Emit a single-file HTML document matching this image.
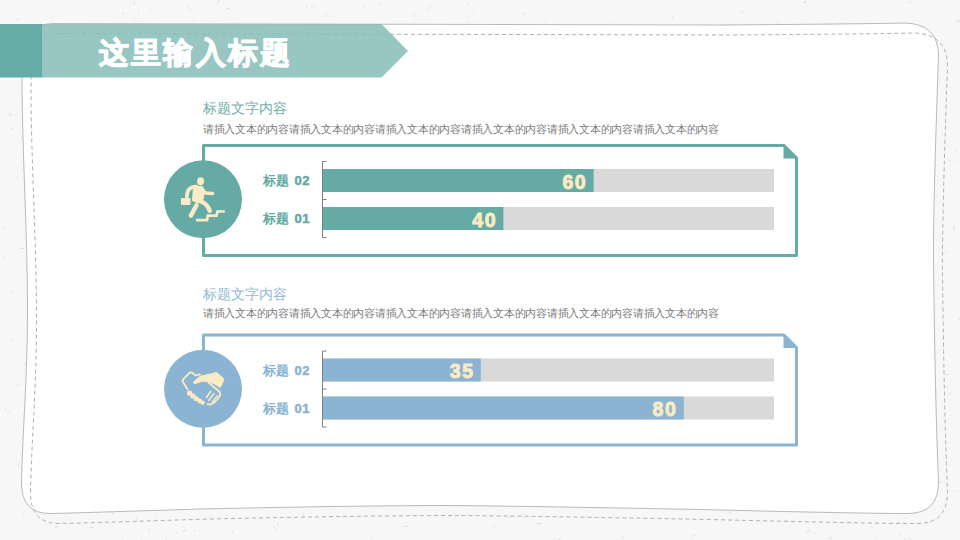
<!DOCTYPE html>
<html><head><meta charset="utf-8">
<style>
html,body{margin:0;padding:0;width:960px;height:540px;overflow:hidden;background:#f7f7f7;}
svg{display:block;font-family:"Liberation Sans",sans-serif;}
</style></head>
<body>
<svg width="960" height="540" viewBox="0 0 960 540">
<rect width="960" height="540" fill="#f7f7f7"/>
<g stroke-width="1">
<line x1="310.9" y1="81.5" x2="314.1" y2="82.2" stroke="rgb(229,229,229)" stroke-opacity="0.55"/>
<line x1="559.5" y1="491.2" x2="561.2" y2="491.7" stroke="rgb(225,225,225)" stroke-opacity="0.53"/>
<line x1="87.1" y1="229.2" x2="90.7" y2="230.7" stroke="rgb(219,219,219)" stroke-opacity="0.82"/>
<line x1="559.7" y1="33.4" x2="562.7" y2="33.9" stroke="rgb(219,219,219)" stroke-opacity="0.52"/>
<line x1="824.1" y1="156.4" x2="825.5" y2="156.9" stroke="rgb(221,221,221)" stroke-opacity="0.78"/>
<line x1="654.7" y1="55.7" x2="657.2" y2="57.3" stroke="rgb(215,215,215)" stroke-opacity="0.77"/>
<line x1="60.3" y1="32.2" x2="59.4" y2="33.6" stroke="rgb(225,225,225)" stroke-opacity="0.89"/>
<line x1="447.0" y1="498.7" x2="448.6" y2="500.3" stroke="rgb(217,217,217)" stroke-opacity="0.85"/>
<line x1="234.3" y1="310.2" x2="231.7" y2="311.3" stroke="rgb(235,235,235)" stroke-opacity="0.72"/>
<line x1="584.6" y1="39.5" x2="587.0" y2="40.9" stroke="rgb(222,222,222)" stroke-opacity="0.58"/>
<line x1="469.4" y1="21.2" x2="466.9" y2="23.4" stroke="rgb(230,230,230)" stroke-opacity="0.89"/>
<line x1="785.6" y1="183.7" x2="785.6" y2="185.9" stroke="rgb(226,226,226)" stroke-opacity="0.53"/>
<line x1="89.9" y1="145.8" x2="93.2" y2="146.5" stroke="rgb(235,235,235)" stroke-opacity="0.85"/>
<line x1="621.2" y1="536.3" x2="623.7" y2="539.3" stroke="rgb(224,224,224)" stroke-opacity="0.94"/>
<line x1="333.1" y1="508.0" x2="332.4" y2="510.1" stroke="rgb(227,227,227)" stroke-opacity="0.53"/>
<line x1="737.5" y1="69.8" x2="738.1" y2="71.6" stroke="rgb(227,227,227)" stroke-opacity="0.54"/>
<line x1="431.2" y1="296.7" x2="427.8" y2="298.9" stroke="rgb(229,229,229)" stroke-opacity="0.64"/>
<line x1="398.7" y1="193.7" x2="394.6" y2="194.3" stroke="rgb(216,216,216)" stroke-opacity="0.54"/>
<line x1="145.2" y1="355.6" x2="144.3" y2="356.1" stroke="rgb(217,217,217)" stroke-opacity="0.63"/>
<line x1="3.9" y1="226.2" x2="3.5" y2="228.5" stroke="rgb(216,216,216)" stroke-opacity="0.85"/>
<line x1="494.9" y1="333.5" x2="498.2" y2="334.1" stroke="rgb(236,236,236)" stroke-opacity="0.98"/>
<line x1="653.4" y1="302.0" x2="654.1" y2="304.3" stroke="rgb(227,227,227)" stroke-opacity="0.82"/>
<line x1="59.8" y1="36.4" x2="61.3" y2="37.2" stroke="rgb(222,222,222)" stroke-opacity="0.80"/>
<line x1="98.3" y1="306.1" x2="95.4" y2="306.5" stroke="rgb(231,231,231)" stroke-opacity="0.51"/>
<line x1="839.4" y1="331.6" x2="840.4" y2="332.7" stroke="rgb(223,223,223)" stroke-opacity="0.80"/>
<line x1="455.2" y1="62.3" x2="452.5" y2="62.5" stroke="rgb(227,227,227)" stroke-opacity="0.74"/>
<line x1="82.4" y1="55.2" x2="83.9" y2="56.8" stroke="rgb(234,234,234)" stroke-opacity="0.58"/>
<line x1="22.2" y1="513.5" x2="24.7" y2="514.8" stroke="rgb(229,229,229)" stroke-opacity="0.96"/>
<line x1="727.8" y1="161.0" x2="730.9" y2="161.9" stroke="rgb(220,220,220)" stroke-opacity="0.76"/>
<line x1="871.9" y1="192.1" x2="871.7" y2="193.8" stroke="rgb(228,228,228)" stroke-opacity="0.66"/>
<line x1="214.1" y1="438.2" x2="210.1" y2="440.2" stroke="rgb(219,219,219)" stroke-opacity="0.91"/>
<line x1="710.3" y1="122.4" x2="711.5" y2="125.0" stroke="rgb(212,212,212)" stroke-opacity="0.99"/>
<line x1="758.5" y1="255.0" x2="758.0" y2="256.6" stroke="rgb(223,223,223)" stroke-opacity="0.72"/>
<line x1="899.5" y1="533.5" x2="901.3" y2="537.5" stroke="rgb(219,219,219)" stroke-opacity="0.55"/>
<line x1="451.3" y1="182.4" x2="448.6" y2="182.5" stroke="rgb(231,231,231)" stroke-opacity="0.92"/>
<line x1="460.3" y1="352.6" x2="464.0" y2="353.6" stroke="rgb(233,233,233)" stroke-opacity="0.56"/>
<line x1="373.0" y1="384.2" x2="371.4" y2="384.8" stroke="rgb(225,225,225)" stroke-opacity="0.89"/>
<line x1="319.2" y1="432.4" x2="320.6" y2="436.6" stroke="rgb(224,224,224)" stroke-opacity="0.87"/>
<line x1="81.5" y1="85.8" x2="86.0" y2="86.2" stroke="rgb(230,230,230)" stroke-opacity="0.95"/>
<line x1="774.2" y1="78.9" x2="770.4" y2="79.2" stroke="rgb(233,233,233)" stroke-opacity="0.97"/>
<line x1="149.7" y1="296.1" x2="148.8" y2="296.7" stroke="rgb(235,235,235)" stroke-opacity="0.82"/>
<line x1="505.5" y1="504.2" x2="503.2" y2="505.1" stroke="rgb(218,218,218)" stroke-opacity="0.51"/>
<line x1="204.3" y1="270.6" x2="206.2" y2="273.8" stroke="rgb(229,229,229)" stroke-opacity="0.71"/>
<line x1="125.8" y1="491.4" x2="126.1" y2="493.6" stroke="rgb(230,230,230)" stroke-opacity="0.91"/>
<line x1="496.1" y1="446.7" x2="499.8" y2="448.3" stroke="rgb(216,216,216)" stroke-opacity="0.76"/>
<line x1="18.0" y1="237.7" x2="19.6" y2="237.7" stroke="rgb(216,216,216)" stroke-opacity="0.59"/>
<line x1="454.6" y1="391.6" x2="456.1" y2="394.1" stroke="rgb(228,228,228)" stroke-opacity="0.77"/>
<line x1="463.2" y1="419.3" x2="467.2" y2="420.0" stroke="rgb(218,218,218)" stroke-opacity="0.64"/>
<line x1="741.4" y1="274.2" x2="739.2" y2="276.2" stroke="rgb(214,214,214)" stroke-opacity="0.72"/>
<line x1="588.0" y1="273.0" x2="586.4" y2="275.3" stroke="rgb(226,226,226)" stroke-opacity="0.75"/>
<line x1="775.1" y1="274.2" x2="774.9" y2="276.0" stroke="rgb(220,220,220)" stroke-opacity="0.96"/>
<line x1="857.0" y1="109.4" x2="857.7" y2="111.9" stroke="rgb(224,224,224)" stroke-opacity="0.72"/>
<line x1="69.6" y1="129.9" x2="69.0" y2="131.0" stroke="rgb(215,215,215)" stroke-opacity="0.95"/>
<line x1="148.3" y1="386.7" x2="151.3" y2="388.1" stroke="rgb(216,216,216)" stroke-opacity="0.98"/>
<line x1="210.8" y1="514.4" x2="210.9" y2="516.7" stroke="rgb(233,233,233)" stroke-opacity="0.92"/>
<line x1="155.0" y1="233.0" x2="156.4" y2="235.5" stroke="rgb(218,218,218)" stroke-opacity="0.68"/>
<line x1="88.5" y1="197.6" x2="88.8" y2="199.8" stroke="rgb(234,234,234)" stroke-opacity="0.51"/>
<line x1="318.2" y1="336.9" x2="321.0" y2="337.5" stroke="rgb(219,219,219)" stroke-opacity="0.99"/>
<line x1="100.6" y1="143.4" x2="99.7" y2="144.1" stroke="rgb(220,220,220)" stroke-opacity="0.88"/>
<line x1="787.0" y1="458.8" x2="783.7" y2="459.3" stroke="rgb(224,224,224)" stroke-opacity="0.57"/>
<line x1="882.4" y1="308.1" x2="885.7" y2="309.1" stroke="rgb(213,213,213)" stroke-opacity="0.90"/>
<line x1="176.0" y1="483.5" x2="177.9" y2="483.6" stroke="rgb(214,214,214)" stroke-opacity="0.90"/>
<line x1="80.4" y1="462.4" x2="79.3" y2="462.9" stroke="rgb(226,226,226)" stroke-opacity="0.51"/>
<line x1="954.5" y1="225.6" x2="953.0" y2="229.5" stroke="rgb(213,213,213)" stroke-opacity="0.76"/>
<line x1="228.9" y1="59.1" x2="230.4" y2="59.4" stroke="rgb(218,218,218)" stroke-opacity="0.97"/>
<line x1="603.5" y1="286.8" x2="603.8" y2="288.5" stroke="rgb(233,233,233)" stroke-opacity="0.59"/>
<line x1="333.1" y1="9.8" x2="335.0" y2="9.9" stroke="rgb(235,235,235)" stroke-opacity="0.75"/>
<line x1="938.9" y1="277.7" x2="939.2" y2="279.5" stroke="rgb(233,233,233)" stroke-opacity="0.91"/>
<line x1="414.9" y1="267.3" x2="416.2" y2="271.0" stroke="rgb(228,228,228)" stroke-opacity="0.65"/>
<line x1="206.6" y1="124.0" x2="205.0" y2="124.6" stroke="rgb(235,235,235)" stroke-opacity="0.82"/>
<line x1="388.5" y1="187.7" x2="389.6" y2="188.2" stroke="rgb(214,214,214)" stroke-opacity="0.81"/>
<line x1="844.7" y1="232.6" x2="844.1" y2="233.6" stroke="rgb(224,224,224)" stroke-opacity="0.94"/>
<line x1="643.7" y1="152.2" x2="644.8" y2="153.7" stroke="rgb(226,226,226)" stroke-opacity="0.59"/>
<line x1="258.3" y1="2.0" x2="259.4" y2="3.9" stroke="rgb(229,229,229)" stroke-opacity="0.66"/>
<line x1="33.1" y1="476.5" x2="34.5" y2="477.4" stroke="rgb(222,222,222)" stroke-opacity="0.69"/>
<line x1="455.7" y1="271.5" x2="455.6" y2="273.2" stroke="rgb(212,212,212)" stroke-opacity="0.55"/>
<line x1="784.4" y1="77.7" x2="785.4" y2="80.6" stroke="rgb(221,221,221)" stroke-opacity="0.65"/>
<line x1="223.5" y1="316.2" x2="221.5" y2="318.2" stroke="rgb(233,233,233)" stroke-opacity="0.95"/>
<line x1="752.7" y1="322.1" x2="750.3" y2="325.0" stroke="rgb(227,227,227)" stroke-opacity="0.57"/>
<line x1="695.2" y1="347.3" x2="694.2" y2="347.9" stroke="rgb(228,228,228)" stroke-opacity="0.81"/>
<line x1="704.5" y1="438.6" x2="704.4" y2="440.1" stroke="rgb(228,228,228)" stroke-opacity="0.78"/>
<line x1="780.4" y1="8.7" x2="777.6" y2="10.7" stroke="rgb(234,234,234)" stroke-opacity="0.84"/>
<line x1="665.6" y1="124.2" x2="666.6" y2="124.6" stroke="rgb(223,223,223)" stroke-opacity="0.98"/>
<line x1="361.6" y1="243.7" x2="362.7" y2="243.8" stroke="rgb(229,229,229)" stroke-opacity="0.84"/>
<line x1="469.7" y1="1.8" x2="467.1" y2="4.5" stroke="rgb(228,228,228)" stroke-opacity="0.95"/>
<line x1="88.3" y1="284.0" x2="88.6" y2="287.6" stroke="rgb(214,214,214)" stroke-opacity="0.92"/>
<line x1="225.4" y1="408.5" x2="224.6" y2="410.1" stroke="rgb(226,226,226)" stroke-opacity="0.75"/>
<line x1="367.3" y1="258.7" x2="364.7" y2="260.9" stroke="rgb(231,231,231)" stroke-opacity="0.82"/>
<line x1="190.4" y1="323.8" x2="189.4" y2="325.8" stroke="rgb(234,234,234)" stroke-opacity="0.65"/>
<line x1="545.1" y1="6.7" x2="545.9" y2="7.6" stroke="rgb(233,233,233)" stroke-opacity="0.55"/>
<line x1="209.0" y1="264.4" x2="211.2" y2="267.1" stroke="rgb(226,226,226)" stroke-opacity="0.73"/>
<line x1="113.8" y1="482.6" x2="112.1" y2="482.7" stroke="rgb(227,227,227)" stroke-opacity="0.51"/>
<line x1="440.6" y1="442.7" x2="441.3" y2="447.1" stroke="rgb(220,220,220)" stroke-opacity="0.69"/>
<line x1="879.9" y1="502.5" x2="881.1" y2="502.8" stroke="rgb(235,235,235)" stroke-opacity="0.76"/>
<line x1="914.6" y1="71.6" x2="914.5" y2="75.5" stroke="rgb(215,215,215)" stroke-opacity="0.85"/>
<line x1="222.1" y1="484.8" x2="224.8" y2="485.0" stroke="rgb(212,212,212)" stroke-opacity="0.97"/>
<line x1="654.3" y1="218.9" x2="655.2" y2="222.3" stroke="rgb(224,224,224)" stroke-opacity="0.66"/>
<line x1="806.6" y1="0.9" x2="803.4" y2="2.7" stroke="rgb(215,215,215)" stroke-opacity="0.97"/>
<line x1="187.9" y1="6.3" x2="190.4" y2="8.9" stroke="rgb(214,214,214)" stroke-opacity="0.70"/>
<line x1="958.8" y1="318.2" x2="959.3" y2="320.4" stroke="rgb(220,220,220)" stroke-opacity="0.93"/>
<line x1="269.4" y1="27.9" x2="268.0" y2="30.9" stroke="rgb(216,216,216)" stroke-opacity="0.62"/>
<line x1="255.1" y1="275.9" x2="255.7" y2="277.5" stroke="rgb(225,225,225)" stroke-opacity="0.94"/>
<line x1="779.5" y1="340.7" x2="775.4" y2="341.5" stroke="rgb(229,229,229)" stroke-opacity="0.60"/>
<line x1="77.4" y1="504.1" x2="76.5" y2="506.4" stroke="rgb(216,216,216)" stroke-opacity="0.82"/>
<line x1="274.8" y1="26.4" x2="278.7" y2="28.1" stroke="rgb(227,227,227)" stroke-opacity="0.71"/>
<line x1="270.5" y1="138.1" x2="268.8" y2="141.3" stroke="rgb(224,224,224)" stroke-opacity="0.83"/>
<line x1="288.8" y1="301.0" x2="290.9" y2="302.1" stroke="rgb(217,217,217)" stroke-opacity="0.54"/>
<line x1="480.6" y1="438.4" x2="481.0" y2="441.3" stroke="rgb(222,222,222)" stroke-opacity="1.00"/>
<line x1="432.0" y1="75.4" x2="433.6" y2="75.9" stroke="rgb(222,222,222)" stroke-opacity="0.78"/>
<line x1="306.5" y1="198.9" x2="309.6" y2="201.2" stroke="rgb(212,212,212)" stroke-opacity="0.87"/>
<line x1="396.3" y1="223.5" x2="397.3" y2="226.1" stroke="rgb(222,222,222)" stroke-opacity="0.88"/>
<line x1="478.2" y1="310.1" x2="477.0" y2="312.0" stroke="rgb(228,228,228)" stroke-opacity="0.81"/>
<line x1="828.3" y1="116.6" x2="829.7" y2="118.0" stroke="rgb(224,224,224)" stroke-opacity="0.82"/>
<line x1="414.6" y1="168.5" x2="410.7" y2="168.9" stroke="rgb(216,216,216)" stroke-opacity="0.52"/>
<line x1="681.1" y1="483.7" x2="680.4" y2="486.2" stroke="rgb(212,212,212)" stroke-opacity="0.54"/>
<line x1="893.0" y1="501.2" x2="893.3" y2="504.0" stroke="rgb(226,226,226)" stroke-opacity="0.62"/>
<line x1="104.7" y1="83.4" x2="103.2" y2="85.7" stroke="rgb(235,235,235)" stroke-opacity="0.85"/>
<line x1="812.6" y1="483.2" x2="811.7" y2="484.1" stroke="rgb(212,212,212)" stroke-opacity="0.89"/>
<line x1="223.3" y1="496.8" x2="225.2" y2="499.4" stroke="rgb(216,216,216)" stroke-opacity="0.81"/>
<line x1="507.1" y1="236.2" x2="510.6" y2="237.3" stroke="rgb(221,221,221)" stroke-opacity="0.76"/>
<line x1="559.6" y1="209.6" x2="559.0" y2="211.3" stroke="rgb(212,212,212)" stroke-opacity="0.77"/>
<line x1="956.5" y1="150.4" x2="954.7" y2="151.5" stroke="rgb(219,219,219)" stroke-opacity="0.74"/>
<line x1="225.4" y1="133.4" x2="222.8" y2="136.9" stroke="rgb(221,221,221)" stroke-opacity="0.53"/>
<line x1="186.4" y1="477.8" x2="189.5" y2="478.6" stroke="rgb(219,219,219)" stroke-opacity="0.83"/>
<line x1="888.2" y1="122.5" x2="888.7" y2="123.4" stroke="rgb(225,225,225)" stroke-opacity="0.68"/>
<line x1="380.5" y1="3.6" x2="378.7" y2="4.6" stroke="rgb(214,214,214)" stroke-opacity="0.60"/>
<line x1="931.1" y1="168.3" x2="934.0" y2="170.9" stroke="rgb(219,219,219)" stroke-opacity="0.63"/>
<line x1="853.8" y1="58.9" x2="852.7" y2="61.9" stroke="rgb(219,219,219)" stroke-opacity="0.74"/>
<line x1="874.0" y1="30.5" x2="871.0" y2="31.2" stroke="rgb(213,213,213)" stroke-opacity="0.61"/>
<line x1="935.2" y1="76.6" x2="936.3" y2="76.9" stroke="rgb(224,224,224)" stroke-opacity="0.72"/>
<line x1="683.6" y1="169.7" x2="684.9" y2="170.0" stroke="rgb(217,217,217)" stroke-opacity="0.66"/>
<line x1="178.1" y1="505.4" x2="181.7" y2="505.7" stroke="rgb(233,233,233)" stroke-opacity="0.86"/>
<line x1="805.6" y1="531.9" x2="808.0" y2="532.7" stroke="rgb(214,214,214)" stroke-opacity="0.64"/>
<line x1="337.4" y1="516.0" x2="336.0" y2="516.1" stroke="rgb(218,218,218)" stroke-opacity="0.69"/>
<line x1="738.0" y1="166.7" x2="741.7" y2="167.7" stroke="rgb(234,234,234)" stroke-opacity="0.74"/>
<line x1="357.8" y1="496.5" x2="358.5" y2="498.1" stroke="rgb(227,227,227)" stroke-opacity="0.52"/>
<line x1="394.4" y1="438.4" x2="398.0" y2="438.9" stroke="rgb(213,213,213)" stroke-opacity="0.73"/>
<line x1="771.2" y1="33.5" x2="772.9" y2="33.8" stroke="rgb(231,231,231)" stroke-opacity="0.67"/>
<line x1="261.4" y1="517.2" x2="263.6" y2="519.5" stroke="rgb(234,234,234)" stroke-opacity="0.84"/>
<line x1="887.3" y1="160.6" x2="886.2" y2="164.0" stroke="rgb(232,232,232)" stroke-opacity="0.97"/>
<line x1="62.7" y1="446.0" x2="61.9" y2="447.1" stroke="rgb(226,226,226)" stroke-opacity="0.98"/>
<line x1="371.1" y1="135.6" x2="371.1" y2="138.1" stroke="rgb(227,227,227)" stroke-opacity="0.59"/>
<line x1="770.5" y1="398.8" x2="767.5" y2="401.3" stroke="rgb(231,231,231)" stroke-opacity="0.62"/>
<line x1="826.8" y1="248.8" x2="825.7" y2="252.4" stroke="rgb(228,228,228)" stroke-opacity="0.60"/>
<line x1="722.8" y1="133.5" x2="724.0" y2="133.7" stroke="rgb(229,229,229)" stroke-opacity="0.77"/>
<line x1="154.3" y1="230.3" x2="155.6" y2="230.6" stroke="rgb(231,231,231)" stroke-opacity="0.54"/>
<line x1="92.6" y1="269.2" x2="93.1" y2="272.6" stroke="rgb(219,219,219)" stroke-opacity="0.57"/>
<line x1="442.5" y1="481.3" x2="442.3" y2="483.1" stroke="rgb(236,236,236)" stroke-opacity="0.83"/>
<line x1="116.3" y1="454.1" x2="115.9" y2="456.1" stroke="rgb(223,223,223)" stroke-opacity="0.63"/>
<line x1="249.9" y1="237.3" x2="251.1" y2="238.4" stroke="rgb(221,221,221)" stroke-opacity="0.94"/>
<line x1="555.1" y1="176.2" x2="552.8" y2="176.3" stroke="rgb(228,228,228)" stroke-opacity="0.76"/>
<line x1="623.7" y1="54.3" x2="626.3" y2="54.6" stroke="rgb(212,212,212)" stroke-opacity="0.74"/>
<line x1="786.3" y1="453.9" x2="790.5" y2="454.4" stroke="rgb(221,221,221)" stroke-opacity="0.62"/>
<line x1="48.4" y1="324.3" x2="51.6" y2="326.5" stroke="rgb(214,214,214)" stroke-opacity="0.69"/>
<line x1="831.5" y1="242.5" x2="830.0" y2="243.7" stroke="rgb(212,212,212)" stroke-opacity="0.55"/>
<line x1="572.3" y1="334.8" x2="573.0" y2="336.4" stroke="rgb(216,216,216)" stroke-opacity="0.52"/>
<line x1="959.9" y1="20.6" x2="956.4" y2="21.6" stroke="rgb(212,212,212)" stroke-opacity="0.91"/>
<line x1="392.6" y1="200.8" x2="395.7" y2="201.5" stroke="rgb(213,213,213)" stroke-opacity="0.90"/>
<line x1="526.1" y1="34.2" x2="526.6" y2="35.4" stroke="rgb(229,229,229)" stroke-opacity="0.58"/>
<line x1="512.6" y1="352.7" x2="514.2" y2="354.5" stroke="rgb(221,221,221)" stroke-opacity="0.83"/>
<line x1="401.1" y1="27.7" x2="397.8" y2="29.0" stroke="rgb(225,225,225)" stroke-opacity="0.71"/>
<line x1="829.7" y1="538.2" x2="831.5" y2="539.5" stroke="rgb(235,235,235)" stroke-opacity="0.70"/>
<line x1="904.3" y1="234.4" x2="905.8" y2="235.0" stroke="rgb(214,214,214)" stroke-opacity="0.70"/>
<line x1="847.5" y1="248.9" x2="849.1" y2="249.0" stroke="rgb(229,229,229)" stroke-opacity="0.57"/>
<line x1="774.2" y1="214.2" x2="771.3" y2="214.9" stroke="rgb(235,235,235)" stroke-opacity="0.75"/>
<line x1="140.1" y1="153.0" x2="137.3" y2="153.6" stroke="rgb(215,215,215)" stroke-opacity="0.69"/>
<line x1="723.4" y1="427.8" x2="725.6" y2="430.9" stroke="rgb(213,213,213)" stroke-opacity="0.99"/>
<line x1="463.4" y1="28.8" x2="464.9" y2="32.8" stroke="rgb(234,234,234)" stroke-opacity="0.81"/>
<line x1="791.6" y1="86.5" x2="794.4" y2="89.0" stroke="rgb(224,224,224)" stroke-opacity="0.81"/>
<line x1="188.3" y1="255.4" x2="191.2" y2="255.8" stroke="rgb(228,228,228)" stroke-opacity="0.58"/>
<line x1="344.8" y1="80.7" x2="341.2" y2="83.1" stroke="rgb(218,218,218)" stroke-opacity="0.52"/>
<line x1="539.8" y1="409.0" x2="538.9" y2="409.6" stroke="rgb(215,215,215)" stroke-opacity="0.69"/>
<line x1="437.5" y1="458.5" x2="435.8" y2="461.8" stroke="rgb(221,221,221)" stroke-opacity="0.79"/>
<line x1="408.7" y1="355.8" x2="409.2" y2="358.3" stroke="rgb(212,212,212)" stroke-opacity="0.50"/>
<line x1="946.7" y1="251.2" x2="945.8" y2="253.6" stroke="rgb(226,226,226)" stroke-opacity="0.92"/>
<line x1="778.1" y1="216.2" x2="778.6" y2="217.3" stroke="rgb(223,223,223)" stroke-opacity="0.55"/>
<line x1="424.3" y1="275.5" x2="423.8" y2="276.5" stroke="rgb(214,214,214)" stroke-opacity="0.96"/>
<line x1="301.2" y1="389.0" x2="300.3" y2="389.9" stroke="rgb(224,224,224)" stroke-opacity="0.83"/>
<line x1="752.9" y1="14.0" x2="752.4" y2="15.1" stroke="rgb(234,234,234)" stroke-opacity="0.91"/>
<line x1="186.0" y1="530.1" x2="183.3" y2="530.5" stroke="rgb(217,217,217)" stroke-opacity="0.84"/>
<line x1="692.2" y1="119.4" x2="690.9" y2="123.1" stroke="rgb(220,220,220)" stroke-opacity="0.58"/>
<line x1="860.7" y1="148.5" x2="864.1" y2="150.2" stroke="rgb(228,228,228)" stroke-opacity="0.98"/>
<line x1="460.9" y1="319.6" x2="463.2" y2="321.8" stroke="rgb(223,223,223)" stroke-opacity="0.52"/>
<line x1="174.8" y1="87.1" x2="172.5" y2="90.7" stroke="rgb(224,224,224)" stroke-opacity="0.58"/>
<line x1="753.5" y1="62.1" x2="752.3" y2="64.7" stroke="rgb(223,223,223)" stroke-opacity="0.98"/>
<line x1="434.9" y1="281.6" x2="431.7" y2="282.7" stroke="rgb(220,220,220)" stroke-opacity="1.00"/>
<line x1="604.6" y1="212.9" x2="607.1" y2="215.7" stroke="rgb(223,223,223)" stroke-opacity="0.79"/>
<line x1="345.8" y1="412.9" x2="348.0" y2="414.2" stroke="rgb(235,235,235)" stroke-opacity="0.98"/>
<line x1="284.5" y1="278.7" x2="282.5" y2="278.9" stroke="rgb(230,230,230)" stroke-opacity="0.96"/>
<line x1="859.9" y1="395.8" x2="862.7" y2="398.2" stroke="rgb(221,221,221)" stroke-opacity="0.81"/>
<line x1="414.9" y1="276.8" x2="418.7" y2="278.5" stroke="rgb(219,219,219)" stroke-opacity="0.81"/>
<line x1="43.8" y1="29.4" x2="45.5" y2="31.8" stroke="rgb(228,228,228)" stroke-opacity="0.68"/>
<line x1="215.3" y1="315.1" x2="217.7" y2="317.0" stroke="rgb(231,231,231)" stroke-opacity="0.91"/>
<line x1="152.3" y1="7.6" x2="150.0" y2="10.6" stroke="rgb(226,226,226)" stroke-opacity="0.55"/>
<line x1="612.7" y1="470.5" x2="613.8" y2="474.1" stroke="rgb(220,220,220)" stroke-opacity="0.98"/>
<line x1="53.9" y1="443.3" x2="52.7" y2="447.2" stroke="rgb(230,230,230)" stroke-opacity="0.72"/>
<line x1="899.7" y1="396.1" x2="897.9" y2="396.7" stroke="rgb(213,213,213)" stroke-opacity="0.53"/>
<line x1="24.2" y1="100.3" x2="22.7" y2="100.7" stroke="rgb(215,215,215)" stroke-opacity="0.51"/>
<line x1="528.9" y1="508.1" x2="530.1" y2="509.0" stroke="rgb(231,231,231)" stroke-opacity="0.82"/>
<line x1="621.7" y1="224.2" x2="621.6" y2="227.4" stroke="rgb(214,214,214)" stroke-opacity="0.65"/>
<line x1="46.6" y1="480.3" x2="44.2" y2="483.2" stroke="rgb(212,212,212)" stroke-opacity="0.69"/>
<line x1="419.2" y1="492.6" x2="418.6" y2="493.8" stroke="rgb(217,217,217)" stroke-opacity="0.61"/>
<line x1="101.1" y1="125.4" x2="101.6" y2="126.4" stroke="rgb(235,235,235)" stroke-opacity="0.96"/>
<line x1="905.1" y1="142.2" x2="904.6" y2="143.3" stroke="rgb(233,233,233)" stroke-opacity="0.72"/>
<line x1="756.9" y1="282.6" x2="756.1" y2="284.3" stroke="rgb(218,218,218)" stroke-opacity="0.54"/>
<line x1="487.1" y1="91.7" x2="483.5" y2="93.7" stroke="rgb(218,218,218)" stroke-opacity="0.97"/>
<line x1="716.3" y1="176.5" x2="718.4" y2="180.0" stroke="rgb(219,219,219)" stroke-opacity="0.69"/>
<line x1="817.9" y1="497.7" x2="814.0" y2="499.8" stroke="rgb(229,229,229)" stroke-opacity="0.73"/>
<line x1="806.1" y1="376.7" x2="806.9" y2="380.6" stroke="rgb(235,235,235)" stroke-opacity="0.62"/>
<line x1="849.4" y1="426.2" x2="848.7" y2="428.5" stroke="rgb(230,230,230)" stroke-opacity="0.96"/>
<line x1="138.8" y1="14.5" x2="137.5" y2="14.8" stroke="rgb(223,223,223)" stroke-opacity="0.99"/>
<line x1="672.7" y1="16.7" x2="672.1" y2="18.0" stroke="rgb(213,213,213)" stroke-opacity="0.85"/>
<line x1="707.3" y1="35.5" x2="708.6" y2="38.3" stroke="rgb(229,229,229)" stroke-opacity="0.95"/>
<line x1="63.3" y1="468.6" x2="59.2" y2="469.3" stroke="rgb(215,215,215)" stroke-opacity="0.62"/>
<line x1="195.0" y1="18.3" x2="190.9" y2="19.5" stroke="rgb(236,236,236)" stroke-opacity="0.82"/>
<line x1="792.1" y1="341.0" x2="794.0" y2="341.6" stroke="rgb(215,215,215)" stroke-opacity="0.90"/>
<line x1="620.5" y1="159.0" x2="622.0" y2="160.6" stroke="rgb(223,223,223)" stroke-opacity="0.63"/>
<line x1="271.3" y1="386.5" x2="272.5" y2="388.4" stroke="rgb(231,231,231)" stroke-opacity="0.75"/>
<line x1="817.3" y1="333.9" x2="817.6" y2="334.9" stroke="rgb(225,225,225)" stroke-opacity="0.76"/>
<line x1="94.4" y1="253.2" x2="94.1" y2="254.4" stroke="rgb(234,234,234)" stroke-opacity="0.93"/>
<line x1="87.3" y1="442.7" x2="88.9" y2="442.7" stroke="rgb(218,218,218)" stroke-opacity="0.64"/>
<line x1="720.5" y1="29.1" x2="722.6" y2="29.8" stroke="rgb(234,234,234)" stroke-opacity="0.90"/>
<line x1="177.1" y1="267.1" x2="175.2" y2="268.2" stroke="rgb(220,220,220)" stroke-opacity="0.79"/>
<line x1="152.5" y1="440.2" x2="155.7" y2="443.1" stroke="rgb(217,217,217)" stroke-opacity="0.55"/>
<line x1="611.1" y1="43.7" x2="608.9" y2="46.7" stroke="rgb(215,215,215)" stroke-opacity="0.81"/>
<line x1="341.4" y1="216.7" x2="339.2" y2="217.5" stroke="rgb(214,214,214)" stroke-opacity="0.71"/>
<line x1="620.0" y1="200.9" x2="620.5" y2="202.9" stroke="rgb(229,229,229)" stroke-opacity="0.75"/>
<line x1="364.1" y1="477.3" x2="364.4" y2="479.2" stroke="rgb(229,229,229)" stroke-opacity="0.80"/>
<line x1="661.7" y1="326.9" x2="661.4" y2="328.0" stroke="rgb(228,228,228)" stroke-opacity="0.58"/>
<line x1="809.4" y1="357.5" x2="812.5" y2="359.4" stroke="rgb(226,226,226)" stroke-opacity="0.84"/>
<line x1="246.9" y1="124.8" x2="246.0" y2="126.7" stroke="rgb(234,234,234)" stroke-opacity="0.62"/>
<line x1="183.9" y1="162.8" x2="180.9" y2="164.4" stroke="rgb(216,216,216)" stroke-opacity="0.86"/>
<line x1="935.8" y1="390.5" x2="937.2" y2="393.3" stroke="rgb(219,219,219)" stroke-opacity="0.66"/>
<line x1="181.7" y1="526.6" x2="185.1" y2="527.7" stroke="rgb(233,233,233)" stroke-opacity="0.55"/>
<line x1="368.9" y1="531.3" x2="366.3" y2="534.1" stroke="rgb(225,225,225)" stroke-opacity="0.64"/>
<line x1="104.9" y1="492.2" x2="103.1" y2="492.9" stroke="rgb(226,226,226)" stroke-opacity="0.52"/>
<line x1="383.1" y1="427.1" x2="383.1" y2="430.6" stroke="rgb(232,232,232)" stroke-opacity="0.65"/>
<line x1="21.2" y1="138.9" x2="24.8" y2="139.0" stroke="rgb(219,219,219)" stroke-opacity="0.95"/>
<line x1="412.8" y1="309.9" x2="413.7" y2="313.5" stroke="rgb(219,219,219)" stroke-opacity="0.83"/>
<line x1="626.4" y1="473.9" x2="625.5" y2="477.0" stroke="rgb(219,219,219)" stroke-opacity="0.84"/>
<line x1="615.9" y1="245.1" x2="615.1" y2="247.0" stroke="rgb(215,215,215)" stroke-opacity="0.95"/>
<line x1="232.7" y1="216.1" x2="235.8" y2="217.7" stroke="rgb(225,225,225)" stroke-opacity="0.74"/>
<line x1="18.9" y1="463.6" x2="17.5" y2="466.1" stroke="rgb(217,217,217)" stroke-opacity="0.95"/>
<line x1="314.9" y1="5.7" x2="311.2" y2="6.9" stroke="rgb(215,215,215)" stroke-opacity="0.52"/>
<line x1="521.6" y1="86.9" x2="518.0" y2="87.5" stroke="rgb(228,228,228)" stroke-opacity="0.67"/>
<line x1="813.3" y1="246.7" x2="813.4" y2="248.4" stroke="rgb(212,212,212)" stroke-opacity="0.82"/>
<line x1="795.8" y1="281.7" x2="793.4" y2="282.1" stroke="rgb(218,218,218)" stroke-opacity="1.00"/>
<line x1="176.5" y1="277.4" x2="173.6" y2="280.7" stroke="rgb(231,231,231)" stroke-opacity="0.68"/>
<line x1="54.4" y1="148.2" x2="56.8" y2="148.3" stroke="rgb(225,225,225)" stroke-opacity="0.96"/>
<line x1="603.4" y1="364.4" x2="606.3" y2="365.5" stroke="rgb(221,221,221)" stroke-opacity="0.87"/>
<line x1="902.3" y1="284.6" x2="900.9" y2="285.7" stroke="rgb(224,224,224)" stroke-opacity="0.73"/>
<line x1="158.0" y1="501.9" x2="157.0" y2="502.6" stroke="rgb(218,218,218)" stroke-opacity="0.73"/>
<line x1="539.6" y1="122.0" x2="541.5" y2="125.9" stroke="rgb(232,232,232)" stroke-opacity="0.92"/>
<line x1="763.4" y1="223.2" x2="760.2" y2="226.2" stroke="rgb(232,232,232)" stroke-opacity="0.56"/>
<line x1="800.4" y1="191.6" x2="803.0" y2="194.5" stroke="rgb(224,224,224)" stroke-opacity="0.84"/>
<line x1="943.6" y1="366.6" x2="941.4" y2="368.1" stroke="rgb(220,220,220)" stroke-opacity="0.68"/>
<line x1="628.2" y1="173.0" x2="627.2" y2="175.5" stroke="rgb(214,214,214)" stroke-opacity="0.83"/>
<line x1="347.9" y1="501.5" x2="351.9" y2="502.2" stroke="rgb(230,230,230)" stroke-opacity="0.95"/>
<line x1="752.7" y1="75.8" x2="751.1" y2="79.4" stroke="rgb(212,212,212)" stroke-opacity="0.83"/>
<line x1="201.4" y1="38.9" x2="200.7" y2="40.8" stroke="rgb(230,230,230)" stroke-opacity="0.57"/>
<line x1="224.3" y1="419.2" x2="226.3" y2="420.2" stroke="rgb(224,224,224)" stroke-opacity="0.90"/>
<line x1="161.2" y1="481.2" x2="158.8" y2="483.2" stroke="rgb(233,233,233)" stroke-opacity="0.95"/>
<line x1="526.6" y1="343.8" x2="526.6" y2="345.8" stroke="rgb(218,218,218)" stroke-opacity="0.77"/>
<line x1="712.2" y1="236.8" x2="711.5" y2="240.9" stroke="rgb(220,220,220)" stroke-opacity="0.71"/>
<line x1="794.0" y1="255.6" x2="794.1" y2="258.5" stroke="rgb(216,216,216)" stroke-opacity="0.85"/>
<line x1="236.7" y1="88.9" x2="234.6" y2="91.2" stroke="rgb(217,217,217)" stroke-opacity="0.92"/>
<line x1="449.2" y1="303.8" x2="446.3" y2="305.4" stroke="rgb(223,223,223)" stroke-opacity="0.71"/>
<line x1="960.0" y1="365.0" x2="960.6" y2="366.5" stroke="rgb(232,232,232)" stroke-opacity="0.51"/>
<line x1="585.3" y1="368.6" x2="587.5" y2="372.3" stroke="rgb(215,215,215)" stroke-opacity="0.76"/>
<line x1="465.3" y1="484.7" x2="464.6" y2="485.5" stroke="rgb(232,232,232)" stroke-opacity="0.56"/>
<line x1="90.7" y1="355.9" x2="89.0" y2="357.3" stroke="rgb(229,229,229)" stroke-opacity="0.89"/>
<line x1="202.3" y1="235.0" x2="201.9" y2="237.4" stroke="rgb(221,221,221)" stroke-opacity="0.65"/>
<line x1="794.6" y1="218.0" x2="796.4" y2="220.1" stroke="rgb(228,228,228)" stroke-opacity="0.67"/>
<line x1="195.4" y1="265.8" x2="196.6" y2="266.6" stroke="rgb(234,234,234)" stroke-opacity="0.65"/>
<line x1="563.0" y1="342.8" x2="566.7" y2="343.3" stroke="rgb(235,235,235)" stroke-opacity="0.78"/>
<line x1="389.8" y1="310.0" x2="392.0" y2="310.8" stroke="rgb(213,213,213)" stroke-opacity="0.59"/>
<line x1="884.6" y1="328.7" x2="882.0" y2="330.7" stroke="rgb(229,229,229)" stroke-opacity="0.81"/>
<line x1="592.0" y1="338.5" x2="591.0" y2="341.8" stroke="rgb(233,233,233)" stroke-opacity="0.54"/>
<line x1="37.9" y1="342.1" x2="40.6" y2="343.8" stroke="rgb(233,233,233)" stroke-opacity="0.59"/>
<line x1="35.5" y1="418.2" x2="33.5" y2="422.0" stroke="rgb(223,223,223)" stroke-opacity="0.94"/>
<line x1="133.1" y1="167.0" x2="130.0" y2="168.5" stroke="rgb(217,217,217)" stroke-opacity="0.71"/>
<line x1="305.7" y1="232.6" x2="302.6" y2="233.2" stroke="rgb(213,213,213)" stroke-opacity="0.75"/>
<line x1="501.3" y1="445.4" x2="502.2" y2="449.0" stroke="rgb(234,234,234)" stroke-opacity="0.96"/>
<line x1="428.6" y1="7.6" x2="427.9" y2="9.9" stroke="rgb(233,233,233)" stroke-opacity="0.99"/>
<line x1="456.4" y1="222.7" x2="455.8" y2="223.9" stroke="rgb(218,218,218)" stroke-opacity="0.95"/>
<line x1="601.8" y1="230.6" x2="601.3" y2="231.5" stroke="rgb(214,214,214)" stroke-opacity="0.61"/>
<line x1="116.5" y1="255.1" x2="116.1" y2="257.0" stroke="rgb(226,226,226)" stroke-opacity="0.87"/>
<line x1="179.9" y1="27.1" x2="177.6" y2="30.0" stroke="rgb(216,216,216)" stroke-opacity="0.86"/>
<line x1="80.9" y1="339.5" x2="81.3" y2="342.9" stroke="rgb(220,220,220)" stroke-opacity="0.96"/>
<line x1="50.6" y1="17.3" x2="49.4" y2="17.7" stroke="rgb(233,233,233)" stroke-opacity="0.91"/>
<line x1="76.5" y1="168.0" x2="79.6" y2="169.7" stroke="rgb(227,227,227)" stroke-opacity="0.80"/>
<line x1="303.6" y1="512.3" x2="304.0" y2="515.9" stroke="rgb(217,217,217)" stroke-opacity="0.57"/>
<line x1="765.5" y1="196.2" x2="764.2" y2="199.2" stroke="rgb(225,225,225)" stroke-opacity="0.74"/>
<line x1="747.0" y1="244.5" x2="745.6" y2="245.8" stroke="rgb(222,222,222)" stroke-opacity="0.65"/>
<line x1="58.2" y1="525.9" x2="55.2" y2="527.7" stroke="rgb(222,222,222)" stroke-opacity="0.93"/>
<line x1="696.7" y1="8.4" x2="695.4" y2="9.1" stroke="rgb(230,230,230)" stroke-opacity="0.71"/>
<line x1="852.6" y1="203.4" x2="851.5" y2="206.6" stroke="rgb(219,219,219)" stroke-opacity="0.90"/>
<line x1="272.0" y1="0.9" x2="272.4" y2="2.8" stroke="rgb(230,230,230)" stroke-opacity="0.96"/>
<line x1="732.8" y1="422.9" x2="734.6" y2="423.7" stroke="rgb(230,230,230)" stroke-opacity="0.57"/>
<line x1="936.4" y1="430.5" x2="934.1" y2="432.4" stroke="rgb(227,227,227)" stroke-opacity="0.67"/>
<line x1="81.7" y1="299.0" x2="84.7" y2="301.2" stroke="rgb(236,236,236)" stroke-opacity="0.86"/>
<line x1="943.0" y1="167.1" x2="943.4" y2="168.3" stroke="rgb(234,234,234)" stroke-opacity="0.60"/>
<line x1="244.5" y1="405.6" x2="245.0" y2="409.4" stroke="rgb(214,214,214)" stroke-opacity="0.77"/>
<line x1="340.9" y1="33.8" x2="340.7" y2="36.2" stroke="rgb(220,220,220)" stroke-opacity="0.94"/>
<line x1="501.0" y1="257.4" x2="503.5" y2="259.1" stroke="rgb(218,218,218)" stroke-opacity="0.55"/>
<line x1="773.6" y1="156.5" x2="774.9" y2="159.2" stroke="rgb(236,236,236)" stroke-opacity="0.76"/>
<line x1="143.0" y1="24.1" x2="144.8" y2="28.2" stroke="rgb(215,215,215)" stroke-opacity="0.69"/>
<line x1="444.9" y1="44.1" x2="447.0" y2="44.3" stroke="rgb(220,220,220)" stroke-opacity="0.76"/>
<line x1="19.7" y1="18.1" x2="15.7" y2="20.0" stroke="rgb(227,227,227)" stroke-opacity="0.79"/>
<line x1="205.0" y1="499.8" x2="206.9" y2="500.4" stroke="rgb(226,226,226)" stroke-opacity="0.88"/>
<line x1="786.1" y1="520.3" x2="788.0" y2="520.5" stroke="rgb(218,218,218)" stroke-opacity="1.00"/>
<line x1="363.1" y1="14.9" x2="363.5" y2="15.9" stroke="rgb(234,234,234)" stroke-opacity="0.73"/>
<line x1="909.3" y1="491.4" x2="908.9" y2="492.5" stroke="rgb(224,224,224)" stroke-opacity="0.96"/>
<line x1="678.1" y1="48.6" x2="679.7" y2="50.0" stroke="rgb(214,214,214)" stroke-opacity="0.98"/>
<line x1="642.9" y1="212.3" x2="645.2" y2="213.5" stroke="rgb(219,219,219)" stroke-opacity="1.00"/>
<line x1="212.9" y1="20.9" x2="213.7" y2="22.6" stroke="rgb(229,229,229)" stroke-opacity="0.95"/>
<line x1="803.7" y1="25.4" x2="801.4" y2="28.4" stroke="rgb(232,232,232)" stroke-opacity="0.88"/>
<line x1="464.1" y1="54.6" x2="466.2" y2="54.6" stroke="rgb(218,218,218)" stroke-opacity="0.84"/>
<line x1="286.8" y1="319.4" x2="290.3" y2="320.6" stroke="rgb(222,222,222)" stroke-opacity="0.69"/>
<line x1="374.4" y1="202.5" x2="374.9" y2="204.8" stroke="rgb(216,216,216)" stroke-opacity="0.96"/>
<line x1="856.5" y1="252.7" x2="853.1" y2="255.1" stroke="rgb(217,217,217)" stroke-opacity="0.96"/>
<line x1="211.7" y1="504.3" x2="207.9" y2="505.7" stroke="rgb(216,216,216)" stroke-opacity="0.89"/>
<line x1="919.6" y1="500.0" x2="922.0" y2="500.2" stroke="rgb(214,214,214)" stroke-opacity="0.73"/>
<line x1="326.2" y1="444.5" x2="325.1" y2="446.9" stroke="rgb(216,216,216)" stroke-opacity="0.67"/>
<line x1="706.6" y1="97.3" x2="704.2" y2="98.2" stroke="rgb(226,226,226)" stroke-opacity="0.94"/>
<line x1="255.7" y1="222.4" x2="256.8" y2="223.5" stroke="rgb(221,221,221)" stroke-opacity="0.67"/>
<line x1="161.1" y1="265.1" x2="159.1" y2="265.8" stroke="rgb(215,215,215)" stroke-opacity="0.58"/>
<line x1="492.9" y1="340.7" x2="489.3" y2="341.6" stroke="rgb(229,229,229)" stroke-opacity="0.74"/>
<line x1="274.8" y1="139.2" x2="275.5" y2="140.8" stroke="rgb(220,220,220)" stroke-opacity="1.00"/>
<line x1="888.1" y1="52.7" x2="886.2" y2="53.3" stroke="rgb(213,213,213)" stroke-opacity="0.92"/>
<line x1="939.4" y1="77.9" x2="940.0" y2="81.1" stroke="rgb(228,228,228)" stroke-opacity="0.67"/>
<line x1="134.5" y1="1.0" x2="134.2" y2="4.9" stroke="rgb(217,217,217)" stroke-opacity="0.68"/>
<line x1="38.9" y1="220.8" x2="40.6" y2="221.9" stroke="rgb(217,217,217)" stroke-opacity="0.76"/>
<line x1="221.2" y1="94.8" x2="218.5" y2="96.4" stroke="rgb(231,231,231)" stroke-opacity="0.87"/>
<line x1="730.8" y1="94.7" x2="730.1" y2="95.9" stroke="rgb(232,232,232)" stroke-opacity="0.91"/>
<line x1="559.6" y1="109.2" x2="558.8" y2="110.2" stroke="rgb(225,225,225)" stroke-opacity="0.92"/>
<line x1="879.6" y1="280.0" x2="881.0" y2="281.7" stroke="rgb(232,232,232)" stroke-opacity="0.93"/>
<line x1="473.3" y1="8.3" x2="473.6" y2="12.5" stroke="rgb(233,233,233)" stroke-opacity="0.63"/>
<line x1="178.6" y1="449.1" x2="180.6" y2="450.2" stroke="rgb(223,223,223)" stroke-opacity="0.79"/>
<line x1="823.8" y1="192.3" x2="819.5" y2="192.7" stroke="rgb(214,214,214)" stroke-opacity="0.56"/>
<line x1="686.0" y1="440.9" x2="688.2" y2="444.3" stroke="rgb(234,234,234)" stroke-opacity="0.93"/>
<line x1="553.3" y1="484.9" x2="555.2" y2="485.6" stroke="rgb(235,235,235)" stroke-opacity="0.75"/>
<line x1="492.8" y1="286.5" x2="495.7" y2="286.7" stroke="rgb(214,214,214)" stroke-opacity="0.61"/>
<line x1="175.1" y1="55.4" x2="173.5" y2="56.5" stroke="rgb(212,212,212)" stroke-opacity="0.51"/>
<line x1="889.3" y1="398.9" x2="887.6" y2="399.9" stroke="rgb(232,232,232)" stroke-opacity="0.79"/>
<line x1="502.0" y1="379.4" x2="500.7" y2="380.0" stroke="rgb(234,234,234)" stroke-opacity="0.59"/>
<line x1="262.1" y1="251.0" x2="259.9" y2="253.1" stroke="rgb(215,215,215)" stroke-opacity="0.56"/>
<line x1="389.4" y1="74.0" x2="386.6" y2="75.3" stroke="rgb(216,216,216)" stroke-opacity="0.83"/>
<line x1="443.6" y1="214.2" x2="447.9" y2="214.4" stroke="rgb(232,232,232)" stroke-opacity="0.69"/>
<line x1="403.7" y1="453.5" x2="404.6" y2="456.1" stroke="rgb(213,213,213)" stroke-opacity="0.89"/>
<line x1="325.0" y1="129.8" x2="325.4" y2="131.9" stroke="rgb(230,230,230)" stroke-opacity="0.90"/>
<line x1="876.3" y1="440.1" x2="880.2" y2="440.8" stroke="rgb(228,228,228)" stroke-opacity="0.57"/>
<line x1="653.0" y1="190.8" x2="651.0" y2="194.4" stroke="rgb(212,212,212)" stroke-opacity="0.68"/>
<line x1="509.6" y1="37.4" x2="509.5" y2="39.9" stroke="rgb(212,212,212)" stroke-opacity="0.61"/>
<line x1="403.9" y1="214.4" x2="404.5" y2="218.9" stroke="rgb(213,213,213)" stroke-opacity="0.90"/>
<line x1="849.0" y1="477.7" x2="848.5" y2="478.7" stroke="rgb(220,220,220)" stroke-opacity="0.96"/>
<line x1="598.5" y1="339.3" x2="602.3" y2="339.7" stroke="rgb(215,215,215)" stroke-opacity="0.63"/>
<line x1="499.5" y1="234.2" x2="502.2" y2="237.6" stroke="rgb(221,221,221)" stroke-opacity="0.67"/>
<line x1="160.3" y1="32.6" x2="156.1" y2="33.7" stroke="rgb(220,220,220)" stroke-opacity="0.54"/>
<line x1="566.6" y1="503.2" x2="566.5" y2="505.8" stroke="rgb(221,221,221)" stroke-opacity="0.96"/>
<line x1="554.3" y1="148.0" x2="551.8" y2="150.6" stroke="rgb(221,221,221)" stroke-opacity="0.92"/>
<line x1="585.6" y1="307.9" x2="588.2" y2="309.8" stroke="rgb(234,234,234)" stroke-opacity="0.68"/>
<line x1="856.1" y1="164.0" x2="853.9" y2="165.4" stroke="rgb(212,212,212)" stroke-opacity="0.62"/>
<line x1="212.7" y1="276.7" x2="212.1" y2="279.0" stroke="rgb(212,212,212)" stroke-opacity="0.96"/>
<line x1="155.8" y1="514.1" x2="156.9" y2="515.9" stroke="rgb(220,220,220)" stroke-opacity="0.64"/>
<line x1="948.0" y1="159.6" x2="951.3" y2="161.3" stroke="rgb(214,214,214)" stroke-opacity="0.80"/>
<line x1="334.1" y1="355.2" x2="331.6" y2="356.6" stroke="rgb(223,223,223)" stroke-opacity="0.87"/>
<line x1="104.9" y1="121.6" x2="101.9" y2="124.8" stroke="rgb(216,216,216)" stroke-opacity="0.71"/>
<line x1="641.5" y1="75.8" x2="640.9" y2="77.4" stroke="rgb(220,220,220)" stroke-opacity="0.91"/>
<line x1="497.1" y1="398.9" x2="494.4" y2="401.4" stroke="rgb(227,227,227)" stroke-opacity="0.63"/>
<line x1="605.4" y1="341.4" x2="606.4" y2="344.7" stroke="rgb(215,215,215)" stroke-opacity="0.50"/>
<line x1="735.1" y1="316.4" x2="732.3" y2="316.7" stroke="rgb(230,230,230)" stroke-opacity="0.57"/>
<line x1="815.9" y1="150.8" x2="818.9" y2="151.9" stroke="rgb(226,226,226)" stroke-opacity="0.85"/>
<line x1="276.5" y1="190.4" x2="276.4" y2="192.6" stroke="rgb(231,231,231)" stroke-opacity="0.69"/>
<line x1="309.1" y1="425.0" x2="309.1" y2="429.0" stroke="rgb(226,226,226)" stroke-opacity="0.65"/>
<line x1="515.4" y1="433.6" x2="516.4" y2="435.9" stroke="rgb(219,219,219)" stroke-opacity="0.54"/>
<line x1="883.4" y1="174.9" x2="879.9" y2="176.8" stroke="rgb(222,222,222)" stroke-opacity="0.60"/>
<line x1="409.4" y1="491.7" x2="410.4" y2="491.9" stroke="rgb(230,230,230)" stroke-opacity="0.95"/>
<line x1="287.8" y1="289.7" x2="287.1" y2="291.6" stroke="rgb(225,225,225)" stroke-opacity="0.76"/>
<line x1="496.6" y1="370.0" x2="497.6" y2="372.2" stroke="rgb(231,231,231)" stroke-opacity="0.84"/>
<line x1="434.9" y1="5.6" x2="435.9" y2="6.4" stroke="rgb(225,225,225)" stroke-opacity="0.69"/>
<line x1="384.9" y1="303.1" x2="382.1" y2="304.2" stroke="rgb(225,225,225)" stroke-opacity="0.74"/>
<line x1="422.6" y1="337.3" x2="424.7" y2="341.2" stroke="rgb(228,228,228)" stroke-opacity="0.87"/>
<line x1="88.6" y1="195.9" x2="90.8" y2="196.4" stroke="rgb(221,221,221)" stroke-opacity="0.76"/>
<line x1="106.1" y1="483.0" x2="103.2" y2="484.9" stroke="rgb(228,228,228)" stroke-opacity="0.94"/>
<line x1="404.1" y1="84.5" x2="404.0" y2="86.5" stroke="rgb(228,228,228)" stroke-opacity="0.95"/>
<line x1="395.8" y1="32.5" x2="398.6" y2="33.5" stroke="rgb(230,230,230)" stroke-opacity="1.00"/>
<line x1="611.1" y1="22.8" x2="609.1" y2="24.4" stroke="rgb(221,221,221)" stroke-opacity="0.86"/>
<line x1="530.8" y1="495.2" x2="533.1" y2="495.9" stroke="rgb(212,212,212)" stroke-opacity="0.83"/>
<line x1="188.8" y1="268.8" x2="190.8" y2="271.0" stroke="rgb(232,232,232)" stroke-opacity="0.95"/>
<line x1="493.8" y1="77.6" x2="493.2" y2="79.2" stroke="rgb(216,216,216)" stroke-opacity="0.58"/>
<line x1="729.1" y1="57.6" x2="730.3" y2="58.3" stroke="rgb(228,228,228)" stroke-opacity="0.75"/>
<line x1="448.8" y1="232.5" x2="447.1" y2="235.9" stroke="rgb(233,233,233)" stroke-opacity="0.89"/>
<line x1="309.9" y1="386.3" x2="311.8" y2="387.5" stroke="rgb(220,220,220)" stroke-opacity="0.81"/>
<line x1="825.0" y1="511.8" x2="826.0" y2="512.4" stroke="rgb(231,231,231)" stroke-opacity="0.69"/>
<line x1="52.5" y1="480.9" x2="49.5" y2="481.3" stroke="rgb(226,226,226)" stroke-opacity="0.53"/>
<line x1="228.8" y1="120.4" x2="228.3" y2="121.9" stroke="rgb(217,217,217)" stroke-opacity="0.66"/>
<line x1="862.9" y1="440.6" x2="862.3" y2="442.5" stroke="rgb(227,227,227)" stroke-opacity="0.99"/>
<line x1="64.8" y1="365.7" x2="63.9" y2="369.0" stroke="rgb(225,225,225)" stroke-opacity="0.65"/>
<line x1="840.3" y1="261.6" x2="843.0" y2="264.2" stroke="rgb(217,217,217)" stroke-opacity="0.58"/>
<line x1="363.8" y1="4.1" x2="365.2" y2="8.0" stroke="rgb(223,223,223)" stroke-opacity="0.56"/>
<line x1="512.4" y1="208.2" x2="514.8" y2="208.7" stroke="rgb(215,215,215)" stroke-opacity="0.71"/>
<line x1="876.5" y1="299.1" x2="876.7" y2="301.4" stroke="rgb(223,223,223)" stroke-opacity="0.62"/>
<line x1="33.5" y1="358.7" x2="35.5" y2="359.7" stroke="rgb(234,234,234)" stroke-opacity="0.56"/>
<line x1="188.4" y1="294.2" x2="187.8" y2="297.9" stroke="rgb(226,226,226)" stroke-opacity="0.92"/>
<line x1="772.7" y1="86.0" x2="771.3" y2="87.7" stroke="rgb(224,224,224)" stroke-opacity="0.81"/>
<line x1="557.5" y1="160.5" x2="559.6" y2="162.1" stroke="rgb(226,226,226)" stroke-opacity="0.84"/>
<line x1="904.4" y1="538.9" x2="905.0" y2="541.9" stroke="rgb(223,223,223)" stroke-opacity="0.77"/>
<line x1="388.0" y1="275.5" x2="387.0" y2="276.5" stroke="rgb(233,233,233)" stroke-opacity="0.76"/>
<line x1="520.9" y1="146.0" x2="522.2" y2="149.5" stroke="rgb(233,233,233)" stroke-opacity="0.86"/>
<line x1="139.3" y1="8.1" x2="137.3" y2="11.0" stroke="rgb(236,236,236)" stroke-opacity="0.93"/>
<line x1="308.2" y1="357.9" x2="307.9" y2="359.2" stroke="rgb(223,223,223)" stroke-opacity="0.90"/>
<line x1="728.1" y1="104.1" x2="731.5" y2="105.1" stroke="rgb(221,221,221)" stroke-opacity="0.56"/>
<line x1="688.0" y1="152.5" x2="685.7" y2="153.2" stroke="rgb(236,236,236)" stroke-opacity="0.81"/>
<line x1="603.5" y1="466.1" x2="607.1" y2="468.3" stroke="rgb(223,223,223)" stroke-opacity="0.84"/>
<line x1="637.1" y1="189.8" x2="635.9" y2="191.9" stroke="rgb(234,234,234)" stroke-opacity="0.73"/>
<line x1="959.9" y1="216.3" x2="963.9" y2="217.5" stroke="rgb(221,221,221)" stroke-opacity="0.56"/>
<line x1="876.2" y1="396.4" x2="879.6" y2="396.8" stroke="rgb(213,213,213)" stroke-opacity="0.80"/>
<line x1="413.5" y1="408.8" x2="412.4" y2="409.9" stroke="rgb(229,229,229)" stroke-opacity="0.66"/>
<line x1="612.8" y1="97.0" x2="611.9" y2="100.9" stroke="rgb(234,234,234)" stroke-opacity="0.76"/>
<line x1="888.7" y1="361.9" x2="885.7" y2="362.5" stroke="rgb(215,215,215)" stroke-opacity="0.92"/>
<line x1="745.4" y1="154.6" x2="744.4" y2="155.1" stroke="rgb(231,231,231)" stroke-opacity="0.85"/>
<line x1="935.2" y1="367.8" x2="935.8" y2="368.7" stroke="rgb(236,236,236)" stroke-opacity="0.96"/>
<line x1="719.5" y1="46.5" x2="720.7" y2="49.8" stroke="rgb(235,235,235)" stroke-opacity="0.81"/>
<line x1="212.0" y1="284.8" x2="209.8" y2="285.1" stroke="rgb(226,226,226)" stroke-opacity="0.97"/>
<line x1="664.0" y1="398.8" x2="662.4" y2="402.4" stroke="rgb(226,226,226)" stroke-opacity="0.75"/>
<line x1="649.5" y1="111.2" x2="646.6" y2="112.8" stroke="rgb(236,236,236)" stroke-opacity="0.56"/>
<line x1="731.4" y1="23.6" x2="728.6" y2="25.6" stroke="rgb(220,220,220)" stroke-opacity="0.59"/>
<line x1="157.1" y1="421.7" x2="158.4" y2="423.0" stroke="rgb(213,213,213)" stroke-opacity="0.58"/>
<line x1="333.3" y1="50.0" x2="336.3" y2="51.3" stroke="rgb(233,233,233)" stroke-opacity="0.85"/>
<line x1="643.5" y1="128.5" x2="643.4" y2="130.3" stroke="rgb(226,226,226)" stroke-opacity="0.57"/>
<line x1="615.3" y1="376.9" x2="614.4" y2="378.1" stroke="rgb(230,230,230)" stroke-opacity="0.78"/>
<line x1="320.2" y1="440.3" x2="318.1" y2="442.3" stroke="rgb(217,217,217)" stroke-opacity="0.84"/>
<line x1="148.6" y1="528.8" x2="149.7" y2="532.6" stroke="rgb(218,218,218)" stroke-opacity="0.56"/>
<line x1="277.8" y1="194.7" x2="279.5" y2="195.0" stroke="rgb(220,220,220)" stroke-opacity="0.65"/>
<line x1="106.2" y1="166.8" x2="110.0" y2="168.9" stroke="rgb(226,226,226)" stroke-opacity="0.73"/>
<line x1="348.5" y1="90.8" x2="349.7" y2="90.8" stroke="rgb(236,236,236)" stroke-opacity="0.74"/>
<line x1="717.4" y1="179.1" x2="719.8" y2="181.8" stroke="rgb(232,232,232)" stroke-opacity="0.74"/>
<line x1="416.9" y1="102.5" x2="419.8" y2="102.6" stroke="rgb(214,214,214)" stroke-opacity="0.82"/>
<line x1="602.6" y1="505.0" x2="604.9" y2="507.4" stroke="rgb(219,219,219)" stroke-opacity="0.54"/>
<line x1="717.6" y1="13.7" x2="719.7" y2="14.7" stroke="rgb(223,223,223)" stroke-opacity="0.59"/>
<line x1="612.6" y1="456.7" x2="616.2" y2="458.8" stroke="rgb(235,235,235)" stroke-opacity="0.92"/>
<line x1="712.6" y1="176.4" x2="711.2" y2="177.3" stroke="rgb(222,222,222)" stroke-opacity="0.62"/>
<line x1="130.9" y1="496.6" x2="133.6" y2="499.5" stroke="rgb(213,213,213)" stroke-opacity="0.52"/>
<line x1="544.2" y1="339.2" x2="541.9" y2="342.3" stroke="rgb(213,213,213)" stroke-opacity="0.97"/>
<line x1="474.6" y1="269.7" x2="475.5" y2="271.0" stroke="rgb(230,230,230)" stroke-opacity="0.81"/>
<line x1="136.2" y1="122.8" x2="135.6" y2="124.2" stroke="rgb(224,224,224)" stroke-opacity="0.54"/>
<line x1="38.3" y1="237.3" x2="37.3" y2="238.6" stroke="rgb(212,212,212)" stroke-opacity="0.52"/>
<line x1="586.3" y1="450.1" x2="588.8" y2="451.3" stroke="rgb(214,214,214)" stroke-opacity="0.83"/>
<line x1="494.0" y1="227.5" x2="494.5" y2="229.6" stroke="rgb(233,233,233)" stroke-opacity="0.98"/>
<line x1="169.2" y1="391.4" x2="171.6" y2="391.4" stroke="rgb(230,230,230)" stroke-opacity="0.84"/>
<line x1="544.8" y1="253.2" x2="544.7" y2="256.1" stroke="rgb(225,225,225)" stroke-opacity="0.99"/>
<line x1="872.4" y1="467.3" x2="868.0" y2="467.9" stroke="rgb(231,231,231)" stroke-opacity="0.54"/>
<line x1="777.3" y1="390.3" x2="776.3" y2="392.2" stroke="rgb(230,230,230)" stroke-opacity="0.79"/>
<line x1="914.7" y1="259.6" x2="916.6" y2="262.2" stroke="rgb(222,222,222)" stroke-opacity="0.77"/>
<line x1="608.4" y1="458.0" x2="607.2" y2="459.3" stroke="rgb(234,234,234)" stroke-opacity="0.54"/>
<line x1="634.1" y1="200.9" x2="634.9" y2="203.8" stroke="rgb(228,228,228)" stroke-opacity="0.62"/>
<line x1="423.7" y1="141.0" x2="421.9" y2="141.2" stroke="rgb(218,218,218)" stroke-opacity="0.77"/>
<line x1="107.8" y1="465.6" x2="109.6" y2="466.1" stroke="rgb(228,228,228)" stroke-opacity="0.84"/>
<line x1="680.7" y1="122.6" x2="680.4" y2="125.2" stroke="rgb(234,234,234)" stroke-opacity="0.56"/>
<line x1="492.7" y1="317.8" x2="493.0" y2="319.0" stroke="rgb(214,214,214)" stroke-opacity="0.90"/>
<line x1="128.9" y1="271.7" x2="126.5" y2="273.0" stroke="rgb(215,215,215)" stroke-opacity="0.81"/>
<line x1="922.0" y1="278.2" x2="920.5" y2="280.4" stroke="rgb(229,229,229)" stroke-opacity="0.59"/>
<line x1="921.6" y1="304.0" x2="925.0" y2="305.6" stroke="rgb(236,236,236)" stroke-opacity="0.81"/>
<line x1="388.2" y1="25.5" x2="387.5" y2="26.4" stroke="rgb(218,218,218)" stroke-opacity="0.73"/>
<line x1="115.7" y1="73.2" x2="119.7" y2="74.4" stroke="rgb(218,218,218)" stroke-opacity="0.78"/>
<line x1="880.8" y1="470.2" x2="879.7" y2="471.4" stroke="rgb(222,222,222)" stroke-opacity="0.90"/>
<line x1="706.6" y1="6.3" x2="708.0" y2="7.6" stroke="rgb(228,228,228)" stroke-opacity="0.87"/>
<line x1="910.1" y1="389.8" x2="909.7" y2="390.9" stroke="rgb(215,215,215)" stroke-opacity="0.68"/>
<line x1="314.3" y1="325.6" x2="313.2" y2="326.0" stroke="rgb(219,219,219)" stroke-opacity="0.63"/>
<line x1="185.4" y1="241.3" x2="184.4" y2="245.1" stroke="rgb(215,215,215)" stroke-opacity="0.90"/>
<line x1="468.5" y1="39.8" x2="470.2" y2="40.7" stroke="rgb(221,221,221)" stroke-opacity="0.94"/>
<line x1="642.8" y1="451.6" x2="644.9" y2="453.7" stroke="rgb(234,234,234)" stroke-opacity="0.88"/>
<line x1="258.0" y1="239.8" x2="256.9" y2="239.8" stroke="rgb(227,227,227)" stroke-opacity="0.75"/>
<line x1="838.1" y1="432.2" x2="839.1" y2="432.9" stroke="rgb(232,232,232)" stroke-opacity="0.84"/>
<line x1="376.9" y1="256.9" x2="375.5" y2="257.6" stroke="rgb(224,224,224)" stroke-opacity="0.61"/>
<line x1="919.6" y1="279.2" x2="919.4" y2="281.4" stroke="rgb(221,221,221)" stroke-opacity="0.95"/>
<line x1="565.7" y1="23.6" x2="566.3" y2="25.0" stroke="rgb(226,226,226)" stroke-opacity="0.67"/>
<line x1="449.7" y1="506.2" x2="450.7" y2="508.0" stroke="rgb(227,227,227)" stroke-opacity="0.67"/>
<line x1="19.7" y1="248.1" x2="24.1" y2="248.7" stroke="rgb(216,216,216)" stroke-opacity="0.86"/>
<line x1="137.9" y1="207.6" x2="136.7" y2="207.6" stroke="rgb(223,223,223)" stroke-opacity="0.78"/>
<line x1="507.0" y1="516.8" x2="511.5" y2="517.2" stroke="rgb(229,229,229)" stroke-opacity="0.95"/>
<line x1="91.4" y1="107.6" x2="90.9" y2="110.0" stroke="rgb(215,215,215)" stroke-opacity="0.68"/>
<line x1="270.3" y1="429.5" x2="266.3" y2="430.2" stroke="rgb(233,233,233)" stroke-opacity="0.54"/>
<line x1="924.4" y1="184.4" x2="922.4" y2="185.4" stroke="rgb(219,219,219)" stroke-opacity="0.68"/>
<line x1="528.7" y1="219.2" x2="529.3" y2="220.3" stroke="rgb(222,222,222)" stroke-opacity="0.94"/>
<line x1="751.3" y1="272.0" x2="747.9" y2="274.3" stroke="rgb(223,223,223)" stroke-opacity="0.58"/>
<line x1="197.1" y1="479.9" x2="198.1" y2="483.1" stroke="rgb(224,224,224)" stroke-opacity="0.78"/>
<line x1="290.3" y1="91.2" x2="291.0" y2="92.2" stroke="rgb(221,221,221)" stroke-opacity="0.63"/>
<line x1="549.0" y1="355.8" x2="553.3" y2="356.8" stroke="rgb(218,218,218)" stroke-opacity="0.79"/>
<line x1="76.8" y1="96.5" x2="73.8" y2="96.6" stroke="rgb(223,223,223)" stroke-opacity="0.99"/>
<line x1="662.7" y1="389.5" x2="659.0" y2="391.5" stroke="rgb(222,222,222)" stroke-opacity="0.95"/>
<line x1="264.8" y1="139.1" x2="265.8" y2="139.6" stroke="rgb(220,220,220)" stroke-opacity="0.62"/>
<line x1="19.3" y1="25.8" x2="16.8" y2="26.6" stroke="rgb(221,221,221)" stroke-opacity="0.93"/>
<line x1="622.2" y1="106.2" x2="618.6" y2="106.6" stroke="rgb(231,231,231)" stroke-opacity="0.52"/>
<line x1="70.5" y1="440.8" x2="68.6" y2="443.2" stroke="rgb(212,212,212)" stroke-opacity="0.59"/>
<line x1="515.5" y1="472.7" x2="512.3" y2="473.5" stroke="rgb(218,218,218)" stroke-opacity="0.66"/>
<line x1="833.0" y1="14.6" x2="832.1" y2="17.2" stroke="rgb(222,222,222)" stroke-opacity="0.59"/>
<line x1="828.8" y1="430.0" x2="828.3" y2="431.2" stroke="rgb(236,236,236)" stroke-opacity="0.75"/>
<line x1="573.9" y1="138.8" x2="576.6" y2="138.9" stroke="rgb(222,222,222)" stroke-opacity="0.78"/>
<line x1="948.0" y1="30.2" x2="946.0" y2="32.6" stroke="rgb(222,222,222)" stroke-opacity="0.58"/>
<line x1="17.9" y1="113.7" x2="15.4" y2="115.0" stroke="rgb(223,223,223)" stroke-opacity="0.91"/>
<line x1="406.3" y1="290.9" x2="405.8" y2="293.9" stroke="rgb(233,233,233)" stroke-opacity="0.99"/>
<line x1="552.0" y1="124.2" x2="549.3" y2="126.0" stroke="rgb(227,227,227)" stroke-opacity="0.88"/>
<line x1="745.0" y1="167.0" x2="741.3" y2="167.3" stroke="rgb(226,226,226)" stroke-opacity="0.78"/>
<line x1="346.9" y1="286.0" x2="348.3" y2="287.4" stroke="rgb(229,229,229)" stroke-opacity="0.74"/>
<line x1="629.1" y1="418.0" x2="626.9" y2="418.1" stroke="rgb(219,219,219)" stroke-opacity="0.70"/>
<line x1="939.9" y1="506.0" x2="942.9" y2="507.1" stroke="rgb(229,229,229)" stroke-opacity="0.75"/>
<line x1="533.0" y1="98.2" x2="534.8" y2="102.1" stroke="rgb(216,216,216)" stroke-opacity="0.95"/>
<line x1="836.0" y1="462.1" x2="835.7" y2="465.8" stroke="rgb(223,223,223)" stroke-opacity="0.89"/>
<line x1="232.9" y1="530.5" x2="231.7" y2="533.0" stroke="rgb(223,223,223)" stroke-opacity="0.95"/>
<line x1="373.5" y1="114.5" x2="377.2" y2="114.8" stroke="rgb(233,233,233)" stroke-opacity="0.87"/>
<line x1="62.8" y1="348.5" x2="60.6" y2="349.5" stroke="rgb(213,213,213)" stroke-opacity="0.61"/>
<line x1="361.0" y1="489.8" x2="359.9" y2="491.8" stroke="rgb(219,219,219)" stroke-opacity="0.52"/>
<line x1="19.9" y1="383.0" x2="20.8" y2="384.7" stroke="rgb(222,222,222)" stroke-opacity="0.88"/>
<line x1="617.0" y1="161.2" x2="620.5" y2="164.0" stroke="rgb(230,230,230)" stroke-opacity="0.90"/>
<line x1="458.3" y1="504.3" x2="454.6" y2="504.8" stroke="rgb(216,216,216)" stroke-opacity="0.91"/>
<line x1="271.3" y1="179.0" x2="268.7" y2="179.9" stroke="rgb(217,217,217)" stroke-opacity="0.66"/>
<line x1="585.8" y1="516.7" x2="587.6" y2="517.0" stroke="rgb(218,218,218)" stroke-opacity="0.93"/>
<line x1="706.1" y1="24.9" x2="706.8" y2="28.6" stroke="rgb(225,225,225)" stroke-opacity="0.93"/>
<line x1="955.0" y1="160.7" x2="956.0" y2="161.1" stroke="rgb(212,212,212)" stroke-opacity="0.57"/>
<line x1="290.6" y1="271.4" x2="289.0" y2="273.0" stroke="rgb(226,226,226)" stroke-opacity="0.84"/>
<line x1="86.6" y1="183.4" x2="84.0" y2="186.6" stroke="rgb(222,222,222)" stroke-opacity="0.99"/>
<line x1="31.6" y1="126.7" x2="29.5" y2="129.8" stroke="rgb(213,213,213)" stroke-opacity="0.57"/>
<line x1="571.4" y1="310.4" x2="569.1" y2="313.0" stroke="rgb(213,213,213)" stroke-opacity="1.00"/>
<line x1="303.8" y1="474.4" x2="303.9" y2="475.8" stroke="rgb(216,216,216)" stroke-opacity="0.76"/>
<line x1="2.5" y1="120.9" x2="1.3" y2="123.6" stroke="rgb(229,229,229)" stroke-opacity="0.75"/>
<line x1="107.9" y1="190.9" x2="105.2" y2="191.6" stroke="rgb(223,223,223)" stroke-opacity="0.99"/>
<line x1="819.0" y1="524.9" x2="820.8" y2="525.3" stroke="rgb(234,234,234)" stroke-opacity="0.59"/>
<line x1="254.1" y1="37.2" x2="254.0" y2="38.4" stroke="rgb(225,225,225)" stroke-opacity="0.89"/>
<line x1="913.9" y1="144.3" x2="916.0" y2="144.6" stroke="rgb(226,226,226)" stroke-opacity="0.77"/>
<line x1="526.9" y1="372.8" x2="522.8" y2="374.5" stroke="rgb(234,234,234)" stroke-opacity="0.63"/>
<line x1="405.1" y1="291.6" x2="407.2" y2="292.7" stroke="rgb(236,236,236)" stroke-opacity="0.69"/>
<line x1="393.6" y1="77.2" x2="398.1" y2="77.3" stroke="rgb(231,231,231)" stroke-opacity="0.75"/>
<line x1="949.1" y1="374.6" x2="945.5" y2="374.7" stroke="rgb(218,218,218)" stroke-opacity="0.83"/>
<line x1="83.3" y1="335.2" x2="82.6" y2="336.1" stroke="rgb(224,224,224)" stroke-opacity="0.85"/>
<line x1="311.4" y1="349.0" x2="313.0" y2="351.4" stroke="rgb(230,230,230)" stroke-opacity="0.50"/>
<line x1="716.4" y1="460.9" x2="715.6" y2="463.5" stroke="rgb(224,224,224)" stroke-opacity="0.62"/>
<line x1="604.3" y1="401.4" x2="602.9" y2="403.2" stroke="rgb(224,224,224)" stroke-opacity="0.99"/>
<line x1="255.8" y1="356.2" x2="259.5" y2="357.1" stroke="rgb(229,229,229)" stroke-opacity="0.83"/>
<line x1="887.0" y1="413.3" x2="885.3" y2="414.2" stroke="rgb(235,235,235)" stroke-opacity="0.67"/>
<line x1="565.9" y1="308.2" x2="570.3" y2="309.1" stroke="rgb(236,236,236)" stroke-opacity="0.76"/>
<line x1="503.0" y1="284.8" x2="505.8" y2="287.5" stroke="rgb(217,217,217)" stroke-opacity="0.58"/>
<line x1="635.3" y1="96.0" x2="631.5" y2="97.9" stroke="rgb(232,232,232)" stroke-opacity="0.93"/>
<line x1="41.5" y1="205.9" x2="38.2" y2="208.0" stroke="rgb(215,215,215)" stroke-opacity="0.71"/>
<line x1="674.5" y1="202.6" x2="673.4" y2="204.6" stroke="rgb(228,228,228)" stroke-opacity="0.76"/>
<line x1="434.7" y1="47.5" x2="432.3" y2="47.5" stroke="rgb(234,234,234)" stroke-opacity="0.56"/>
<line x1="609.3" y1="394.6" x2="609.2" y2="396.2" stroke="rgb(212,212,212)" stroke-opacity="0.84"/>
<line x1="352.2" y1="281.2" x2="353.0" y2="282.9" stroke="rgb(222,222,222)" stroke-opacity="0.90"/>
<line x1="242.8" y1="300.3" x2="243.4" y2="301.1" stroke="rgb(230,230,230)" stroke-opacity="0.59"/>
<line x1="689.5" y1="148.3" x2="691.0" y2="149.8" stroke="rgb(226,226,226)" stroke-opacity="0.55"/>
<line x1="610.7" y1="463.8" x2="611.1" y2="465.5" stroke="rgb(221,221,221)" stroke-opacity="0.81"/>
<line x1="356.8" y1="23.7" x2="357.8" y2="26.0" stroke="rgb(234,234,234)" stroke-opacity="0.88"/>
<line x1="931.0" y1="232.7" x2="933.2" y2="235.0" stroke="rgb(219,219,219)" stroke-opacity="0.69"/>
<line x1="555.6" y1="499.4" x2="553.9" y2="499.6" stroke="rgb(234,234,234)" stroke-opacity="0.79"/>
<line x1="60.8" y1="109.7" x2="64.7" y2="110.7" stroke="rgb(226,226,226)" stroke-opacity="0.69"/>
<line x1="504.8" y1="268.2" x2="501.8" y2="271.0" stroke="rgb(212,212,212)" stroke-opacity="0.55"/>
<line x1="540.9" y1="504.9" x2="541.6" y2="508.3" stroke="rgb(227,227,227)" stroke-opacity="0.59"/>
<line x1="62.5" y1="214.7" x2="61.4" y2="215.7" stroke="rgb(212,212,212)" stroke-opacity="0.84"/>
<line x1="710.8" y1="216.9" x2="710.2" y2="217.9" stroke="rgb(229,229,229)" stroke-opacity="0.67"/>
<line x1="372.0" y1="248.3" x2="370.8" y2="248.9" stroke="rgb(230,230,230)" stroke-opacity="0.91"/>
<line x1="97.6" y1="47.7" x2="96.9" y2="51.2" stroke="rgb(213,213,213)" stroke-opacity="0.91"/>
<line x1="191.8" y1="181.2" x2="191.2" y2="185.2" stroke="rgb(235,235,235)" stroke-opacity="0.71"/>
<line x1="560.6" y1="539.0" x2="557.0" y2="540.5" stroke="rgb(216,216,216)" stroke-opacity="0.66"/>
<line x1="182.6" y1="530.4" x2="182.4" y2="532.0" stroke="rgb(228,228,228)" stroke-opacity="0.63"/>
<line x1="300.5" y1="137.7" x2="299.8" y2="141.7" stroke="rgb(228,228,228)" stroke-opacity="0.94"/>
<line x1="653.8" y1="165.7" x2="654.5" y2="167.4" stroke="rgb(225,225,225)" stroke-opacity="0.93"/>
<line x1="246.8" y1="109.1" x2="246.7" y2="110.3" stroke="rgb(223,223,223)" stroke-opacity="0.97"/>
<line x1="630.1" y1="383.3" x2="628.6" y2="383.7" stroke="rgb(222,222,222)" stroke-opacity="0.60"/>
<line x1="882.6" y1="300.3" x2="883.3" y2="301.3" stroke="rgb(229,229,229)" stroke-opacity="0.53"/>
<line x1="913.4" y1="444.6" x2="914.2" y2="445.3" stroke="rgb(226,226,226)" stroke-opacity="0.65"/>
<line x1="682.1" y1="433.3" x2="682.6" y2="436.4" stroke="rgb(235,235,235)" stroke-opacity="0.72"/>
<line x1="842.9" y1="31.2" x2="841.9" y2="33.4" stroke="rgb(213,213,213)" stroke-opacity="0.57"/>
<line x1="844.7" y1="439.7" x2="847.5" y2="439.8" stroke="rgb(235,235,235)" stroke-opacity="0.78"/>
<line x1="768.7" y1="269.0" x2="766.9" y2="271.9" stroke="rgb(221,221,221)" stroke-opacity="0.90"/>
<line x1="513.1" y1="85.8" x2="510.7" y2="88.7" stroke="rgb(228,228,228)" stroke-opacity="0.55"/>
<line x1="91.4" y1="423.5" x2="92.6" y2="427.7" stroke="rgb(233,233,233)" stroke-opacity="0.92"/>
<line x1="678.0" y1="238.9" x2="675.7" y2="239.9" stroke="rgb(234,234,234)" stroke-opacity="0.57"/>
<line x1="153.7" y1="241.0" x2="150.4" y2="242.4" stroke="rgb(222,222,222)" stroke-opacity="0.85"/>
<line x1="690.6" y1="167.2" x2="690.3" y2="169.0" stroke="rgb(218,218,218)" stroke-opacity="0.58"/>
<line x1="767.4" y1="529.3" x2="769.8" y2="529.5" stroke="rgb(224,224,224)" stroke-opacity="0.58"/>
<line x1="279.4" y1="353.6" x2="282.2" y2="355.6" stroke="rgb(216,216,216)" stroke-opacity="0.86"/>
<line x1="412.7" y1="366.6" x2="411.5" y2="367.3" stroke="rgb(215,215,215)" stroke-opacity="0.83"/>
<line x1="202.1" y1="354.3" x2="204.8" y2="355.0" stroke="rgb(227,227,227)" stroke-opacity="0.67"/>
<line x1="720.4" y1="268.1" x2="724.4" y2="269.4" stroke="rgb(227,227,227)" stroke-opacity="0.64"/>
<line x1="290.8" y1="315.3" x2="293.8" y2="317.5" stroke="rgb(227,227,227)" stroke-opacity="0.64"/>
<line x1="857.3" y1="456.5" x2="855.6" y2="456.9" stroke="rgb(213,213,213)" stroke-opacity="0.79"/>
<line x1="96.6" y1="0.7" x2="98.1" y2="1.5" stroke="rgb(221,221,221)" stroke-opacity="0.53"/>
<line x1="319.8" y1="242.8" x2="318.5" y2="244.1" stroke="rgb(217,217,217)" stroke-opacity="0.55"/>
<line x1="798.7" y1="436.9" x2="799.2" y2="440.4" stroke="rgb(235,235,235)" stroke-opacity="0.78"/>
<line x1="756.5" y1="321.6" x2="759.1" y2="321.9" stroke="rgb(228,228,228)" stroke-opacity="0.79"/>
<line x1="396.5" y1="376.1" x2="394.3" y2="377.3" stroke="rgb(214,214,214)" stroke-opacity="0.69"/>
<line x1="636.6" y1="88.5" x2="635.1" y2="88.8" stroke="rgb(222,222,222)" stroke-opacity="0.50"/>
<line x1="619.0" y1="451.9" x2="620.4" y2="453.4" stroke="rgb(215,215,215)" stroke-opacity="0.94"/>
<line x1="112.4" y1="267.9" x2="115.1" y2="268.9" stroke="rgb(226,226,226)" stroke-opacity="0.62"/>
<line x1="545.6" y1="22.7" x2="543.8" y2="23.0" stroke="rgb(221,221,221)" stroke-opacity="0.70"/>
<line x1="195.3" y1="68.6" x2="193.6" y2="69.4" stroke="rgb(228,228,228)" stroke-opacity="0.62"/>
<line x1="91.2" y1="57.1" x2="90.3" y2="57.8" stroke="rgb(234,234,234)" stroke-opacity="0.79"/>
<line x1="661.4" y1="123.8" x2="664.6" y2="125.5" stroke="rgb(220,220,220)" stroke-opacity="1.00"/>
<line x1="407.0" y1="337.1" x2="406.7" y2="338.4" stroke="rgb(215,215,215)" stroke-opacity="0.54"/>
<line x1="555.4" y1="126.3" x2="553.0" y2="128.3" stroke="rgb(234,234,234)" stroke-opacity="0.91"/>
<line x1="788.5" y1="39.4" x2="790.6" y2="40.1" stroke="rgb(218,218,218)" stroke-opacity="0.81"/>
<line x1="664.2" y1="439.9" x2="662.3" y2="441.1" stroke="rgb(226,226,226)" stroke-opacity="0.80"/>
<line x1="175.5" y1="171.4" x2="172.2" y2="174.1" stroke="rgb(213,213,213)" stroke-opacity="0.54"/>
<line x1="235.0" y1="396.2" x2="238.0" y2="397.8" stroke="rgb(223,223,223)" stroke-opacity="0.89"/>
<line x1="195.6" y1="499.4" x2="193.5" y2="502.1" stroke="rgb(214,214,214)" stroke-opacity="1.00"/>
<line x1="759.9" y1="259.1" x2="757.8" y2="260.8" stroke="rgb(214,214,214)" stroke-opacity="0.88"/>
<line x1="610.9" y1="107.5" x2="608.1" y2="109.0" stroke="rgb(225,225,225)" stroke-opacity="0.55"/>
<line x1="688.7" y1="188.6" x2="687.2" y2="188.7" stroke="rgb(233,233,233)" stroke-opacity="0.89"/>
<line x1="476.4" y1="140.0" x2="478.4" y2="142.8" stroke="rgb(213,213,213)" stroke-opacity="0.87"/>
<line x1="799.2" y1="433.2" x2="799.8" y2="436.2" stroke="rgb(232,232,232)" stroke-opacity="0.89"/>
<line x1="836.0" y1="161.4" x2="835.6" y2="165.8" stroke="rgb(232,232,232)" stroke-opacity="0.56"/>
<line x1="929.7" y1="425.2" x2="928.1" y2="426.2" stroke="rgb(219,219,219)" stroke-opacity="0.62"/>
<line x1="564.1" y1="303.3" x2="563.2" y2="307.2" stroke="rgb(233,233,233)" stroke-opacity="0.94"/>
<line x1="48.2" y1="358.4" x2="47.3" y2="360.5" stroke="rgb(236,236,236)" stroke-opacity="0.97"/>
<line x1="792.7" y1="219.4" x2="792.1" y2="220.5" stroke="rgb(222,222,222)" stroke-opacity="0.83"/>
<line x1="868.0" y1="230.4" x2="869.2" y2="232.0" stroke="rgb(231,231,231)" stroke-opacity="0.51"/>
<line x1="106.2" y1="438.7" x2="105.4" y2="441.0" stroke="rgb(226,226,226)" stroke-opacity="0.57"/>
<line x1="523.6" y1="44.9" x2="523.8" y2="47.2" stroke="rgb(213,213,213)" stroke-opacity="0.65"/>
<line x1="84.5" y1="146.3" x2="85.1" y2="149.7" stroke="rgb(233,233,233)" stroke-opacity="0.77"/>
<line x1="232.1" y1="116.8" x2="233.3" y2="119.8" stroke="rgb(217,217,217)" stroke-opacity="0.69"/>
<line x1="319.4" y1="81.5" x2="320.1" y2="82.9" stroke="rgb(231,231,231)" stroke-opacity="0.94"/>
<line x1="922.1" y1="166.6" x2="920.1" y2="167.4" stroke="rgb(231,231,231)" stroke-opacity="0.59"/>
<line x1="797.4" y1="87.6" x2="800.2" y2="87.6" stroke="rgb(217,217,217)" stroke-opacity="0.55"/>
<line x1="236.0" y1="305.2" x2="233.8" y2="307.7" stroke="rgb(233,233,233)" stroke-opacity="0.55"/>
<line x1="530.6" y1="465.6" x2="531.6" y2="468.2" stroke="rgb(236,236,236)" stroke-opacity="0.95"/>
<line x1="639.7" y1="41.0" x2="640.2" y2="44.1" stroke="rgb(221,221,221)" stroke-opacity="0.68"/>
<line x1="634.7" y1="341.2" x2="634.6" y2="343.5" stroke="rgb(233,233,233)" stroke-opacity="0.53"/>
<line x1="628.4" y1="266.4" x2="631.8" y2="266.6" stroke="rgb(233,233,233)" stroke-opacity="0.56"/>
<line x1="362.1" y1="168.0" x2="364.6" y2="169.3" stroke="rgb(231,231,231)" stroke-opacity="0.87"/>
<line x1="33.7" y1="175.6" x2="32.2" y2="175.8" stroke="rgb(220,220,220)" stroke-opacity="0.57"/>
<line x1="564.0" y1="311.5" x2="564.4" y2="312.6" stroke="rgb(235,235,235)" stroke-opacity="0.79"/>
<line x1="942.9" y1="338.7" x2="941.5" y2="339.9" stroke="rgb(212,212,212)" stroke-opacity="0.71"/>
<line x1="939.0" y1="350.4" x2="937.0" y2="353.6" stroke="rgb(224,224,224)" stroke-opacity="0.75"/>
<line x1="935.6" y1="194.5" x2="937.8" y2="198.1" stroke="rgb(230,230,230)" stroke-opacity="0.75"/>
<line x1="46.4" y1="287.5" x2="49.7" y2="289.9" stroke="rgb(213,213,213)" stroke-opacity="0.58"/>
<line x1="708.8" y1="92.2" x2="710.9" y2="92.5" stroke="rgb(221,221,221)" stroke-opacity="0.99"/>
<line x1="746.0" y1="194.5" x2="748.2" y2="197.0" stroke="rgb(227,227,227)" stroke-opacity="0.60"/>
<line x1="308.1" y1="236.7" x2="309.0" y2="237.7" stroke="rgb(224,224,224)" stroke-opacity="0.66"/>
<line x1="761.5" y1="255.2" x2="760.2" y2="255.5" stroke="rgb(231,231,231)" stroke-opacity="0.73"/>
<line x1="803.6" y1="344.0" x2="805.7" y2="347.2" stroke="rgb(216,216,216)" stroke-opacity="0.64"/>
<line x1="514.3" y1="357.1" x2="515.3" y2="361.0" stroke="rgb(214,214,214)" stroke-opacity="0.64"/>
<line x1="348.2" y1="495.4" x2="350.0" y2="497.7" stroke="rgb(232,232,232)" stroke-opacity="0.56"/>
<line x1="431.7" y1="6.3" x2="430.0" y2="8.7" stroke="rgb(221,221,221)" stroke-opacity="0.68"/>
<line x1="902.3" y1="143.4" x2="904.1" y2="143.8" stroke="rgb(229,229,229)" stroke-opacity="0.55"/>
<line x1="578.6" y1="447.3" x2="576.2" y2="450.4" stroke="rgb(221,221,221)" stroke-opacity="0.58"/>
<line x1="169.4" y1="390.4" x2="172.7" y2="391.7" stroke="rgb(224,224,224)" stroke-opacity="0.70"/>
<line x1="902.7" y1="400.9" x2="903.5" y2="403.0" stroke="rgb(222,222,222)" stroke-opacity="0.67"/>
<line x1="178.3" y1="470.7" x2="178.1" y2="473.5" stroke="rgb(233,233,233)" stroke-opacity="0.96"/>
<line x1="277.2" y1="115.0" x2="273.9" y2="115.8" stroke="rgb(214,214,214)" stroke-opacity="0.75"/>
<line x1="817.9" y1="360.6" x2="818.8" y2="363.5" stroke="rgb(230,230,230)" stroke-opacity="0.86"/>
<line x1="753.8" y1="367.0" x2="757.4" y2="368.6" stroke="rgb(219,219,219)" stroke-opacity="0.84"/>
<line x1="724.0" y1="270.3" x2="720.0" y2="271.6" stroke="rgb(235,235,235)" stroke-opacity="0.98"/>
<line x1="893.0" y1="205.7" x2="892.1" y2="207.5" stroke="rgb(234,234,234)" stroke-opacity="0.69"/>
<line x1="860.4" y1="384.5" x2="859.2" y2="388.0" stroke="rgb(228,228,228)" stroke-opacity="0.64"/>
<line x1="204.6" y1="120.9" x2="203.9" y2="122.0" stroke="rgb(214,214,214)" stroke-opacity="0.68"/>
<line x1="671.5" y1="39.0" x2="673.5" y2="42.3" stroke="rgb(212,212,212)" stroke-opacity="0.73"/>
<line x1="733.4" y1="241.3" x2="730.7" y2="241.5" stroke="rgb(230,230,230)" stroke-opacity="0.78"/>
<line x1="775.1" y1="21.4" x2="778.7" y2="22.7" stroke="rgb(219,219,219)" stroke-opacity="0.65"/>
<line x1="898.8" y1="520.9" x2="901.0" y2="522.8" stroke="rgb(229,229,229)" stroke-opacity="0.90"/>
<line x1="200.6" y1="453.3" x2="200.2" y2="457.1" stroke="rgb(212,212,212)" stroke-opacity="0.61"/>
<line x1="166.1" y1="437.8" x2="166.9" y2="439.6" stroke="rgb(232,232,232)" stroke-opacity="0.64"/>
<line x1="85.9" y1="60.7" x2="83.6" y2="61.0" stroke="rgb(225,225,225)" stroke-opacity="0.61"/>
<line x1="832.9" y1="537.7" x2="829.2" y2="538.1" stroke="rgb(222,222,222)" stroke-opacity="0.83"/>
<line x1="241.7" y1="346.6" x2="242.3" y2="349.5" stroke="rgb(233,233,233)" stroke-opacity="0.94"/>
<line x1="593.0" y1="103.0" x2="595.9" y2="104.1" stroke="rgb(217,217,217)" stroke-opacity="0.64"/>
<line x1="186.4" y1="397.4" x2="187.0" y2="400.2" stroke="rgb(218,218,218)" stroke-opacity="0.90"/>
<line x1="713.3" y1="417.6" x2="712.1" y2="418.8" stroke="rgb(221,221,221)" stroke-opacity="0.87"/>
<line x1="910.4" y1="496.8" x2="908.1" y2="499.5" stroke="rgb(214,214,214)" stroke-opacity="0.68"/>
<line x1="401.2" y1="451.1" x2="398.9" y2="453.5" stroke="rgb(229,229,229)" stroke-opacity="0.63"/>
<line x1="341.2" y1="88.4" x2="338.0" y2="88.5" stroke="rgb(221,221,221)" stroke-opacity="0.55"/>
<line x1="709.8" y1="373.3" x2="712.3" y2="373.5" stroke="rgb(234,234,234)" stroke-opacity="0.73"/>
<line x1="98.1" y1="57.6" x2="96.9" y2="58.6" stroke="rgb(227,227,227)" stroke-opacity="0.74"/>
<line x1="79.4" y1="182.3" x2="77.4" y2="183.0" stroke="rgb(216,216,216)" stroke-opacity="0.92"/>
<line x1="507.2" y1="135.7" x2="508.2" y2="137.8" stroke="rgb(233,233,233)" stroke-opacity="0.51"/>
<line x1="872.5" y1="383.5" x2="868.2" y2="383.8" stroke="rgb(225,225,225)" stroke-opacity="0.89"/>
<line x1="696.7" y1="86.9" x2="697.5" y2="91.0" stroke="rgb(216,216,216)" stroke-opacity="0.51"/>
<line x1="205.5" y1="316.1" x2="207.8" y2="316.2" stroke="rgb(214,214,214)" stroke-opacity="0.73"/>
<line x1="41.5" y1="480.1" x2="44.3" y2="480.7" stroke="rgb(222,222,222)" stroke-opacity="0.67"/>
<line x1="537.2" y1="249.4" x2="533.7" y2="250.4" stroke="rgb(212,212,212)" stroke-opacity="0.62"/>
<line x1="869.6" y1="206.6" x2="869.2" y2="207.9" stroke="rgb(216,216,216)" stroke-opacity="0.97"/>
<line x1="422.4" y1="308.9" x2="420.1" y2="312.4" stroke="rgb(226,226,226)" stroke-opacity="0.88"/>
<line x1="547.4" y1="388.4" x2="550.8" y2="390.4" stroke="rgb(232,232,232)" stroke-opacity="0.84"/>
<line x1="685.2" y1="129.5" x2="683.3" y2="132.2" stroke="rgb(227,227,227)" stroke-opacity="0.80"/>
<line x1="113.7" y1="268.9" x2="112.3" y2="270.8" stroke="rgb(219,219,219)" stroke-opacity="0.50"/>
<line x1="543.4" y1="402.4" x2="542.2" y2="403.7" stroke="rgb(232,232,232)" stroke-opacity="0.52"/>
<line x1="90.0" y1="527.1" x2="93.8" y2="527.6" stroke="rgb(213,213,213)" stroke-opacity="0.70"/>
<line x1="903.5" y1="518.1" x2="907.2" y2="518.6" stroke="rgb(229,229,229)" stroke-opacity="0.82"/>
<line x1="882.5" y1="142.0" x2="884.0" y2="142.1" stroke="rgb(236,236,236)" stroke-opacity="0.98"/>
<line x1="729.1" y1="476.5" x2="730.3" y2="477.0" stroke="rgb(228,228,228)" stroke-opacity="0.58"/>
<line x1="491.6" y1="57.1" x2="488.1" y2="58.4" stroke="rgb(212,212,212)" stroke-opacity="0.54"/>
<line x1="28.5" y1="350.1" x2="28.3" y2="351.3" stroke="rgb(231,231,231)" stroke-opacity="0.80"/>
<line x1="767.5" y1="41.9" x2="767.4" y2="43.1" stroke="rgb(221,221,221)" stroke-opacity="0.73"/>
<line x1="643.9" y1="302.3" x2="645.3" y2="303.3" stroke="rgb(228,228,228)" stroke-opacity="0.91"/>
<line x1="439.7" y1="66.0" x2="442.3" y2="67.9" stroke="rgb(225,225,225)" stroke-opacity="0.99"/>
<line x1="588.2" y1="46.6" x2="586.7" y2="49.0" stroke="rgb(214,214,214)" stroke-opacity="0.87"/>
<line x1="815.7" y1="458.1" x2="816.3" y2="459.3" stroke="rgb(221,221,221)" stroke-opacity="0.65"/>
<line x1="283.9" y1="266.8" x2="285.4" y2="269.5" stroke="rgb(218,218,218)" stroke-opacity="0.50"/>
<line x1="72.0" y1="61.4" x2="71.0" y2="64.6" stroke="rgb(228,228,228)" stroke-opacity="0.69"/>
<line x1="944.4" y1="498.8" x2="946.8" y2="500.7" stroke="rgb(236,236,236)" stroke-opacity="0.87"/>
<line x1="764.7" y1="493.0" x2="762.2" y2="496.0" stroke="rgb(212,212,212)" stroke-opacity="0.84"/>
<line x1="129.6" y1="492.0" x2="133.4" y2="492.7" stroke="rgb(231,231,231)" stroke-opacity="0.97"/>
<line x1="424.1" y1="381.5" x2="425.2" y2="383.0" stroke="rgb(223,223,223)" stroke-opacity="0.51"/>
<line x1="367.0" y1="87.6" x2="365.5" y2="87.8" stroke="rgb(232,232,232)" stroke-opacity="0.97"/>
<line x1="731.8" y1="451.9" x2="728.6" y2="455.0" stroke="rgb(220,220,220)" stroke-opacity="0.90"/>
<line x1="12.6" y1="290.4" x2="12.3" y2="292.6" stroke="rgb(223,223,223)" stroke-opacity="0.96"/>
<line x1="315.6" y1="416.0" x2="312.1" y2="417.3" stroke="rgb(214,214,214)" stroke-opacity="0.77"/>
<line x1="100.7" y1="445.7" x2="99.8" y2="447.7" stroke="rgb(223,223,223)" stroke-opacity="0.53"/>
<line x1="117.0" y1="247.3" x2="118.7" y2="247.6" stroke="rgb(233,233,233)" stroke-opacity="0.77"/>
<line x1="900.4" y1="220.1" x2="898.1" y2="223.5" stroke="rgb(232,232,232)" stroke-opacity="0.54"/>
<line x1="203.9" y1="155.2" x2="208.0" y2="155.4" stroke="rgb(220,220,220)" stroke-opacity="0.72"/>
<line x1="113.6" y1="511.7" x2="112.5" y2="514.7" stroke="rgb(217,217,217)" stroke-opacity="0.85"/>
<line x1="716.2" y1="406.7" x2="717.5" y2="408.0" stroke="rgb(212,212,212)" stroke-opacity="0.55"/>
<line x1="831.6" y1="346.2" x2="830.1" y2="349.0" stroke="rgb(235,235,235)" stroke-opacity="0.80"/>
<line x1="629.9" y1="322.8" x2="631.9" y2="325.6" stroke="rgb(214,214,214)" stroke-opacity="0.86"/>
<line x1="514.3" y1="39.7" x2="514.0" y2="40.9" stroke="rgb(235,235,235)" stroke-opacity="0.75"/>
<line x1="930.8" y1="371.3" x2="929.3" y2="372.6" stroke="rgb(217,217,217)" stroke-opacity="0.95"/>
<line x1="244.7" y1="213.2" x2="247.7" y2="215.0" stroke="rgb(235,235,235)" stroke-opacity="0.94"/>
<line x1="826.9" y1="248.7" x2="828.6" y2="250.0" stroke="rgb(224,224,224)" stroke-opacity="0.91"/>
<line x1="217.2" y1="461.7" x2="215.3" y2="465.0" stroke="rgb(220,220,220)" stroke-opacity="0.81"/>
<line x1="811.8" y1="39.2" x2="810.8" y2="40.1" stroke="rgb(233,233,233)" stroke-opacity="0.79"/>
<line x1="634.8" y1="97.5" x2="636.2" y2="98.0" stroke="rgb(213,213,213)" stroke-opacity="0.69"/>
<line x1="626.1" y1="307.6" x2="627.9" y2="308.0" stroke="rgb(212,212,212)" stroke-opacity="0.63"/>
<line x1="893.5" y1="505.5" x2="893.2" y2="507.7" stroke="rgb(217,217,217)" stroke-opacity="0.57"/>
<line x1="756.5" y1="135.9" x2="756.3" y2="138.2" stroke="rgb(215,215,215)" stroke-opacity="0.94"/>
<line x1="872.9" y1="89.5" x2="869.3" y2="90.3" stroke="rgb(212,212,212)" stroke-opacity="0.61"/>
<line x1="186.2" y1="118.3" x2="187.1" y2="120.4" stroke="rgb(232,232,232)" stroke-opacity="0.95"/>
<line x1="252.4" y1="4.1" x2="252.9" y2="5.3" stroke="rgb(223,223,223)" stroke-opacity="0.62"/>
<line x1="28.2" y1="236.7" x2="28.4" y2="238.1" stroke="rgb(234,234,234)" stroke-opacity="0.75"/>
<line x1="388.5" y1="261.9" x2="384.4" y2="263.1" stroke="rgb(225,225,225)" stroke-opacity="0.72"/>
<line x1="113.6" y1="36.7" x2="113.8" y2="38.9" stroke="rgb(222,222,222)" stroke-opacity="0.78"/>
<line x1="68.7" y1="120.1" x2="67.9" y2="123.6" stroke="rgb(224,224,224)" stroke-opacity="0.56"/>
<line x1="905.9" y1="283.4" x2="907.5" y2="284.4" stroke="rgb(222,222,222)" stroke-opacity="0.61"/>
<line x1="79.8" y1="143.3" x2="80.3" y2="147.5" stroke="rgb(235,235,235)" stroke-opacity="0.57"/>
<line x1="774.5" y1="340.7" x2="775.3" y2="341.8" stroke="rgb(223,223,223)" stroke-opacity="0.53"/>
<line x1="675.3" y1="256.5" x2="675.3" y2="258.4" stroke="rgb(232,232,232)" stroke-opacity="0.83"/>
<line x1="494.1" y1="13.2" x2="492.3" y2="15.1" stroke="rgb(229,229,229)" stroke-opacity="0.82"/>
<line x1="741.7" y1="358.8" x2="742.3" y2="360.2" stroke="rgb(224,224,224)" stroke-opacity="0.90"/>
<line x1="907.8" y1="399.8" x2="909.4" y2="403.5" stroke="rgb(232,232,232)" stroke-opacity="0.59"/>
<line x1="217.8" y1="322.9" x2="221.8" y2="324.0" stroke="rgb(218,218,218)" stroke-opacity="0.93"/>
<line x1="273.8" y1="526.7" x2="276.0" y2="530.0" stroke="rgb(222,222,222)" stroke-opacity="0.79"/>
<line x1="901.9" y1="217.1" x2="905.2" y2="217.2" stroke="rgb(227,227,227)" stroke-opacity="0.62"/>
<line x1="458.0" y1="276.3" x2="458.1" y2="280.6" stroke="rgb(218,218,218)" stroke-opacity="0.81"/>
<line x1="207.7" y1="450.3" x2="206.0" y2="450.3" stroke="rgb(226,226,226)" stroke-opacity="0.64"/>
<line x1="935.9" y1="408.1" x2="936.9" y2="408.7" stroke="rgb(225,225,225)" stroke-opacity="0.83"/>
<line x1="22.0" y1="201.9" x2="20.7" y2="202.7" stroke="rgb(212,212,212)" stroke-opacity="0.58"/>
<line x1="779.3" y1="327.6" x2="778.9" y2="330.2" stroke="rgb(224,224,224)" stroke-opacity="0.57"/>
<line x1="230.8" y1="65.1" x2="234.7" y2="67.1" stroke="rgb(216,216,216)" stroke-opacity="1.00"/>
<line x1="129.9" y1="173.5" x2="133.0" y2="175.3" stroke="rgb(225,225,225)" stroke-opacity="0.58"/>
<line x1="562.2" y1="244.3" x2="559.9" y2="245.1" stroke="rgb(233,233,233)" stroke-opacity="0.61"/>
<line x1="144.7" y1="402.0" x2="142.0" y2="405.5" stroke="rgb(215,215,215)" stroke-opacity="0.53"/>
<line x1="878.2" y1="56.2" x2="878.8" y2="57.1" stroke="rgb(221,221,221)" stroke-opacity="0.88"/>
<line x1="168.2" y1="74.7" x2="168.6" y2="75.9" stroke="rgb(221,221,221)" stroke-opacity="0.90"/>
<line x1="627.3" y1="276.9" x2="628.3" y2="277.9" stroke="rgb(233,233,233)" stroke-opacity="0.77"/>
<line x1="652.6" y1="199.6" x2="652.1" y2="202.3" stroke="rgb(225,225,225)" stroke-opacity="0.54"/>
<line x1="861.6" y1="308.0" x2="860.7" y2="309.3" stroke="rgb(220,220,220)" stroke-opacity="0.82"/>
<line x1="395.6" y1="516.4" x2="393.9" y2="517.4" stroke="rgb(234,234,234)" stroke-opacity="0.87"/>
<line x1="599.3" y1="254.7" x2="596.6" y2="256.7" stroke="rgb(212,212,212)" stroke-opacity="0.72"/>
<line x1="326.4" y1="410.8" x2="322.3" y2="412.3" stroke="rgb(226,226,226)" stroke-opacity="0.98"/>
<line x1="754.3" y1="125.8" x2="751.8" y2="126.1" stroke="rgb(218,218,218)" stroke-opacity="0.77"/>
<line x1="385.0" y1="72.3" x2="386.4" y2="75.6" stroke="rgb(234,234,234)" stroke-opacity="0.68"/>
<line x1="636.8" y1="414.1" x2="637.9" y2="415.0" stroke="rgb(218,218,218)" stroke-opacity="0.94"/>
<line x1="108.6" y1="275.3" x2="107.1" y2="279.2" stroke="rgb(232,232,232)" stroke-opacity="0.54"/>
<line x1="559.1" y1="508.9" x2="560.4" y2="511.6" stroke="rgb(234,234,234)" stroke-opacity="0.88"/>
<line x1="301.9" y1="438.1" x2="300.1" y2="441.1" stroke="rgb(236,236,236)" stroke-opacity="0.58"/>
<line x1="354.9" y1="519.7" x2="351.7" y2="521.6" stroke="rgb(232,232,232)" stroke-opacity="0.60"/>
<line x1="238.6" y1="319.8" x2="240.1" y2="323.2" stroke="rgb(221,221,221)" stroke-opacity="0.82"/>
<line x1="156.9" y1="35.0" x2="155.6" y2="37.2" stroke="rgb(236,236,236)" stroke-opacity="0.79"/>
<line x1="190.4" y1="8.1" x2="188.5" y2="10.3" stroke="rgb(220,220,220)" stroke-opacity="0.51"/>
<line x1="766.5" y1="452.0" x2="767.4" y2="452.9" stroke="rgb(217,217,217)" stroke-opacity="0.61"/>
<line x1="254.5" y1="384.0" x2="259.0" y2="384.3" stroke="rgb(215,215,215)" stroke-opacity="0.54"/>
<line x1="85.0" y1="107.1" x2="87.5" y2="107.7" stroke="rgb(223,223,223)" stroke-opacity="0.66"/>
<line x1="400.7" y1="258.6" x2="402.6" y2="258.9" stroke="rgb(214,214,214)" stroke-opacity="0.63"/>
<line x1="254.9" y1="34.2" x2="253.8" y2="34.3" stroke="rgb(216,216,216)" stroke-opacity="0.90"/>
<line x1="699.6" y1="184.5" x2="701.9" y2="186.0" stroke="rgb(229,229,229)" stroke-opacity="0.90"/>
<line x1="721.2" y1="453.0" x2="722.7" y2="455.0" stroke="rgb(212,212,212)" stroke-opacity="0.61"/>
<line x1="765.3" y1="433.1" x2="764.9" y2="434.4" stroke="rgb(218,218,218)" stroke-opacity="0.90"/>
<line x1="434.1" y1="253.0" x2="432.6" y2="256.5" stroke="rgb(233,233,233)" stroke-opacity="0.74"/>
<line x1="418.1" y1="7.1" x2="421.4" y2="9.8" stroke="rgb(232,232,232)" stroke-opacity="0.73"/>
<line x1="720.8" y1="270.7" x2="722.2" y2="273.1" stroke="rgb(213,213,213)" stroke-opacity="0.52"/>
<line x1="695.4" y1="119.3" x2="694.5" y2="121.2" stroke="rgb(234,234,234)" stroke-opacity="0.73"/>
<line x1="184.6" y1="99.3" x2="180.2" y2="99.4" stroke="rgb(220,220,220)" stroke-opacity="0.57"/>
<line x1="59.5" y1="250.0" x2="58.2" y2="251.7" stroke="rgb(233,233,233)" stroke-opacity="0.98"/>
<line x1="762.6" y1="167.2" x2="761.2" y2="168.8" stroke="rgb(213,213,213)" stroke-opacity="0.89"/>
<line x1="302.9" y1="158.5" x2="304.5" y2="159.9" stroke="rgb(217,217,217)" stroke-opacity="0.97"/>
<line x1="842.2" y1="249.3" x2="843.8" y2="250.0" stroke="rgb(228,228,228)" stroke-opacity="0.86"/>
<line x1="835.1" y1="370.3" x2="836.6" y2="372.5" stroke="rgb(214,214,214)" stroke-opacity="0.55"/>
<line x1="67.3" y1="209.0" x2="69.1" y2="210.9" stroke="rgb(233,233,233)" stroke-opacity="0.76"/>
<line x1="431.6" y1="460.2" x2="432.7" y2="464.4" stroke="rgb(234,234,234)" stroke-opacity="0.69"/>
<line x1="429.0" y1="500.9" x2="427.4" y2="504.9" stroke="rgb(215,215,215)" stroke-opacity="0.88"/>
<line x1="84.3" y1="498.1" x2="83.0" y2="498.8" stroke="rgb(229,229,229)" stroke-opacity="0.56"/>
<line x1="447.2" y1="334.4" x2="449.2" y2="334.9" stroke="rgb(236,236,236)" stroke-opacity="0.83"/>
<line x1="327.2" y1="280.7" x2="326.3" y2="281.9" stroke="rgb(234,234,234)" stroke-opacity="0.98"/>
<line x1="49.2" y1="155.5" x2="52.5" y2="157.1" stroke="rgb(215,215,215)" stroke-opacity="0.85"/>
<line x1="303.4" y1="442.0" x2="304.3" y2="445.0" stroke="rgb(219,219,219)" stroke-opacity="0.59"/>
<line x1="734.4" y1="229.9" x2="736.4" y2="230.7" stroke="rgb(219,219,219)" stroke-opacity="0.73"/>
<line x1="529.9" y1="49.5" x2="525.6" y2="50.3" stroke="rgb(235,235,235)" stroke-opacity="0.95"/>
<line x1="453.9" y1="516.5" x2="455.8" y2="518.9" stroke="rgb(226,226,226)" stroke-opacity="0.70"/>
<line x1="193.8" y1="425.2" x2="190.3" y2="426.1" stroke="rgb(227,227,227)" stroke-opacity="0.55"/>
<line x1="780.9" y1="183.0" x2="782.2" y2="184.3" stroke="rgb(227,227,227)" stroke-opacity="0.91"/>
<line x1="667.5" y1="527.2" x2="669.3" y2="529.8" stroke="rgb(235,235,235)" stroke-opacity="0.87"/>
<line x1="327.9" y1="101.3" x2="325.8" y2="102.6" stroke="rgb(219,219,219)" stroke-opacity="0.79"/>
<line x1="10.0" y1="412.3" x2="7.0" y2="413.2" stroke="rgb(222,222,222)" stroke-opacity="0.61"/>
<line x1="305.1" y1="475.8" x2="307.6" y2="479.3" stroke="rgb(231,231,231)" stroke-opacity="0.68"/>
<line x1="363.1" y1="59.5" x2="361.4" y2="60.0" stroke="rgb(225,225,225)" stroke-opacity="0.88"/>
<line x1="738.9" y1="306.2" x2="735.4" y2="308.4" stroke="rgb(232,232,232)" stroke-opacity="0.90"/>
<line x1="951.0" y1="393.2" x2="948.0" y2="395.2" stroke="rgb(220,220,220)" stroke-opacity="0.75"/>
<line x1="312.9" y1="236.0" x2="314.4" y2="237.4" stroke="rgb(234,234,234)" stroke-opacity="0.67"/>
<line x1="787.8" y1="186.5" x2="784.3" y2="188.3" stroke="rgb(236,236,236)" stroke-opacity="0.57"/>
<line x1="900.7" y1="401.9" x2="899.2" y2="404.9" stroke="rgb(213,213,213)" stroke-opacity="0.90"/>
<line x1="808.9" y1="528.8" x2="809.3" y2="533.1" stroke="rgb(226,226,226)" stroke-opacity="0.89"/>
<line x1="835.1" y1="115.6" x2="836.6" y2="117.2" stroke="rgb(215,215,215)" stroke-opacity="0.56"/>
<line x1="851.2" y1="487.6" x2="851.6" y2="488.6" stroke="rgb(231,231,231)" stroke-opacity="0.53"/>
<line x1="711.5" y1="107.2" x2="712.3" y2="109.7" stroke="rgb(227,227,227)" stroke-opacity="0.98"/>
<line x1="297.5" y1="341.4" x2="297.9" y2="345.6" stroke="rgb(223,223,223)" stroke-opacity="0.87"/>
<line x1="299.1" y1="471.9" x2="301.9" y2="472.9" stroke="rgb(230,230,230)" stroke-opacity="1.00"/>
<line x1="860.2" y1="37.0" x2="862.7" y2="37.1" stroke="rgb(233,233,233)" stroke-opacity="0.61"/>
<line x1="200.1" y1="293.1" x2="198.1" y2="296.8" stroke="rgb(215,215,215)" stroke-opacity="0.83"/>
<line x1="545.6" y1="249.2" x2="548.6" y2="249.4" stroke="rgb(216,216,216)" stroke-opacity="0.71"/>
<line x1="88.6" y1="282.8" x2="85.6" y2="285.2" stroke="rgb(223,223,223)" stroke-opacity="0.55"/>
<line x1="762.2" y1="326.0" x2="762.6" y2="327.1" stroke="rgb(235,235,235)" stroke-opacity="0.72"/>
<line x1="365.4" y1="383.3" x2="368.8" y2="385.8" stroke="rgb(221,221,221)" stroke-opacity="1.00"/>
<line x1="494.9" y1="525.1" x2="493.0" y2="527.1" stroke="rgb(212,212,212)" stroke-opacity="0.83"/>
<line x1="137.5" y1="516.6" x2="136.7" y2="521.0" stroke="rgb(217,217,217)" stroke-opacity="0.59"/>
<line x1="873.8" y1="297.8" x2="870.4" y2="299.2" stroke="rgb(223,223,223)" stroke-opacity="0.53"/>
<line x1="53.2" y1="272.7" x2="49.5" y2="274.5" stroke="rgb(234,234,234)" stroke-opacity="0.95"/>
<line x1="916.8" y1="275.8" x2="916.0" y2="280.0" stroke="rgb(216,216,216)" stroke-opacity="0.58"/>
<line x1="420.7" y1="16.4" x2="419.9" y2="17.7" stroke="rgb(231,231,231)" stroke-opacity="0.64"/>
<line x1="403.5" y1="277.1" x2="406.0" y2="277.9" stroke="rgb(212,212,212)" stroke-opacity="0.90"/>
<line x1="867.1" y1="89.3" x2="866.7" y2="93.0" stroke="rgb(219,219,219)" stroke-opacity="0.76"/>
<line x1="168.4" y1="325.6" x2="171.8" y2="328.0" stroke="rgb(230,230,230)" stroke-opacity="0.86"/>
<line x1="105.4" y1="249.7" x2="107.8" y2="251.6" stroke="rgb(225,225,225)" stroke-opacity="0.96"/>
<line x1="50.5" y1="509.8" x2="52.9" y2="510.5" stroke="rgb(214,214,214)" stroke-opacity="0.95"/>
<line x1="537.0" y1="224.1" x2="538.8" y2="225.2" stroke="rgb(218,218,218)" stroke-opacity="1.00"/>
<line x1="322.6" y1="414.0" x2="324.1" y2="415.0" stroke="rgb(217,217,217)" stroke-opacity="0.93"/>
<line x1="342.3" y1="235.4" x2="341.4" y2="237.3" stroke="rgb(226,226,226)" stroke-opacity="0.54"/>
<line x1="185.4" y1="170.5" x2="187.7" y2="172.0" stroke="rgb(227,227,227)" stroke-opacity="0.92"/>
<line x1="738.0" y1="319.7" x2="739.7" y2="321.7" stroke="rgb(228,228,228)" stroke-opacity="0.60"/>
<line x1="568.3" y1="78.1" x2="569.8" y2="78.5" stroke="rgb(234,234,234)" stroke-opacity="0.69"/>
<line x1="66.8" y1="54.2" x2="68.6" y2="57.3" stroke="rgb(234,234,234)" stroke-opacity="0.85"/>
<line x1="376.2" y1="82.3" x2="375.3" y2="86.2" stroke="rgb(212,212,212)" stroke-opacity="0.52"/>
<line x1="753.1" y1="257.5" x2="751.3" y2="259.7" stroke="rgb(233,233,233)" stroke-opacity="0.70"/>
<line x1="415.3" y1="161.0" x2="413.8" y2="163.6" stroke="rgb(235,235,235)" stroke-opacity="0.50"/>
<line x1="659.0" y1="338.3" x2="660.1" y2="341.5" stroke="rgb(222,222,222)" stroke-opacity="0.80"/>
<line x1="650.2" y1="183.6" x2="649.5" y2="187.9" stroke="rgb(224,224,224)" stroke-opacity="0.83"/>
<line x1="274.2" y1="73.4" x2="270.1" y2="73.8" stroke="rgb(231,231,231)" stroke-opacity="0.66"/>
<line x1="460.4" y1="267.7" x2="458.3" y2="268.4" stroke="rgb(223,223,223)" stroke-opacity="0.77"/>
<line x1="760.1" y1="175.6" x2="764.1" y2="177.1" stroke="rgb(220,220,220)" stroke-opacity="0.69"/>
<line x1="584.8" y1="424.4" x2="585.5" y2="426.2" stroke="rgb(224,224,224)" stroke-opacity="0.53"/>
<line x1="778.0" y1="339.3" x2="777.0" y2="339.6" stroke="rgb(221,221,221)" stroke-opacity="0.91"/>
<line x1="153.8" y1="372.6" x2="154.7" y2="373.2" stroke="rgb(213,213,213)" stroke-opacity="0.87"/>
<line x1="135.0" y1="168.0" x2="135.3" y2="169.7" stroke="rgb(215,215,215)" stroke-opacity="0.87"/>
<line x1="691.3" y1="491.6" x2="690.6" y2="495.8" stroke="rgb(214,214,214)" stroke-opacity="0.89"/>
<line x1="142.6" y1="452.3" x2="142.6" y2="453.4" stroke="rgb(235,235,235)" stroke-opacity="0.69"/>
<line x1="89.4" y1="471.4" x2="88.4" y2="474.9" stroke="rgb(221,221,221)" stroke-opacity="0.52"/>
<line x1="53.7" y1="67.1" x2="53.1" y2="67.9" stroke="rgb(232,232,232)" stroke-opacity="0.58"/>
<line x1="444.8" y1="57.8" x2="445.6" y2="59.4" stroke="rgb(218,218,218)" stroke-opacity="0.68"/>
<line x1="939.8" y1="234.6" x2="941.5" y2="236.3" stroke="rgb(219,219,219)" stroke-opacity="0.74"/>
<line x1="23.5" y1="363.6" x2="27.1" y2="365.6" stroke="rgb(216,216,216)" stroke-opacity="0.90"/>
<line x1="601.0" y1="353.8" x2="600.0" y2="356.2" stroke="rgb(213,213,213)" stroke-opacity="0.89"/>
<line x1="525.4" y1="477.6" x2="525.6" y2="478.6" stroke="rgb(212,212,212)" stroke-opacity="0.80"/>
<line x1="323.5" y1="213.8" x2="319.6" y2="215.6" stroke="rgb(229,229,229)" stroke-opacity="0.76"/>
<line x1="476.9" y1="371.7" x2="476.2" y2="373.1" stroke="rgb(228,228,228)" stroke-opacity="0.90"/>
<line x1="754.5" y1="278.0" x2="753.7" y2="278.6" stroke="rgb(225,225,225)" stroke-opacity="0.85"/>
<line x1="181.5" y1="205.5" x2="183.1" y2="208.4" stroke="rgb(227,227,227)" stroke-opacity="0.98"/>
<line x1="891.8" y1="332.2" x2="892.6" y2="334.2" stroke="rgb(220,220,220)" stroke-opacity="1.00"/>
<line x1="202.5" y1="358.6" x2="205.7" y2="358.7" stroke="rgb(230,230,230)" stroke-opacity="0.84"/>
<line x1="305.5" y1="409.1" x2="304.9" y2="410.9" stroke="rgb(217,217,217)" stroke-opacity="0.79"/>
<line x1="524.2" y1="514.1" x2="520.2" y2="514.3" stroke="rgb(227,227,227)" stroke-opacity="0.97"/>
<line x1="726.7" y1="80.5" x2="725.8" y2="84.1" stroke="rgb(221,221,221)" stroke-opacity="0.79"/>
<line x1="410.2" y1="504.0" x2="409.2" y2="504.9" stroke="rgb(215,215,215)" stroke-opacity="0.69"/>
<line x1="841.5" y1="327.3" x2="839.1" y2="328.2" stroke="rgb(220,220,220)" stroke-opacity="0.54"/>
<line x1="430.9" y1="198.9" x2="430.0" y2="199.5" stroke="rgb(221,221,221)" stroke-opacity="0.61"/>
<line x1="628.1" y1="150.1" x2="625.9" y2="150.6" stroke="rgb(228,228,228)" stroke-opacity="1.00"/>
<line x1="409.7" y1="308.7" x2="406.9" y2="311.4" stroke="rgb(226,226,226)" stroke-opacity="0.82"/>
<line x1="305.0" y1="369.1" x2="301.6" y2="369.5" stroke="rgb(213,213,213)" stroke-opacity="0.87"/>
<line x1="139.1" y1="367.0" x2="137.9" y2="367.0" stroke="rgb(229,229,229)" stroke-opacity="0.87"/>
<line x1="900.1" y1="189.9" x2="896.5" y2="191.6" stroke="rgb(220,220,220)" stroke-opacity="0.91"/>
<line x1="31.9" y1="258.1" x2="30.8" y2="258.7" stroke="rgb(213,213,213)" stroke-opacity="0.61"/>
<line x1="576.7" y1="473.1" x2="577.5" y2="474.1" stroke="rgb(231,231,231)" stroke-opacity="0.59"/>
<line x1="131.2" y1="439.9" x2="132.3" y2="440.7" stroke="rgb(228,228,228)" stroke-opacity="0.63"/>
<line x1="157.7" y1="489.5" x2="156.1" y2="490.2" stroke="rgb(219,219,219)" stroke-opacity="0.63"/>
<line x1="876.1" y1="119.4" x2="874.7" y2="123.3" stroke="rgb(236,236,236)" stroke-opacity="0.53"/>
<line x1="367.8" y1="337.3" x2="371.3" y2="340.0" stroke="rgb(225,225,225)" stroke-opacity="0.96"/>
<line x1="773.4" y1="368.3" x2="776.1" y2="370.7" stroke="rgb(226,226,226)" stroke-opacity="0.74"/>
<line x1="508.8" y1="105.8" x2="508.7" y2="107.7" stroke="rgb(215,215,215)" stroke-opacity="0.78"/>
<line x1="388.9" y1="90.6" x2="389.1" y2="92.1" stroke="rgb(227,227,227)" stroke-opacity="0.97"/>
<line x1="540.7" y1="53.4" x2="538.0" y2="53.6" stroke="rgb(222,222,222)" stroke-opacity="0.58"/>
<line x1="850.6" y1="198.5" x2="846.3" y2="198.8" stroke="rgb(216,216,216)" stroke-opacity="0.75"/>
<line x1="271.3" y1="178.3" x2="273.9" y2="179.9" stroke="rgb(236,236,236)" stroke-opacity="0.51"/>
<line x1="196.4" y1="67.0" x2="195.6" y2="68.8" stroke="rgb(230,230,230)" stroke-opacity="0.89"/>
<line x1="900.7" y1="375.6" x2="898.0" y2="376.2" stroke="rgb(218,218,218)" stroke-opacity="0.77"/>
<line x1="828.1" y1="361.7" x2="827.3" y2="363.9" stroke="rgb(221,221,221)" stroke-opacity="0.65"/>
<line x1="681.4" y1="383.0" x2="682.1" y2="386.0" stroke="rgb(218,218,218)" stroke-opacity="0.78"/>
<line x1="197.5" y1="274.0" x2="196.3" y2="274.7" stroke="rgb(233,233,233)" stroke-opacity="0.56"/>
<line x1="275.2" y1="54.4" x2="274.8" y2="56.0" stroke="rgb(233,233,233)" stroke-opacity="0.50"/>
<line x1="47.3" y1="230.3" x2="49.7" y2="234.0" stroke="rgb(230,230,230)" stroke-opacity="0.85"/>
<line x1="494.6" y1="189.0" x2="494.2" y2="192.5" stroke="rgb(217,217,217)" stroke-opacity="0.51"/>
<line x1="194.6" y1="96.8" x2="198.3" y2="98.0" stroke="rgb(215,215,215)" stroke-opacity="0.63"/>
<line x1="845.3" y1="278.4" x2="843.1" y2="278.6" stroke="rgb(224,224,224)" stroke-opacity="1.00"/>
<line x1="25.8" y1="322.1" x2="26.6" y2="325.5" stroke="rgb(235,235,235)" stroke-opacity="0.95"/>
<line x1="493.8" y1="231.0" x2="497.9" y2="231.3" stroke="rgb(212,212,212)" stroke-opacity="1.00"/>
<line x1="953.8" y1="336.6" x2="956.7" y2="338.2" stroke="rgb(235,235,235)" stroke-opacity="0.68"/>
<line x1="128.1" y1="496.3" x2="127.7" y2="498.6" stroke="rgb(217,217,217)" stroke-opacity="0.58"/>
<line x1="143.4" y1="317.8" x2="146.7" y2="319.6" stroke="rgb(228,228,228)" stroke-opacity="0.78"/>
<line x1="92.2" y1="268.2" x2="90.4" y2="270.0" stroke="rgb(235,235,235)" stroke-opacity="0.53"/>
<line x1="405.8" y1="127.8" x2="408.4" y2="130.4" stroke="rgb(223,223,223)" stroke-opacity="0.62"/>
<line x1="88.9" y1="257.8" x2="90.0" y2="259.9" stroke="rgb(236,236,236)" stroke-opacity="0.52"/>
<line x1="936.5" y1="536.0" x2="935.3" y2="536.0" stroke="rgb(219,219,219)" stroke-opacity="0.96"/>
<line x1="579.9" y1="97.7" x2="581.1" y2="98.0" stroke="rgb(222,222,222)" stroke-opacity="0.88"/>
<line x1="325.3" y1="42.6" x2="328.8" y2="43.4" stroke="rgb(236,236,236)" stroke-opacity="0.97"/>
<line x1="234.6" y1="83.5" x2="235.7" y2="85.3" stroke="rgb(215,215,215)" stroke-opacity="0.85"/>
<line x1="411.7" y1="89.6" x2="412.8" y2="90.1" stroke="rgb(235,235,235)" stroke-opacity="0.82"/>
<line x1="150.3" y1="337.6" x2="150.3" y2="338.8" stroke="rgb(222,222,222)" stroke-opacity="0.52"/>
<line x1="500.1" y1="404.0" x2="500.6" y2="405.6" stroke="rgb(219,219,219)" stroke-opacity="0.83"/>
<line x1="416.0" y1="357.1" x2="414.7" y2="357.5" stroke="rgb(212,212,212)" stroke-opacity="0.85"/>
<line x1="635.4" y1="54.5" x2="635.1" y2="56.9" stroke="rgb(221,221,221)" stroke-opacity="1.00"/>
<line x1="321.6" y1="143.8" x2="324.1" y2="145.9" stroke="rgb(224,224,224)" stroke-opacity="0.71"/>
<line x1="810.8" y1="37.3" x2="812.1" y2="37.5" stroke="rgb(218,218,218)" stroke-opacity="1.00"/>
<line x1="883.2" y1="53.9" x2="883.3" y2="56.7" stroke="rgb(218,218,218)" stroke-opacity="0.55"/>
<line x1="887.9" y1="303.9" x2="890.4" y2="304.4" stroke="rgb(230,230,230)" stroke-opacity="0.91"/>
<line x1="454.6" y1="76.3" x2="457.1" y2="77.3" stroke="rgb(233,233,233)" stroke-opacity="0.51"/>
<line x1="177.4" y1="531.9" x2="174.7" y2="534.1" stroke="rgb(214,214,214)" stroke-opacity="0.56"/>
<line x1="309.2" y1="29.0" x2="307.2" y2="31.4" stroke="rgb(223,223,223)" stroke-opacity="0.59"/>
<line x1="796.7" y1="219.6" x2="800.1" y2="221.5" stroke="rgb(226,226,226)" stroke-opacity="0.72"/>
<line x1="3.5" y1="49.4" x2="0.2" y2="50.9" stroke="rgb(232,232,232)" stroke-opacity="0.95"/>
<line x1="632.7" y1="140.8" x2="631.5" y2="141.6" stroke="rgb(214,214,214)" stroke-opacity="0.84"/>
<line x1="3.5" y1="22.9" x2="1.4" y2="23.7" stroke="rgb(230,230,230)" stroke-opacity="0.66"/>
<line x1="872.5" y1="424.5" x2="871.4" y2="428.3" stroke="rgb(232,232,232)" stroke-opacity="0.89"/>
<line x1="805.8" y1="287.9" x2="807.5" y2="289.2" stroke="rgb(235,235,235)" stroke-opacity="0.67"/>
<line x1="358.8" y1="275.7" x2="361.1" y2="277.6" stroke="rgb(220,220,220)" stroke-opacity="0.83"/>
<line x1="123.5" y1="12.1" x2="122.8" y2="14.5" stroke="rgb(213,213,213)" stroke-opacity="0.77"/>
<line x1="264.8" y1="415.8" x2="262.1" y2="418.0" stroke="rgb(228,228,228)" stroke-opacity="0.74"/>
<line x1="676.2" y1="470.7" x2="675.8" y2="473.6" stroke="rgb(221,221,221)" stroke-opacity="0.70"/>
<line x1="680.3" y1="442.0" x2="678.5" y2="444.0" stroke="rgb(218,218,218)" stroke-opacity="0.86"/>
<line x1="827.7" y1="383.0" x2="830.2" y2="383.7" stroke="rgb(223,223,223)" stroke-opacity="0.87"/>
<line x1="199.1" y1="126.3" x2="197.3" y2="129.6" stroke="rgb(233,233,233)" stroke-opacity="0.63"/>
<line x1="351.8" y1="9.1" x2="353.2" y2="11.6" stroke="rgb(225,225,225)" stroke-opacity="0.52"/>
<line x1="923.5" y1="283.4" x2="920.2" y2="283.7" stroke="rgb(219,219,219)" stroke-opacity="0.67"/>
<line x1="453.3" y1="388.6" x2="456.3" y2="390.6" stroke="rgb(215,215,215)" stroke-opacity="0.68"/>
<line x1="259.1" y1="263.1" x2="255.8" y2="264.2" stroke="rgb(225,225,225)" stroke-opacity="0.93"/>
<line x1="421.7" y1="227.5" x2="419.6" y2="227.6" stroke="rgb(217,217,217)" stroke-opacity="0.86"/>
<line x1="338.1" y1="32.8" x2="340.5" y2="35.1" stroke="rgb(213,213,213)" stroke-opacity="0.93"/>
<line x1="855.1" y1="230.7" x2="853.8" y2="231.8" stroke="rgb(223,223,223)" stroke-opacity="0.75"/>
<line x1="106.9" y1="146.7" x2="104.1" y2="146.7" stroke="rgb(220,220,220)" stroke-opacity="0.99"/>
<line x1="376.3" y1="100.4" x2="373.8" y2="103.1" stroke="rgb(215,215,215)" stroke-opacity="0.88"/>
<line x1="319.6" y1="367.0" x2="322.3" y2="368.8" stroke="rgb(212,212,212)" stroke-opacity="0.79"/>
<line x1="549.8" y1="125.1" x2="549.0" y2="126.2" stroke="rgb(219,219,219)" stroke-opacity="0.62"/>
<line x1="562.6" y1="310.3" x2="564.7" y2="310.6" stroke="rgb(222,222,222)" stroke-opacity="0.76"/>
<line x1="816.4" y1="48.6" x2="818.3" y2="50.4" stroke="rgb(226,226,226)" stroke-opacity="0.66"/>
<line x1="399.8" y1="196.1" x2="403.7" y2="197.6" stroke="rgb(224,224,224)" stroke-opacity="0.62"/>
<line x1="822.3" y1="131.5" x2="823.5" y2="134.4" stroke="rgb(213,213,213)" stroke-opacity="0.76"/>
<line x1="528.1" y1="164.0" x2="526.5" y2="166.1" stroke="rgb(226,226,226)" stroke-opacity="0.99"/>
<line x1="52.2" y1="205.4" x2="51.5" y2="207.0" stroke="rgb(236,236,236)" stroke-opacity="0.80"/>
<line x1="450.7" y1="516.4" x2="449.2" y2="516.6" stroke="rgb(220,220,220)" stroke-opacity="0.88"/>
<line x1="718.0" y1="507.0" x2="720.3" y2="510.3" stroke="rgb(218,218,218)" stroke-opacity="0.85"/>
<line x1="64.8" y1="488.7" x2="66.4" y2="488.7" stroke="rgb(225,225,225)" stroke-opacity="0.75"/>
<line x1="277.7" y1="379.1" x2="274.9" y2="379.2" stroke="rgb(217,217,217)" stroke-opacity="0.55"/>
<line x1="506.8" y1="61.6" x2="506.5" y2="63.6" stroke="rgb(219,219,219)" stroke-opacity="0.94"/>
<line x1="343.5" y1="181.2" x2="342.8" y2="184.2" stroke="rgb(221,221,221)" stroke-opacity="0.88"/>
<line x1="593.4" y1="387.0" x2="595.0" y2="390.6" stroke="rgb(229,229,229)" stroke-opacity="0.82"/>
<line x1="132.1" y1="364.0" x2="133.3" y2="364.6" stroke="rgb(212,212,212)" stroke-opacity="0.98"/>
<line x1="346.4" y1="217.1" x2="345.7" y2="218.5" stroke="rgb(233,233,233)" stroke-opacity="0.77"/>
<line x1="346.3" y1="139.5" x2="345.3" y2="140.8" stroke="rgb(217,217,217)" stroke-opacity="0.92"/>
<line x1="359.9" y1="396.1" x2="360.8" y2="396.8" stroke="rgb(222,222,222)" stroke-opacity="0.84"/>
<line x1="648.7" y1="268.4" x2="650.8" y2="269.9" stroke="rgb(217,217,217)" stroke-opacity="0.53"/>
<line x1="167.5" y1="100.6" x2="167.5" y2="104.4" stroke="rgb(234,234,234)" stroke-opacity="0.81"/>
<line x1="164.8" y1="275.1" x2="164.4" y2="277.2" stroke="rgb(216,216,216)" stroke-opacity="0.86"/>
<line x1="703.4" y1="60.1" x2="704.6" y2="61.7" stroke="rgb(218,218,218)" stroke-opacity="0.77"/>
<line x1="592.0" y1="421.2" x2="594.3" y2="423.1" stroke="rgb(226,226,226)" stroke-opacity="0.87"/>
<line x1="307.0" y1="68.2" x2="307.0" y2="72.2" stroke="rgb(229,229,229)" stroke-opacity="0.98"/>
<line x1="789.3" y1="352.5" x2="788.8" y2="353.8" stroke="rgb(213,213,213)" stroke-opacity="0.80"/>
<line x1="661.3" y1="276.6" x2="660.1" y2="277.4" stroke="rgb(214,214,214)" stroke-opacity="0.59"/>
<line x1="794.8" y1="281.2" x2="793.8" y2="281.5" stroke="rgb(226,226,226)" stroke-opacity="0.54"/>
<line x1="793.0" y1="245.1" x2="794.6" y2="246.1" stroke="rgb(222,222,222)" stroke-opacity="0.95"/>
<line x1="325.3" y1="14.1" x2="327.4" y2="14.5" stroke="rgb(214,214,214)" stroke-opacity="0.51"/>
<line x1="690.7" y1="27.3" x2="689.0" y2="30.3" stroke="rgb(221,221,221)" stroke-opacity="0.96"/>
<line x1="869.2" y1="469.8" x2="870.0" y2="474.2" stroke="rgb(220,220,220)" stroke-opacity="0.78"/>
<line x1="5.3" y1="31.8" x2="6.4" y2="33.5" stroke="rgb(233,233,233)" stroke-opacity="0.78"/>
<line x1="587.8" y1="465.5" x2="587.0" y2="466.7" stroke="rgb(226,226,226)" stroke-opacity="0.69"/>
<line x1="774.1" y1="447.9" x2="777.4" y2="450.7" stroke="rgb(220,220,220)" stroke-opacity="0.87"/>
<line x1="798.0" y1="133.8" x2="799.1" y2="137.1" stroke="rgb(219,219,219)" stroke-opacity="0.55"/>
<line x1="422.2" y1="427.0" x2="423.4" y2="429.3" stroke="rgb(227,227,227)" stroke-opacity="0.51"/>
<line x1="723.4" y1="402.4" x2="725.2" y2="406.0" stroke="rgb(218,218,218)" stroke-opacity="0.58"/>
<line x1="476.4" y1="492.6" x2="480.2" y2="494.6" stroke="rgb(236,236,236)" stroke-opacity="0.58"/>
<line x1="881.8" y1="254.8" x2="879.6" y2="256.5" stroke="rgb(218,218,218)" stroke-opacity="0.83"/>
<line x1="238.8" y1="308.4" x2="241.6" y2="311.4" stroke="rgb(223,223,223)" stroke-opacity="0.82"/>
<line x1="463.1" y1="203.5" x2="465.4" y2="205.4" stroke="rgb(225,225,225)" stroke-opacity="0.90"/>
<line x1="837.4" y1="163.4" x2="840.9" y2="165.0" stroke="rgb(229,229,229)" stroke-opacity="0.80"/>
<line x1="601.0" y1="67.7" x2="603.3" y2="70.7" stroke="rgb(215,215,215)" stroke-opacity="0.89"/>
<line x1="651.0" y1="440.2" x2="649.7" y2="442.4" stroke="rgb(225,225,225)" stroke-opacity="0.59"/>
<line x1="96.7" y1="222.4" x2="99.2" y2="223.7" stroke="rgb(219,219,219)" stroke-opacity="0.82"/>
<line x1="416.6" y1="149.9" x2="415.8" y2="150.9" stroke="rgb(218,218,218)" stroke-opacity="0.58"/>
<line x1="562.9" y1="104.3" x2="563.1" y2="107.5" stroke="rgb(215,215,215)" stroke-opacity="0.51"/>
<line x1="892.8" y1="107.6" x2="891.9" y2="108.3" stroke="rgb(230,230,230)" stroke-opacity="0.55"/>
<line x1="417.9" y1="459.0" x2="416.2" y2="463.1" stroke="rgb(231,231,231)" stroke-opacity="0.61"/>
<line x1="549.9" y1="350.0" x2="550.1" y2="352.3" stroke="rgb(214,214,214)" stroke-opacity="0.99"/>
<line x1="151.3" y1="165.8" x2="149.8" y2="166.8" stroke="rgb(215,215,215)" stroke-opacity="0.53"/>
<line x1="549.6" y1="484.7" x2="551.0" y2="485.7" stroke="rgb(220,220,220)" stroke-opacity="0.63"/>
<line x1="82.8" y1="264.3" x2="83.9" y2="265.8" stroke="rgb(226,226,226)" stroke-opacity="0.61"/>
<line x1="232.9" y1="474.3" x2="231.2" y2="476.0" stroke="rgb(212,212,212)" stroke-opacity="0.56"/>
<line x1="719.7" y1="244.2" x2="722.4" y2="244.4" stroke="rgb(219,219,219)" stroke-opacity="0.60"/>
<line x1="35.2" y1="408.7" x2="32.8" y2="409.3" stroke="rgb(224,224,224)" stroke-opacity="0.61"/>
<line x1="401.2" y1="334.1" x2="398.5" y2="336.8" stroke="rgb(233,233,233)" stroke-opacity="0.72"/>
<line x1="737.8" y1="448.6" x2="740.1" y2="450.1" stroke="rgb(225,225,225)" stroke-opacity="0.95"/>
<line x1="788.0" y1="114.0" x2="788.9" y2="114.7" stroke="rgb(230,230,230)" stroke-opacity="0.95"/>
<line x1="955.4" y1="274.7" x2="954.7" y2="275.8" stroke="rgb(225,225,225)" stroke-opacity="0.99"/>
<line x1="12.8" y1="338.6" x2="9.9" y2="340.1" stroke="rgb(227,227,227)" stroke-opacity="0.91"/>
<line x1="839.8" y1="234.4" x2="836.6" y2="235.0" stroke="rgb(216,216,216)" stroke-opacity="0.82"/>
<line x1="630.5" y1="355.2" x2="630.7" y2="356.3" stroke="rgb(222,222,222)" stroke-opacity="0.76"/>
<line x1="222.2" y1="36.7" x2="223.4" y2="36.9" stroke="rgb(213,213,213)" stroke-opacity="0.90"/>
<line x1="293.5" y1="294.8" x2="297.1" y2="296.1" stroke="rgb(235,235,235)" stroke-opacity="0.82"/>
<line x1="955.7" y1="161.5" x2="952.1" y2="162.4" stroke="rgb(234,234,234)" stroke-opacity="0.59"/>
<line x1="379.2" y1="270.7" x2="381.4" y2="271.6" stroke="rgb(228,228,228)" stroke-opacity="0.73"/>
<line x1="467.6" y1="239.7" x2="466.3" y2="240.0" stroke="rgb(224,224,224)" stroke-opacity="0.98"/>
<line x1="308.9" y1="349.0" x2="310.2" y2="352.7" stroke="rgb(236,236,236)" stroke-opacity="0.78"/>
<line x1="800.7" y1="316.6" x2="802.9" y2="319.0" stroke="rgb(218,218,218)" stroke-opacity="0.58"/>
<line x1="374.2" y1="329.2" x2="373.4" y2="331.3" stroke="rgb(217,217,217)" stroke-opacity="0.71"/>
<line x1="901.0" y1="484.6" x2="900.6" y2="486.4" stroke="rgb(225,225,225)" stroke-opacity="0.54"/>
<line x1="589.3" y1="358.3" x2="585.7" y2="359.3" stroke="rgb(226,226,226)" stroke-opacity="0.86"/>
<line x1="60.5" y1="499.0" x2="61.4" y2="500.2" stroke="rgb(234,234,234)" stroke-opacity="0.91"/>
<line x1="778.2" y1="196.6" x2="781.8" y2="197.7" stroke="rgb(212,212,212)" stroke-opacity="0.58"/>
<line x1="213.6" y1="44.0" x2="214.6" y2="44.8" stroke="rgb(228,228,228)" stroke-opacity="0.54"/>
<line x1="278.0" y1="523.2" x2="277.4" y2="525.6" stroke="rgb(222,222,222)" stroke-opacity="0.92"/>
<line x1="45.0" y1="400.8" x2="43.7" y2="401.0" stroke="rgb(225,225,225)" stroke-opacity="0.65"/>
<line x1="56.1" y1="60.4" x2="55.5" y2="62.8" stroke="rgb(218,218,218)" stroke-opacity="0.79"/>
<line x1="692.2" y1="150.0" x2="694.5" y2="151.5" stroke="rgb(225,225,225)" stroke-opacity="0.51"/>
<line x1="438.1" y1="175.7" x2="436.9" y2="178.3" stroke="rgb(228,228,228)" stroke-opacity="0.54"/>
<line x1="769.1" y1="267.7" x2="770.8" y2="268.3" stroke="rgb(228,228,228)" stroke-opacity="0.92"/>
<line x1="279.6" y1="166.4" x2="277.8" y2="166.9" stroke="rgb(228,228,228)" stroke-opacity="0.64"/>
<line x1="941.8" y1="482.0" x2="937.4" y2="482.8" stroke="rgb(220,220,220)" stroke-opacity="0.97"/>
<line x1="822.2" y1="432.9" x2="821.9" y2="434.3" stroke="rgb(216,216,216)" stroke-opacity="0.90"/>
<line x1="535.7" y1="42.9" x2="539.1" y2="45.1" stroke="rgb(220,220,220)" stroke-opacity="0.84"/>
<line x1="892.4" y1="215.6" x2="891.6" y2="217.0" stroke="rgb(221,221,221)" stroke-opacity="0.83"/>
<line x1="100.3" y1="256.8" x2="98.5" y2="259.6" stroke="rgb(213,213,213)" stroke-opacity="0.95"/>
<line x1="919.7" y1="211.7" x2="922.5" y2="213.7" stroke="rgb(233,233,233)" stroke-opacity="0.85"/>
<line x1="710.8" y1="351.1" x2="710.3" y2="353.5" stroke="rgb(228,228,228)" stroke-opacity="0.70"/>
<line x1="374.9" y1="76.1" x2="376.3" y2="78.5" stroke="rgb(229,229,229)" stroke-opacity="0.73"/>
<line x1="805.5" y1="130.0" x2="803.3" y2="132.8" stroke="rgb(217,217,217)" stroke-opacity="0.92"/>
<line x1="844.1" y1="144.5" x2="844.4" y2="148.3" stroke="rgb(221,221,221)" stroke-opacity="0.80"/>
<line x1="944.5" y1="480.7" x2="944.3" y2="482.4" stroke="rgb(217,217,217)" stroke-opacity="0.59"/>
<line x1="149.4" y1="306.7" x2="150.3" y2="308.2" stroke="rgb(215,215,215)" stroke-opacity="0.76"/>
<line x1="137.8" y1="297.5" x2="134.1" y2="299.9" stroke="rgb(221,221,221)" stroke-opacity="0.65"/>
<line x1="256.8" y1="213.2" x2="257.0" y2="214.2" stroke="rgb(224,224,224)" stroke-opacity="0.73"/>
<line x1="423.0" y1="340.9" x2="426.5" y2="342.0" stroke="rgb(219,219,219)" stroke-opacity="0.70"/>
<line x1="230.9" y1="320.5" x2="231.5" y2="323.1" stroke="rgb(233,233,233)" stroke-opacity="0.75"/>
<line x1="236.3" y1="154.8" x2="238.0" y2="158.9" stroke="rgb(213,213,213)" stroke-opacity="0.94"/>
<line x1="119.6" y1="458.0" x2="119.0" y2="458.8" stroke="rgb(234,234,234)" stroke-opacity="0.74"/>
<line x1="140.6" y1="215.2" x2="141.1" y2="219.3" stroke="rgb(223,223,223)" stroke-opacity="0.70"/>
<line x1="183.6" y1="382.5" x2="181.3" y2="384.4" stroke="rgb(232,232,232)" stroke-opacity="0.67"/>
<line x1="416.4" y1="104.6" x2="415.3" y2="106.3" stroke="rgb(213,213,213)" stroke-opacity="0.96"/>
<line x1="356.3" y1="55.1" x2="355.0" y2="56.9" stroke="rgb(232,232,232)" stroke-opacity="0.63"/>
<line x1="263.1" y1="232.2" x2="263.6" y2="235.0" stroke="rgb(226,226,226)" stroke-opacity="0.88"/>
<line x1="305.0" y1="59.3" x2="302.4" y2="61.1" stroke="rgb(219,219,219)" stroke-opacity="0.87"/>
<line x1="650.4" y1="381.4" x2="651.8" y2="382.4" stroke="rgb(233,233,233)" stroke-opacity="0.67"/>
<line x1="911.4" y1="538.2" x2="909.4" y2="539.8" stroke="rgb(232,232,232)" stroke-opacity="0.92"/>
<line x1="781.0" y1="31.2" x2="783.5" y2="31.8" stroke="rgb(212,212,212)" stroke-opacity="0.51"/>
<line x1="461.5" y1="222.5" x2="462.7" y2="226.7" stroke="rgb(216,216,216)" stroke-opacity="0.89"/>
<line x1="562.8" y1="128.4" x2="562.9" y2="130.5" stroke="rgb(224,224,224)" stroke-opacity="0.53"/>
<line x1="846.9" y1="5.0" x2="846.0" y2="5.7" stroke="rgb(225,225,225)" stroke-opacity="0.60"/>
<line x1="322.2" y1="6.5" x2="323.5" y2="6.7" stroke="rgb(225,225,225)" stroke-opacity="0.93"/>
<line x1="470.3" y1="266.2" x2="472.5" y2="266.9" stroke="rgb(224,224,224)" stroke-opacity="0.79"/>
<line x1="12.0" y1="207.1" x2="11.3" y2="208.9" stroke="rgb(214,214,214)" stroke-opacity="0.75"/>
<line x1="505.9" y1="56.0" x2="505.3" y2="57.2" stroke="rgb(227,227,227)" stroke-opacity="0.87"/>
<line x1="768.3" y1="323.0" x2="767.9" y2="324.4" stroke="rgb(236,236,236)" stroke-opacity="0.99"/>
<line x1="728.2" y1="24.7" x2="726.1" y2="28.3" stroke="rgb(220,220,220)" stroke-opacity="0.83"/>
<line x1="2.7" y1="256.3" x2="4.5" y2="260.0" stroke="rgb(226,226,226)" stroke-opacity="0.69"/>
<line x1="284.1" y1="411.1" x2="285.7" y2="413.8" stroke="rgb(229,229,229)" stroke-opacity="0.62"/>
<line x1="792.8" y1="215.7" x2="789.5" y2="218.2" stroke="rgb(233,233,233)" stroke-opacity="0.51"/>
<line x1="441.6" y1="298.2" x2="438.0" y2="298.6" stroke="rgb(231,231,231)" stroke-opacity="0.87"/>
<line x1="291.8" y1="487.3" x2="292.5" y2="488.3" stroke="rgb(233,233,233)" stroke-opacity="0.51"/>
<line x1="307.6" y1="473.2" x2="306.6" y2="474.0" stroke="rgb(212,212,212)" stroke-opacity="0.96"/>
<line x1="158.1" y1="141.8" x2="155.0" y2="143.5" stroke="rgb(235,235,235)" stroke-opacity="0.85"/>
<line x1="507.6" y1="327.0" x2="507.1" y2="329.1" stroke="rgb(236,236,236)" stroke-opacity="0.91"/>
<line x1="96.9" y1="237.2" x2="92.9" y2="237.9" stroke="rgb(216,216,216)" stroke-opacity="0.90"/>
<line x1="168.0" y1="301.6" x2="164.3" y2="302.4" stroke="rgb(212,212,212)" stroke-opacity="0.76"/>
<line x1="764.2" y1="28.3" x2="763.0" y2="29.0" stroke="rgb(212,212,212)" stroke-opacity="0.70"/>
<line x1="525.9" y1="501.1" x2="526.5" y2="502.2" stroke="rgb(216,216,216)" stroke-opacity="0.69"/>
<line x1="893.4" y1="292.6" x2="892.3" y2="293.0" stroke="rgb(226,226,226)" stroke-opacity="0.75"/>
<line x1="137.4" y1="443.0" x2="140.4" y2="445.5" stroke="rgb(216,216,216)" stroke-opacity="0.91"/>
<line x1="219.9" y1="0.5" x2="216.5" y2="2.6" stroke="rgb(215,215,215)" stroke-opacity="0.95"/>
<line x1="174.7" y1="236.5" x2="172.3" y2="238.1" stroke="rgb(222,222,222)" stroke-opacity="0.99"/>
<line x1="124.2" y1="100.0" x2="125.4" y2="103.3" stroke="rgb(216,216,216)" stroke-opacity="0.92"/>
<line x1="544.2" y1="148.8" x2="543.9" y2="150.7" stroke="rgb(216,216,216)" stroke-opacity="0.81"/>
<line x1="357.1" y1="82.1" x2="360.5" y2="82.3" stroke="rgb(215,215,215)" stroke-opacity="0.60"/>
<line x1="294.0" y1="3.4" x2="292.6" y2="5.0" stroke="rgb(236,236,236)" stroke-opacity="0.84"/>
<line x1="774.1" y1="291.8" x2="776.6" y2="292.5" stroke="rgb(224,224,224)" stroke-opacity="0.94"/>
<line x1="155.4" y1="39.6" x2="158.9" y2="40.7" stroke="rgb(233,233,233)" stroke-opacity="0.70"/>
<line x1="120.7" y1="245.0" x2="119.5" y2="245.2" stroke="rgb(232,232,232)" stroke-opacity="0.72"/>
<line x1="29.8" y1="184.0" x2="28.4" y2="185.1" stroke="rgb(234,234,234)" stroke-opacity="0.67"/>
<line x1="435.7" y1="195.6" x2="432.0" y2="197.1" stroke="rgb(214,214,214)" stroke-opacity="0.65"/>
<line x1="270.9" y1="399.2" x2="271.8" y2="400.7" stroke="rgb(221,221,221)" stroke-opacity="0.59"/>
<line x1="840.6" y1="429.5" x2="839.8" y2="431.4" stroke="rgb(214,214,214)" stroke-opacity="0.97"/>
<line x1="431.7" y1="306.1" x2="434.4" y2="309.0" stroke="rgb(220,220,220)" stroke-opacity="0.70"/>
<line x1="222.4" y1="378.5" x2="222.3" y2="381.7" stroke="rgb(218,218,218)" stroke-opacity="1.00"/>
<line x1="461.9" y1="206.5" x2="458.2" y2="207.8" stroke="rgb(224,224,224)" stroke-opacity="0.82"/>
<line x1="534.8" y1="390.6" x2="535.2" y2="391.9" stroke="rgb(216,216,216)" stroke-opacity="0.65"/>
<line x1="494.4" y1="155.4" x2="494.6" y2="157.9" stroke="rgb(236,236,236)" stroke-opacity="0.96"/>
<line x1="458.9" y1="520.8" x2="457.5" y2="521.1" stroke="rgb(232,232,232)" stroke-opacity="0.75"/>
<line x1="15.2" y1="383.0" x2="17.7" y2="385.9" stroke="rgb(229,229,229)" stroke-opacity="0.91"/>
<line x1="359.3" y1="447.5" x2="358.0" y2="448.7" stroke="rgb(226,226,226)" stroke-opacity="1.00"/>
<line x1="699.3" y1="376.9" x2="702.6" y2="377.9" stroke="rgb(232,232,232)" stroke-opacity="0.99"/>
<line x1="212.4" y1="202.6" x2="211.8" y2="205.0" stroke="rgb(233,233,233)" stroke-opacity="0.97"/>
<line x1="607.9" y1="197.4" x2="609.2" y2="197.7" stroke="rgb(228,228,228)" stroke-opacity="0.56"/>
<line x1="719.3" y1="410.4" x2="717.2" y2="414.2" stroke="rgb(230,230,230)" stroke-opacity="0.71"/>
<line x1="164.9" y1="507.1" x2="164.5" y2="510.2" stroke="rgb(225,225,225)" stroke-opacity="0.66"/>
<line x1="370.1" y1="539.7" x2="373.6" y2="540.1" stroke="rgb(227,227,227)" stroke-opacity="0.78"/>
<line x1="198.7" y1="29.0" x2="199.4" y2="30.4" stroke="rgb(214,214,214)" stroke-opacity="0.94"/>
<line x1="226.9" y1="421.4" x2="226.6" y2="423.9" stroke="rgb(229,229,229)" stroke-opacity="0.54"/>
<line x1="702.7" y1="93.3" x2="704.3" y2="93.8" stroke="rgb(216,216,216)" stroke-opacity="0.96"/>
<line x1="787.2" y1="163.0" x2="787.0" y2="164.3" stroke="rgb(232,232,232)" stroke-opacity="0.71"/>
<line x1="119.4" y1="42.6" x2="117.4" y2="43.5" stroke="rgb(224,224,224)" stroke-opacity="0.81"/>
<line x1="268.0" y1="240.7" x2="269.5" y2="241.7" stroke="rgb(217,217,217)" stroke-opacity="0.58"/>
<line x1="732.1" y1="510.7" x2="729.1" y2="513.6" stroke="rgb(216,216,216)" stroke-opacity="0.80"/>
<line x1="627.9" y1="212.1" x2="630.3" y2="213.7" stroke="rgb(223,223,223)" stroke-opacity="0.84"/>
<line x1="511.2" y1="344.9" x2="511.8" y2="346.1" stroke="rgb(219,219,219)" stroke-opacity="0.81"/>
<line x1="306.2" y1="5.1" x2="306.9" y2="8.5" stroke="rgb(232,232,232)" stroke-opacity="0.86"/>
<line x1="289.5" y1="125.4" x2="291.5" y2="128.2" stroke="rgb(235,235,235)" stroke-opacity="0.82"/>
<line x1="538.6" y1="257.9" x2="537.3" y2="259.8" stroke="rgb(224,224,224)" stroke-opacity="0.54"/>
<line x1="830.8" y1="310.7" x2="829.8" y2="314.2" stroke="rgb(234,234,234)" stroke-opacity="0.69"/>
<line x1="739.1" y1="170.1" x2="737.7" y2="171.2" stroke="rgb(229,229,229)" stroke-opacity="0.80"/>
<line x1="201.0" y1="530.6" x2="198.5" y2="531.5" stroke="rgb(222,222,222)" stroke-opacity="0.74"/>
<line x1="0.5" y1="139.9" x2="-1.9" y2="142.1" stroke="rgb(232,232,232)" stroke-opacity="0.88"/>
<line x1="769.6" y1="337.0" x2="772.1" y2="340.1" stroke="rgb(227,227,227)" stroke-opacity="0.80"/>
<line x1="699.6" y1="106.8" x2="700.6" y2="108.6" stroke="rgb(215,215,215)" stroke-opacity="0.65"/>
<line x1="878.8" y1="104.3" x2="879.2" y2="105.8" stroke="rgb(221,221,221)" stroke-opacity="0.56"/>
<line x1="721.2" y1="79.8" x2="722.1" y2="80.7" stroke="rgb(228,228,228)" stroke-opacity="0.71"/>
<line x1="616.7" y1="245.7" x2="613.7" y2="248.5" stroke="rgb(233,233,233)" stroke-opacity="0.85"/>
<line x1="538.7" y1="137.7" x2="534.4" y2="138.2" stroke="rgb(212,212,212)" stroke-opacity="0.61"/>
<line x1="220.3" y1="420.9" x2="222.8" y2="423.7" stroke="rgb(222,222,222)" stroke-opacity="0.51"/>
<line x1="802.3" y1="166.8" x2="801.4" y2="167.2" stroke="rgb(220,220,220)" stroke-opacity="0.57"/>
<line x1="350.7" y1="344.5" x2="350.6" y2="346.7" stroke="rgb(225,225,225)" stroke-opacity="0.63"/>
<line x1="555.2" y1="240.9" x2="555.0" y2="243.0" stroke="rgb(236,236,236)" stroke-opacity="0.91"/>
<line x1="40.8" y1="227.2" x2="43.0" y2="229.5" stroke="rgb(217,217,217)" stroke-opacity="0.74"/>
<line x1="316.4" y1="72.4" x2="315.0" y2="76.3" stroke="rgb(215,215,215)" stroke-opacity="0.62"/>
<line x1="237.8" y1="133.3" x2="237.7" y2="135.0" stroke="rgb(216,216,216)" stroke-opacity="0.77"/>
<line x1="800.8" y1="189.3" x2="799.5" y2="191.7" stroke="rgb(218,218,218)" stroke-opacity="0.83"/>
<line x1="221.4" y1="279.6" x2="224.0" y2="279.9" stroke="rgb(222,222,222)" stroke-opacity="0.52"/>
<line x1="263.2" y1="63.6" x2="263.0" y2="65.1" stroke="rgb(217,217,217)" stroke-opacity="0.98"/>
<line x1="606.1" y1="279.1" x2="606.7" y2="280.5" stroke="rgb(221,221,221)" stroke-opacity="0.61"/>
<line x1="734.3" y1="253.9" x2="736.4" y2="257.6" stroke="rgb(224,224,224)" stroke-opacity="0.60"/>
<line x1="742.4" y1="10.8" x2="742.5" y2="13.5" stroke="rgb(218,218,218)" stroke-opacity="0.77"/>
<line x1="903.6" y1="63.4" x2="900.6" y2="66.0" stroke="rgb(235,235,235)" stroke-opacity="0.61"/>
<line x1="734.0" y1="182.0" x2="735.3" y2="182.8" stroke="rgb(229,229,229)" stroke-opacity="0.86"/>
<line x1="304.7" y1="369.7" x2="303.0" y2="371.4" stroke="rgb(213,213,213)" stroke-opacity="0.65"/>
<line x1="600.3" y1="435.0" x2="602.1" y2="437.0" stroke="rgb(222,222,222)" stroke-opacity="0.65"/>
<line x1="523.3" y1="13.6" x2="525.9" y2="14.3" stroke="rgb(223,223,223)" stroke-opacity="0.84"/>
<line x1="408.1" y1="526.1" x2="403.8" y2="526.7" stroke="rgb(214,214,214)" stroke-opacity="0.76"/>
<line x1="812.1" y1="23.7" x2="811.9" y2="25.1" stroke="rgb(227,227,227)" stroke-opacity="0.72"/>
<line x1="571.2" y1="439.9" x2="573.2" y2="440.1" stroke="rgb(230,230,230)" stroke-opacity="0.64"/>
<line x1="39.5" y1="73.8" x2="36.4" y2="77.1" stroke="rgb(218,218,218)" stroke-opacity="0.62"/>
<line x1="26.8" y1="343.4" x2="29.0" y2="345.9" stroke="rgb(227,227,227)" stroke-opacity="0.71"/>
<line x1="908.6" y1="1.8" x2="911.1" y2="2.2" stroke="rgb(215,215,215)" stroke-opacity="0.75"/>
<line x1="561.1" y1="458.0" x2="562.3" y2="461.9" stroke="rgb(216,216,216)" stroke-opacity="0.75"/>
<line x1="471.6" y1="78.4" x2="469.3" y2="80.0" stroke="rgb(216,216,216)" stroke-opacity="0.75"/>
<line x1="893.9" y1="150.1" x2="895.1" y2="150.6" stroke="rgb(232,232,232)" stroke-opacity="0.68"/>
<line x1="94.0" y1="459.5" x2="96.4" y2="461.0" stroke="rgb(228,228,228)" stroke-opacity="0.61"/>
<line x1="15.9" y1="177.4" x2="17.9" y2="178.2" stroke="rgb(225,225,225)" stroke-opacity="0.59"/>
<line x1="88.9" y1="257.9" x2="87.0" y2="261.4" stroke="rgb(235,235,235)" stroke-opacity="0.61"/>
<line x1="391.6" y1="405.3" x2="394.5" y2="406.7" stroke="rgb(233,233,233)" stroke-opacity="0.80"/>
<line x1="744.5" y1="90.6" x2="742.7" y2="91.7" stroke="rgb(222,222,222)" stroke-opacity="0.99"/>
<line x1="113.6" y1="113.5" x2="112.7" y2="114.5" stroke="rgb(235,235,235)" stroke-opacity="0.67"/>
<line x1="499.3" y1="509.7" x2="502.0" y2="511.0" stroke="rgb(233,233,233)" stroke-opacity="0.82"/>
<line x1="629.8" y1="317.9" x2="627.8" y2="319.8" stroke="rgb(230,230,230)" stroke-opacity="0.53"/>
<line x1="316.5" y1="339.3" x2="317.4" y2="340.1" stroke="rgb(228,228,228)" stroke-opacity="0.68"/>
<line x1="375.5" y1="230.5" x2="373.2" y2="230.7" stroke="rgb(214,214,214)" stroke-opacity="0.72"/>
<line x1="310.4" y1="61.6" x2="312.8" y2="63.0" stroke="rgb(215,215,215)" stroke-opacity="0.68"/>
<line x1="229.6" y1="8.3" x2="225.6" y2="9.1" stroke="rgb(221,221,221)" stroke-opacity="0.94"/>
<line x1="646.6" y1="491.3" x2="649.7" y2="494.1" stroke="rgb(233,233,233)" stroke-opacity="0.62"/>
<line x1="244.6" y1="377.0" x2="245.0" y2="380.8" stroke="rgb(224,224,224)" stroke-opacity="0.56"/>
<line x1="178.8" y1="436.3" x2="180.3" y2="439.7" stroke="rgb(223,223,223)" stroke-opacity="0.80"/>
<line x1="945.8" y1="386.2" x2="948.1" y2="387.3" stroke="rgb(213,213,213)" stroke-opacity="0.71"/>
<line x1="207.1" y1="391.3" x2="206.5" y2="393.7" stroke="rgb(236,236,236)" stroke-opacity="0.81"/>
<line x1="95.7" y1="317.8" x2="97.4" y2="319.6" stroke="rgb(234,234,234)" stroke-opacity="0.87"/>
<line x1="116.9" y1="123.6" x2="116.4" y2="125.8" stroke="rgb(222,222,222)" stroke-opacity="0.55"/>
<line x1="587.5" y1="456.3" x2="587.3" y2="459.9" stroke="rgb(235,235,235)" stroke-opacity="0.98"/>
<line x1="314.4" y1="327.3" x2="314.7" y2="328.6" stroke="rgb(231,231,231)" stroke-opacity="0.59"/>
<line x1="480.2" y1="455.2" x2="481.6" y2="457.4" stroke="rgb(218,218,218)" stroke-opacity="0.59"/>
<line x1="293.9" y1="333.9" x2="293.7" y2="338.1" stroke="rgb(220,220,220)" stroke-opacity="0.96"/>
<line x1="656.5" y1="241.2" x2="658.6" y2="244.0" stroke="rgb(234,234,234)" stroke-opacity="0.72"/>
<line x1="871.8" y1="89.3" x2="873.4" y2="90.0" stroke="rgb(218,218,218)" stroke-opacity="0.86"/>
<line x1="166.5" y1="442.1" x2="164.6" y2="443.0" stroke="rgb(224,224,224)" stroke-opacity="0.58"/>
<line x1="350.5" y1="26.1" x2="348.8" y2="29.6" stroke="rgb(217,217,217)" stroke-opacity="0.99"/>
<line x1="504.3" y1="368.3" x2="505.9" y2="370.0" stroke="rgb(216,216,216)" stroke-opacity="0.56"/>
<line x1="877.0" y1="539.2" x2="876.8" y2="543.1" stroke="rgb(231,231,231)" stroke-opacity="0.60"/>
<line x1="170.0" y1="181.6" x2="169.5" y2="184.9" stroke="rgb(212,212,212)" stroke-opacity="0.84"/>
<line x1="717.7" y1="100.7" x2="721.8" y2="101.9" stroke="rgb(215,215,215)" stroke-opacity="0.91"/>
<line x1="528.0" y1="176.5" x2="529.2" y2="178.0" stroke="rgb(220,220,220)" stroke-opacity="0.89"/>
<line x1="650.1" y1="376.3" x2="649.2" y2="377.2" stroke="rgb(230,230,230)" stroke-opacity="0.83"/>
<line x1="109.0" y1="24.0" x2="110.1" y2="25.2" stroke="rgb(228,228,228)" stroke-opacity="0.54"/>
<line x1="604.0" y1="467.3" x2="604.0" y2="469.0" stroke="rgb(229,229,229)" stroke-opacity="0.88"/>
<line x1="327.6" y1="24.8" x2="330.7" y2="28.0" stroke="rgb(236,236,236)" stroke-opacity="0.56"/>
<line x1="626.9" y1="192.5" x2="629.4" y2="195.8" stroke="rgb(215,215,215)" stroke-opacity="0.87"/>
<line x1="913.9" y1="460.2" x2="912.0" y2="462.6" stroke="rgb(222,222,222)" stroke-opacity="0.64"/>
<line x1="261.6" y1="46.8" x2="266.0" y2="47.4" stroke="rgb(231,231,231)" stroke-opacity="0.69"/>
<line x1="551.4" y1="353.3" x2="552.9" y2="354.9" stroke="rgb(232,232,232)" stroke-opacity="0.58"/>
<line x1="604.3" y1="354.8" x2="606.6" y2="356.3" stroke="rgb(215,215,215)" stroke-opacity="0.78"/>
<line x1="29.5" y1="198.6" x2="32.0" y2="199.8" stroke="rgb(235,235,235)" stroke-opacity="0.71"/>
<line x1="557.0" y1="89.3" x2="559.2" y2="89.9" stroke="rgb(232,232,232)" stroke-opacity="0.66"/>
<line x1="137.4" y1="325.2" x2="140.8" y2="326.7" stroke="rgb(221,221,221)" stroke-opacity="0.91"/>
<line x1="832.5" y1="521.4" x2="834.9" y2="522.7" stroke="rgb(225,225,225)" stroke-opacity="0.82"/>
<line x1="520.8" y1="159.4" x2="521.1" y2="161.0" stroke="rgb(226,226,226)" stroke-opacity="0.70"/>
<line x1="121.8" y1="208.0" x2="121.3" y2="210.9" stroke="rgb(224,224,224)" stroke-opacity="0.68"/>
<line x1="757.1" y1="285.8" x2="757.5" y2="288.9" stroke="rgb(235,235,235)" stroke-opacity="0.96"/>
<line x1="734.7" y1="289.3" x2="733.8" y2="293.0" stroke="rgb(215,215,215)" stroke-opacity="0.78"/>
<line x1="585.1" y1="82.1" x2="583.2" y2="82.9" stroke="rgb(212,212,212)" stroke-opacity="0.77"/>
<line x1="96.9" y1="381.1" x2="93.8" y2="383.4" stroke="rgb(220,220,220)" stroke-opacity="0.66"/>
<line x1="139.6" y1="411.3" x2="141.0" y2="414.4" stroke="rgb(222,222,222)" stroke-opacity="0.83"/>
<line x1="887.0" y1="246.7" x2="890.3" y2="247.1" stroke="rgb(221,221,221)" stroke-opacity="0.66"/>
<line x1="492.7" y1="402.6" x2="494.5" y2="406.3" stroke="rgb(234,234,234)" stroke-opacity="0.77"/>
<line x1="656.4" y1="192.3" x2="655.6" y2="195.1" stroke="rgb(226,226,226)" stroke-opacity="0.64"/>
<line x1="849.6" y1="432.5" x2="851.6" y2="433.0" stroke="rgb(218,218,218)" stroke-opacity="0.83"/>
<line x1="413.4" y1="21.7" x2="416.0" y2="25.0" stroke="rgb(229,229,229)" stroke-opacity="0.59"/>
<line x1="877.0" y1="290.8" x2="878.0" y2="291.8" stroke="rgb(233,233,233)" stroke-opacity="0.57"/>
<line x1="645.6" y1="346.0" x2="643.4" y2="349.2" stroke="rgb(219,219,219)" stroke-opacity="0.53"/>
<line x1="10.2" y1="127.9" x2="13.5" y2="129.6" stroke="rgb(229,229,229)" stroke-opacity="0.94"/>
<line x1="143.2" y1="460.1" x2="140.3" y2="462.8" stroke="rgb(230,230,230)" stroke-opacity="0.70"/>
<line x1="459.8" y1="150.0" x2="456.4" y2="152.8" stroke="rgb(233,233,233)" stroke-opacity="0.66"/>
<line x1="536.6" y1="423.1" x2="540.8" y2="423.6" stroke="rgb(225,225,225)" stroke-opacity="0.94"/>
<line x1="657.3" y1="243.3" x2="654.8" y2="245.1" stroke="rgb(228,228,228)" stroke-opacity="0.67"/>
<line x1="625.1" y1="384.4" x2="622.4" y2="387.9" stroke="rgb(229,229,229)" stroke-opacity="0.92"/>
<line x1="142.9" y1="182.3" x2="139.9" y2="184.2" stroke="rgb(223,223,223)" stroke-opacity="0.78"/>
<line x1="26.4" y1="266.4" x2="26.8" y2="270.6" stroke="rgb(214,214,214)" stroke-opacity="0.78"/>
<line x1="309.0" y1="141.0" x2="311.5" y2="141.6" stroke="rgb(229,229,229)" stroke-opacity="0.92"/>
<line x1="536.3" y1="240.0" x2="535.6" y2="242.0" stroke="rgb(223,223,223)" stroke-opacity="0.74"/>
<line x1="814.5" y1="532.4" x2="814.9" y2="534.1" stroke="rgb(225,225,225)" stroke-opacity="0.56"/>
<line x1="331.8" y1="68.1" x2="329.3" y2="68.2" stroke="rgb(218,218,218)" stroke-opacity="0.98"/>
<line x1="212.8" y1="119.8" x2="213.5" y2="120.6" stroke="rgb(213,213,213)" stroke-opacity="0.51"/>
<line x1="401.8" y1="496.5" x2="403.1" y2="500.1" stroke="rgb(235,235,235)" stroke-opacity="0.65"/>
<line x1="705.4" y1="372.2" x2="705.7" y2="375.6" stroke="rgb(226,226,226)" stroke-opacity="0.93"/>
<line x1="385.2" y1="52.7" x2="387.5" y2="56.3" stroke="rgb(232,232,232)" stroke-opacity="0.93"/>
<line x1="843.8" y1="460.9" x2="844.0" y2="464.8" stroke="rgb(217,217,217)" stroke-opacity="0.62"/>
<line x1="354.4" y1="330.0" x2="356.0" y2="332.7" stroke="rgb(230,230,230)" stroke-opacity="0.68"/>
<line x1="335.3" y1="322.7" x2="334.1" y2="323.4" stroke="rgb(222,222,222)" stroke-opacity="0.67"/>
<line x1="688.9" y1="440.6" x2="687.7" y2="441.5" stroke="rgb(212,212,212)" stroke-opacity="0.79"/>
<line x1="792.6" y1="34.0" x2="790.6" y2="36.2" stroke="rgb(219,219,219)" stroke-opacity="0.97"/>
<line x1="99.7" y1="201.5" x2="99.2" y2="206.0" stroke="rgb(222,222,222)" stroke-opacity="0.63"/>
<line x1="24.5" y1="510.9" x2="24.2" y2="512.8" stroke="rgb(223,223,223)" stroke-opacity="0.54"/>
<line x1="533.6" y1="383.4" x2="533.0" y2="385.6" stroke="rgb(236,236,236)" stroke-opacity="0.51"/>
<line x1="399.7" y1="509.8" x2="400.5" y2="511.6" stroke="rgb(230,230,230)" stroke-opacity="0.53"/>
<line x1="529.7" y1="285.7" x2="529.0" y2="288.2" stroke="rgb(222,222,222)" stroke-opacity="0.54"/>
<line x1="668.7" y1="188.1" x2="670.1" y2="188.5" stroke="rgb(226,226,226)" stroke-opacity="0.72"/>
<line x1="226.7" y1="96.5" x2="223.8" y2="98.4" stroke="rgb(228,228,228)" stroke-opacity="0.67"/>
<line x1="786.9" y1="256.1" x2="789.5" y2="258.8" stroke="rgb(231,231,231)" stroke-opacity="0.78"/>
<line x1="814.8" y1="107.5" x2="818.8" y2="107.8" stroke="rgb(229,229,229)" stroke-opacity="0.93"/>
<line x1="55.1" y1="430.9" x2="57.0" y2="434.4" stroke="rgb(225,225,225)" stroke-opacity="0.71"/>
<line x1="567.7" y1="231.7" x2="568.7" y2="232.0" stroke="rgb(234,234,234)" stroke-opacity="0.77"/>
<line x1="122.9" y1="239.2" x2="121.2" y2="241.8" stroke="rgb(234,234,234)" stroke-opacity="0.59"/>
<line x1="5.0" y1="407.3" x2="6.3" y2="410.1" stroke="rgb(212,212,212)" stroke-opacity="0.53"/>
<line x1="252.9" y1="130.5" x2="253.1" y2="131.8" stroke="rgb(214,214,214)" stroke-opacity="0.82"/>
<line x1="220.4" y1="124.3" x2="220.0" y2="125.6" stroke="rgb(215,215,215)" stroke-opacity="0.66"/>
<line x1="303.2" y1="256.6" x2="303.7" y2="258.1" stroke="rgb(234,234,234)" stroke-opacity="0.58"/>
<line x1="365.2" y1="241.9" x2="363.7" y2="244.3" stroke="rgb(215,215,215)" stroke-opacity="0.73"/>
<line x1="881.4" y1="56.8" x2="879.6" y2="59.9" stroke="rgb(223,223,223)" stroke-opacity="0.93"/>
<line x1="80.6" y1="365.1" x2="78.2" y2="365.3" stroke="rgb(224,224,224)" stroke-opacity="0.84"/>
<line x1="585.0" y1="228.6" x2="585.2" y2="230.2" stroke="rgb(229,229,229)" stroke-opacity="0.55"/>
<line x1="576.0" y1="484.6" x2="576.6" y2="486.0" stroke="rgb(231,231,231)" stroke-opacity="0.82"/>
<line x1="708.9" y1="133.8" x2="705.5" y2="133.8" stroke="rgb(224,224,224)" stroke-opacity="0.75"/>
<line x1="474.8" y1="291.0" x2="478.2" y2="292.6" stroke="rgb(219,219,219)" stroke-opacity="0.67"/>
<line x1="944.7" y1="35.2" x2="944.9" y2="37.3" stroke="rgb(235,235,235)" stroke-opacity="0.73"/>
<line x1="928.9" y1="474.9" x2="929.7" y2="477.4" stroke="rgb(230,230,230)" stroke-opacity="0.52"/>
<line x1="414.4" y1="14.6" x2="413.2" y2="17.2" stroke="rgb(218,218,218)" stroke-opacity="0.88"/>
<line x1="330.3" y1="175.7" x2="329.6" y2="177.2" stroke="rgb(218,218,218)" stroke-opacity="0.77"/>
<line x1="252.5" y1="421.1" x2="253.2" y2="421.8" stroke="rgb(222,222,222)" stroke-opacity="0.87"/>
<line x1="811.6" y1="31.3" x2="815.0" y2="31.4" stroke="rgb(234,234,234)" stroke-opacity="0.90"/>
<line x1="104.7" y1="420.8" x2="104.5" y2="423.2" stroke="rgb(225,225,225)" stroke-opacity="0.87"/>
<line x1="342.0" y1="452.8" x2="341.6" y2="453.7" stroke="rgb(231,231,231)" stroke-opacity="0.85"/>
<line x1="135.9" y1="19.0" x2="133.9" y2="22.4" stroke="rgb(232,232,232)" stroke-opacity="0.73"/>
<line x1="548.3" y1="413.7" x2="548.7" y2="417.7" stroke="rgb(221,221,221)" stroke-opacity="0.67"/>
<line x1="334.9" y1="36.5" x2="330.7" y2="37.8" stroke="rgb(212,212,212)" stroke-opacity="0.76"/>
<line x1="822.6" y1="426.1" x2="820.2" y2="427.4" stroke="rgb(214,214,214)" stroke-opacity="0.90"/>
<line x1="116.0" y1="7.2" x2="114.8" y2="7.9" stroke="rgb(232,232,232)" stroke-opacity="0.76"/>
<line x1="225.2" y1="462.8" x2="226.0" y2="464.0" stroke="rgb(212,212,212)" stroke-opacity="0.84"/>
<line x1="498.3" y1="374.8" x2="497.4" y2="379.1" stroke="rgb(217,217,217)" stroke-opacity="0.99"/>
<line x1="743.5" y1="500.6" x2="747.8" y2="501.7" stroke="rgb(236,236,236)" stroke-opacity="0.62"/>
<line x1="167.3" y1="538.8" x2="165.1" y2="539.8" stroke="rgb(223,223,223)" stroke-opacity="0.72"/>
<line x1="123.0" y1="538.6" x2="121.3" y2="540.8" stroke="rgb(228,228,228)" stroke-opacity="0.50"/>
<line x1="194.4" y1="529.6" x2="194.7" y2="531.3" stroke="rgb(219,219,219)" stroke-opacity="0.65"/>
<line x1="814.3" y1="398.1" x2="815.2" y2="401.0" stroke="rgb(230,230,230)" stroke-opacity="0.69"/>
<line x1="87.6" y1="57.1" x2="87.7" y2="60.0" stroke="rgb(234,234,234)" stroke-opacity="0.54"/>
<line x1="666.1" y1="17.3" x2="667.1" y2="17.7" stroke="rgb(231,231,231)" stroke-opacity="0.76"/>
<line x1="596.0" y1="227.2" x2="596.8" y2="228.9" stroke="rgb(232,232,232)" stroke-opacity="0.93"/>
<line x1="607.0" y1="503.6" x2="608.1" y2="504.8" stroke="rgb(228,228,228)" stroke-opacity="0.73"/>
<line x1="821.9" y1="117.7" x2="822.9" y2="119.2" stroke="rgb(230,230,230)" stroke-opacity="0.83"/>
<line x1="556.7" y1="426.8" x2="555.4" y2="429.4" stroke="rgb(235,235,235)" stroke-opacity="0.99"/>
<line x1="760.7" y1="68.4" x2="761.8" y2="69.3" stroke="rgb(233,233,233)" stroke-opacity="0.82"/>
<line x1="811.5" y1="86.9" x2="811.3" y2="88.5" stroke="rgb(223,223,223)" stroke-opacity="0.69"/>
<line x1="197.0" y1="1.3" x2="198.4" y2="2.7" stroke="rgb(222,222,222)" stroke-opacity="0.57"/>
<line x1="252.7" y1="176.5" x2="252.7" y2="178.0" stroke="rgb(221,221,221)" stroke-opacity="0.87"/>
<line x1="473.2" y1="1.5" x2="471.5" y2="2.1" stroke="rgb(226,226,226)" stroke-opacity="0.83"/>
<line x1="799.3" y1="261.4" x2="797.9" y2="261.7" stroke="rgb(226,226,226)" stroke-opacity="0.78"/>
<line x1="112.6" y1="172.5" x2="111.0" y2="175.2" stroke="rgb(232,232,232)" stroke-opacity="0.80"/>
<line x1="776.5" y1="286.5" x2="779.2" y2="288.4" stroke="rgb(230,230,230)" stroke-opacity="0.93"/>
<line x1="868.9" y1="41.0" x2="872.0" y2="42.9" stroke="rgb(223,223,223)" stroke-opacity="0.56"/>
<line x1="541.0" y1="523.5" x2="536.8" y2="523.8" stroke="rgb(220,220,220)" stroke-opacity="0.97"/>
<line x1="249.7" y1="310.1" x2="252.2" y2="312.3" stroke="rgb(224,224,224)" stroke-opacity="0.71"/>
<line x1="407.7" y1="286.3" x2="406.3" y2="287.0" stroke="rgb(216,216,216)" stroke-opacity="0.82"/>
<line x1="611.7" y1="283.3" x2="608.8" y2="286.1" stroke="rgb(218,218,218)" stroke-opacity="0.75"/>
<line x1="914.6" y1="111.7" x2="915.2" y2="113.2" stroke="rgb(227,227,227)" stroke-opacity="0.68"/>
<line x1="851.0" y1="354.3" x2="852.0" y2="355.1" stroke="rgb(230,230,230)" stroke-opacity="0.96"/>
<line x1="17.1" y1="364.0" x2="14.1" y2="364.4" stroke="rgb(236,236,236)" stroke-opacity="0.54"/>
<line x1="741.9" y1="129.8" x2="741.6" y2="132.8" stroke="rgb(222,222,222)" stroke-opacity="0.69"/>
<line x1="701.2" y1="305.2" x2="698.3" y2="305.3" stroke="rgb(234,234,234)" stroke-opacity="0.99"/>
<line x1="738.8" y1="290.9" x2="737.3" y2="294.1" stroke="rgb(213,213,213)" stroke-opacity="0.99"/>
<line x1="729.6" y1="116.9" x2="730.2" y2="119.8" stroke="rgb(219,219,219)" stroke-opacity="0.72"/>
<line x1="450.6" y1="397.3" x2="449.6" y2="398.1" stroke="rgb(225,225,225)" stroke-opacity="0.85"/>
<line x1="695.8" y1="534.4" x2="692.2" y2="537.1" stroke="rgb(220,220,220)" stroke-opacity="0.86"/>
<line x1="829.2" y1="375.9" x2="829.2" y2="377.0" stroke="rgb(228,228,228)" stroke-opacity="0.51"/>
<line x1="451.3" y1="287.5" x2="453.3" y2="288.2" stroke="rgb(227,227,227)" stroke-opacity="0.54"/>
<line x1="846.5" y1="237.2" x2="846.8" y2="241.6" stroke="rgb(220,220,220)" stroke-opacity="0.77"/>
<line x1="372.9" y1="72.1" x2="372.8" y2="73.2" stroke="rgb(223,223,223)" stroke-opacity="0.64"/>
<line x1="337.7" y1="172.5" x2="337.8" y2="176.1" stroke="rgb(212,212,212)" stroke-opacity="0.57"/>
<line x1="927.5" y1="489.0" x2="928.4" y2="490.5" stroke="rgb(216,216,216)" stroke-opacity="0.98"/>
<line x1="421.7" y1="310.8" x2="419.8" y2="314.8" stroke="rgb(231,231,231)" stroke-opacity="0.92"/>
<line x1="226.4" y1="372.6" x2="229.6" y2="374.2" stroke="rgb(230,230,230)" stroke-opacity="0.78"/>
<line x1="864.1" y1="166.5" x2="864.1" y2="169.0" stroke="rgb(224,224,224)" stroke-opacity="0.96"/>
<line x1="354.1" y1="148.8" x2="357.2" y2="151.5" stroke="rgb(220,220,220)" stroke-opacity="0.59"/>
<line x1="713.0" y1="295.7" x2="713.4" y2="300.0" stroke="rgb(214,214,214)" stroke-opacity="1.00"/>
<line x1="485.3" y1="372.6" x2="487.2" y2="373.0" stroke="rgb(236,236,236)" stroke-opacity="0.94"/>
<line x1="342.7" y1="439.7" x2="340.2" y2="440.6" stroke="rgb(227,227,227)" stroke-opacity="0.68"/>
<line x1="817.9" y1="492.6" x2="816.6" y2="493.3" stroke="rgb(234,234,234)" stroke-opacity="0.94"/>
<line x1="550.9" y1="466.1" x2="551.0" y2="467.6" stroke="rgb(226,226,226)" stroke-opacity="0.50"/>
<line x1="381.7" y1="390.2" x2="384.3" y2="392.6" stroke="rgb(231,231,231)" stroke-opacity="0.64"/>
<line x1="102.0" y1="157.4" x2="104.8" y2="160.2" stroke="rgb(232,232,232)" stroke-opacity="0.58"/>
<line x1="230.5" y1="74.0" x2="229.8" y2="76.7" stroke="rgb(226,226,226)" stroke-opacity="0.57"/>
<line x1="9.1" y1="113.1" x2="10.9" y2="116.4" stroke="rgb(221,221,221)" stroke-opacity="0.92"/>
<line x1="901.4" y1="498.1" x2="905.8" y2="499.1" stroke="rgb(224,224,224)" stroke-opacity="0.63"/>
<line x1="149.9" y1="421.0" x2="153.7" y2="422.4" stroke="rgb(219,219,219)" stroke-opacity="0.75"/>
<line x1="928.8" y1="479.9" x2="931.2" y2="480.8" stroke="rgb(226,226,226)" stroke-opacity="0.66"/>
<line x1="363.7" y1="98.0" x2="362.1" y2="98.2" stroke="rgb(224,224,224)" stroke-opacity="0.51"/>
<line x1="586.6" y1="51.3" x2="587.4" y2="54.8" stroke="rgb(217,217,217)" stroke-opacity="0.61"/>
<line x1="842.4" y1="122.9" x2="843.5" y2="123.2" stroke="rgb(214,214,214)" stroke-opacity="0.89"/>
<line x1="926.3" y1="281.3" x2="925.5" y2="282.4" stroke="rgb(228,228,228)" stroke-opacity="0.56"/>
<line x1="488.2" y1="255.8" x2="485.1" y2="257.6" stroke="rgb(214,214,214)" stroke-opacity="0.92"/>
<line x1="663.7" y1="65.0" x2="665.1" y2="65.2" stroke="rgb(220,220,220)" stroke-opacity="0.80"/>
<line x1="533.8" y1="25.3" x2="534.8" y2="27.3" stroke="rgb(232,232,232)" stroke-opacity="0.90"/>
<line x1="731.7" y1="255.3" x2="730.3" y2="259.5" stroke="rgb(215,215,215)" stroke-opacity="0.61"/>
<line x1="664.7" y1="2.6" x2="663.6" y2="3.5" stroke="rgb(234,234,234)" stroke-opacity="0.51"/>
<line x1="9.4" y1="525.3" x2="10.7" y2="526.7" stroke="rgb(215,215,215)" stroke-opacity="0.55"/>
<line x1="322.9" y1="129.1" x2="319.0" y2="131.4" stroke="rgb(217,217,217)" stroke-opacity="0.80"/>
<line x1="589.2" y1="416.3" x2="591.8" y2="417.3" stroke="rgb(219,219,219)" stroke-opacity="0.59"/>
<line x1="47.6" y1="399.9" x2="46.3" y2="401.4" stroke="rgb(224,224,224)" stroke-opacity="0.77"/>
<line x1="342.6" y1="520.5" x2="344.8" y2="522.5" stroke="rgb(230,230,230)" stroke-opacity="0.73"/>
<line x1="55.5" y1="366.3" x2="56.5" y2="368.7" stroke="rgb(231,231,231)" stroke-opacity="0.82"/>
<line x1="173.9" y1="314.3" x2="174.1" y2="316.4" stroke="rgb(234,234,234)" stroke-opacity="0.58"/>
<line x1="834.4" y1="141.0" x2="834.4" y2="143.8" stroke="rgb(226,226,226)" stroke-opacity="0.96"/>
<line x1="89.0" y1="61.8" x2="90.4" y2="61.9" stroke="rgb(219,219,219)" stroke-opacity="0.69"/>
<line x1="780.8" y1="129.4" x2="782.7" y2="130.3" stroke="rgb(221,221,221)" stroke-opacity="0.95"/>
<line x1="900.6" y1="133.9" x2="900.1" y2="135.1" stroke="rgb(212,212,212)" stroke-opacity="0.51"/>
<line x1="848.2" y1="161.9" x2="850.3" y2="164.3" stroke="rgb(221,221,221)" stroke-opacity="0.58"/>
<line x1="350.4" y1="424.9" x2="349.5" y2="428.1" stroke="rgb(215,215,215)" stroke-opacity="0.56"/>
<line x1="495.5" y1="463.5" x2="494.6" y2="465.3" stroke="rgb(227,227,227)" stroke-opacity="0.96"/>
<line x1="532.2" y1="495.9" x2="532.1" y2="498.6" stroke="rgb(221,221,221)" stroke-opacity="0.52"/>
<line x1="51.4" y1="511.1" x2="52.7" y2="513.1" stroke="rgb(218,218,218)" stroke-opacity="0.54"/>
<line x1="18.7" y1="295.6" x2="20.3" y2="297.2" stroke="rgb(217,217,217)" stroke-opacity="0.54"/>
<line x1="29.4" y1="378.4" x2="28.0" y2="381.1" stroke="rgb(228,228,228)" stroke-opacity="0.52"/>
<line x1="367.7" y1="281.1" x2="368.6" y2="281.5" stroke="rgb(223,223,223)" stroke-opacity="0.56"/>
<line x1="868.5" y1="294.3" x2="867.6" y2="295.5" stroke="rgb(232,232,232)" stroke-opacity="0.98"/>
<line x1="934.8" y1="145.1" x2="936.0" y2="149.3" stroke="rgb(233,233,233)" stroke-opacity="0.57"/>
<line x1="831.0" y1="380.5" x2="832.1" y2="380.7" stroke="rgb(229,229,229)" stroke-opacity="0.92"/>
<line x1="745.1" y1="237.8" x2="743.7" y2="241.9" stroke="rgb(222,222,222)" stroke-opacity="0.59"/>
<line x1="318.7" y1="80.6" x2="321.3" y2="81.0" stroke="rgb(233,233,233)" stroke-opacity="0.92"/>
<line x1="207.4" y1="76.9" x2="206.4" y2="77.8" stroke="rgb(230,230,230)" stroke-opacity="0.77"/>
<line x1="898.7" y1="265.7" x2="898.0" y2="266.7" stroke="rgb(217,217,217)" stroke-opacity="0.89"/>
<line x1="800.7" y1="394.4" x2="800.5" y2="395.9" stroke="rgb(220,220,220)" stroke-opacity="0.83"/>
<line x1="681.4" y1="248.5" x2="681.9" y2="250.4" stroke="rgb(234,234,234)" stroke-opacity="0.77"/>
<line x1="153.9" y1="160.1" x2="154.7" y2="162.2" stroke="rgb(236,236,236)" stroke-opacity="0.64"/>
<line x1="932.7" y1="144.3" x2="934.8" y2="147.3" stroke="rgb(214,214,214)" stroke-opacity="0.55"/>
<line x1="143.0" y1="538.8" x2="140.9" y2="538.8" stroke="rgb(231,231,231)" stroke-opacity="0.71"/>
<line x1="769.0" y1="112.3" x2="772.0" y2="113.0" stroke="rgb(227,227,227)" stroke-opacity="0.56"/>
<line x1="297.5" y1="459.9" x2="297.4" y2="462.8" stroke="rgb(234,234,234)" stroke-opacity="0.73"/>
<line x1="123.4" y1="511.9" x2="121.7" y2="514.7" stroke="rgb(224,224,224)" stroke-opacity="0.52"/>
<line x1="955.9" y1="490.3" x2="958.8" y2="491.8" stroke="rgb(219,219,219)" stroke-opacity="0.64"/>
<line x1="772.5" y1="351.6" x2="770.4" y2="353.8" stroke="rgb(220,220,220)" stroke-opacity="0.65"/>
<line x1="780.0" y1="450.4" x2="783.1" y2="452.9" stroke="rgb(212,212,212)" stroke-opacity="0.71"/>
<line x1="347.1" y1="41.6" x2="344.9" y2="45.0" stroke="rgb(227,227,227)" stroke-opacity="0.72"/>
<line x1="490.1" y1="242.6" x2="491.3" y2="242.9" stroke="rgb(216,216,216)" stroke-opacity="0.77"/>
<line x1="477.5" y1="139.7" x2="476.5" y2="141.2" stroke="rgb(222,222,222)" stroke-opacity="0.51"/>
<line x1="599.3" y1="377.1" x2="598.6" y2="379.2" stroke="rgb(218,218,218)" stroke-opacity="0.55"/>
<line x1="344.9" y1="40.3" x2="342.2" y2="40.6" stroke="rgb(236,236,236)" stroke-opacity="0.62"/>
<line x1="916.1" y1="461.6" x2="913.5" y2="464.7" stroke="rgb(231,231,231)" stroke-opacity="0.93"/>
<line x1="66.1" y1="513.6" x2="67.2" y2="516.6" stroke="rgb(225,225,225)" stroke-opacity="0.66"/>
<line x1="354.9" y1="425.2" x2="354.6" y2="427.5" stroke="rgb(218,218,218)" stroke-opacity="0.50"/>
<line x1="747.5" y1="349.7" x2="750.7" y2="350.5" stroke="rgb(214,214,214)" stroke-opacity="0.59"/>
<line x1="691.4" y1="270.2" x2="695.8" y2="270.4" stroke="rgb(230,230,230)" stroke-opacity="0.82"/>
<line x1="59.1" y1="303.0" x2="62.2" y2="304.7" stroke="rgb(236,236,236)" stroke-opacity="0.93"/>
<line x1="355.0" y1="500.9" x2="355.7" y2="502.2" stroke="rgb(218,218,218)" stroke-opacity="0.77"/>
<line x1="791.4" y1="435.4" x2="789.8" y2="438.2" stroke="rgb(217,217,217)" stroke-opacity="0.93"/>
<line x1="66.3" y1="259.9" x2="69.2" y2="262.1" stroke="rgb(227,227,227)" stroke-opacity="1.00"/>
<line x1="56.8" y1="33.3" x2="58.9" y2="33.8" stroke="rgb(217,217,217)" stroke-opacity="0.68"/>
<line x1="372.7" y1="461.6" x2="371.6" y2="464.3" stroke="rgb(226,226,226)" stroke-opacity="0.77"/>
<line x1="786.2" y1="298.6" x2="784.4" y2="301.3" stroke="rgb(216,216,216)" stroke-opacity="0.60"/>
<line x1="508.4" y1="46.1" x2="510.8" y2="46.4" stroke="rgb(225,225,225)" stroke-opacity="0.97"/>
<line x1="132.0" y1="477.5" x2="131.5" y2="478.6" stroke="rgb(216,216,216)" stroke-opacity="0.93"/>
<line x1="482.4" y1="58.6" x2="480.7" y2="60.7" stroke="rgb(222,222,222)" stroke-opacity="0.70"/>
<line x1="499.9" y1="151.6" x2="503.5" y2="154.0" stroke="rgb(216,216,216)" stroke-opacity="0.89"/>
<line x1="886.0" y1="104.4" x2="887.1" y2="106.4" stroke="rgb(223,223,223)" stroke-opacity="0.59"/>
<line x1="900.6" y1="496.0" x2="900.4" y2="497.8" stroke="rgb(215,215,215)" stroke-opacity="0.64"/>
<line x1="642.9" y1="222.3" x2="645.0" y2="225.0" stroke="rgb(226,226,226)" stroke-opacity="0.79"/>
<line x1="339.9" y1="332.6" x2="340.9" y2="336.9" stroke="rgb(221,221,221)" stroke-opacity="0.56"/>
</g>
<path d="M52,23.5 L720,25 Q860,24 905,23 Q938.5,24 938.5,56 Q933,210 933.5,260 Q935,400 938.5,482 Q938.5,513.5 908,513.5 Q860,513.5 700,509.5 Q520,506 450,505.5 Q360,505.5 200,509 Q60,513.5 50,513.5 Q21.5,513.5 21.5,483 C22.5,430 27.5,380 27.5,310 C27.5,230 22,150 22,78 Q22,23.5 52,23.5 Z" fill="#ffffff" stroke="#bababa" stroke-width="1"/>
<path d="M52,23.5 L720,25 Q860,24 905,23 Q938.5,24 938.5,56 Q933,210 933.5,260 Q935,400 938.5,482 Q938.5,513.5 908,513.5 Q860,513.5 700,509.5 Q520,506 450,505.5 Q360,505.5 200,509 Q60,513.5 50,513.5 Q21.5,513.5 21.5,483 C22.5,430 27.5,380 27.5,310 C27.5,230 22,150 22,78 Q22,23.5 52,23.5 Z" transform="translate(9,10)" fill="none" stroke="#b0b0b0" stroke-width="1" stroke-dasharray="4 3"/>
<polygon points="42,24 381.5,24 408,51 381.5,77.5 42,77.5" fill="rgb(133,188,184)" fill-opacity="0.85"/>
<rect x="0" y="24" width="42" height="53.5" fill="#66aca6"/>
<text x="98.5" y="62.5" font-size="30" font-weight="bold" fill="#ffffff" stroke="#ffffff" stroke-width="1.1" stroke-linejoin="round" letter-spacing="2.4">这里输入标题</text>

<text x="203" y="113.0" font-size="14.2" fill="#70afaa">标题文字内容</text>
<text x="203" y="132.6" font-size="10.7" fill="#7a7a7a" textLength="516" lengthAdjust="spacing">请插入文本的内容请插入文本的内容请插入文本的内容请插入文本的内容请插入文本的内容请插入文本的内容</text>
<path d="M203.5,145.5 H784 L796.5,158 V255.5 H203.5 Z" fill="none" stroke="#65aaa4" stroke-width="3" stroke-linejoin="round"/>
<polygon points="783.5,145 783.5,158.5 797,158.5" fill="#65aaa4"/>
<circle cx="203" cy="199.3" r="39" fill="#65aaa4"/>
<path d="M326.5,161.5 H322.5 V237.5 H326.5 M322.5,199.5 H326.5" stroke="#7f7f7f" stroke-width="1" fill="none"/>
<rect x="323" y="169" width="451" height="23" fill="#d9d9d9"/>
<rect x="323" y="169" width="270.6" height="23" fill="#65aaa4"/>
<rect x="323" y="207" width="451" height="23" fill="#d9d9d9"/>
<rect x="323" y="207" width="180.4" height="23" fill="#65aaa4"/>
<text x="587.3" y="188.5" font-size="19.5" font-weight="bold" fill="#fbebc4" stroke="#fbebc4" stroke-width="0.9" text-anchor="end" letter-spacing="1.6">60</text>
<text x="497.1" y="226.5" font-size="19.5" font-weight="bold" fill="#fbebc4" stroke="#fbebc4" stroke-width="0.9" text-anchor="end" letter-spacing="1.6">40</text>
<text x="263" y="185" font-size="13" font-weight="bold" fill="#65aaa4">标题<tspan x="294.6" letter-spacing="0.5" stroke="#65aaa4" stroke-width="0.5">02</tspan></text>
<text x="263" y="223" font-size="13" font-weight="bold" fill="#65aaa4">标题<tspan x="294.6" letter-spacing="0.5" stroke="#65aaa4" stroke-width="0.5">01</tspan></text>
<g fill="#fbebc4" stroke="#fbebc4" stroke-linecap="round" stroke-linejoin="round">
<ellipse cx="200.6" cy="181.2" rx="3.5" ry="3.9" stroke="none"/>
<path d="M196,186.6 Q190,187.2 188.2,190.5 Q187,193 186.9,196.6" fill="none" stroke-width="3.9"/>
<polyline points="201,187.4 205.2,193 212.6,193.5" fill="none" stroke-width="3.5"/>
<path d="M194.6,185.4 L199.6,186.4 L202.8,189 L204,193.2 L203.4,198.6 L201.2,201.8 L196.8,202.4 L192.6,200.6 L192.9,194.6 L193.4,189.2 Z" stroke-width="1"/>
<line x1="196.6" y1="205.2" x2="190.8" y2="215.6" stroke-width="4.4"/>
<path d="M198.2,200.6 Q206.8,202.2 209.8,210.8" fill="none" stroke-width="4.4"/>
<rect x="180.9" y="198.1" width="9.7" height="6.8" rx="0.8" stroke="none"/>
<polyline points="196,220.2 207,220.2 207.8,215.7 216.6,215.7 217.4,211.5 224.8,211.5" fill="none" stroke-width="2.7" stroke-linecap="butt" stroke-linejoin="miter"/>
</g>

<g transform="translate(0,189.5)">

<text x="203" y="109.5" font-size="14.2" fill="#93bad4">标题文字内容</text>
<text x="203" y="127.6" font-size="10.7" fill="#7a7a7a" textLength="516" lengthAdjust="spacing">请插入文本的内容请插入文本的内容请插入文本的内容请插入文本的内容请插入文本的内容请插入文本的内容</text>
<path d="M203.5,145.5 H784 L796.5,158 V255.5 H203.5 Z" fill="none" stroke="#8ab4d1" stroke-width="3" stroke-linejoin="round"/>
<polygon points="783.5,145 783.5,158.5 797,158.5" fill="#8ab4d1"/>
<circle cx="203" cy="199.3" r="39" fill="#8ab4d1"/>
<path d="M326.5,161.5 H322.5 V237.5 H326.5 M322.5,199.5 H326.5" stroke="#7f7f7f" stroke-width="1" fill="none"/>
<rect x="323" y="169" width="451" height="23" fill="#d9d9d9"/>
<rect x="323" y="169" width="157.8" height="23" fill="#8ab4d1"/>
<rect x="323" y="207" width="451" height="23" fill="#d9d9d9"/>
<rect x="323" y="207" width="360.8" height="23" fill="#8ab4d1"/>
<text x="474.6" y="188.5" font-size="19.5" font-weight="bold" fill="#fbebc4" stroke="#fbebc4" stroke-width="0.9" text-anchor="end" letter-spacing="1.6">35</text>
<text x="677.5" y="226.5" font-size="19.5" font-weight="bold" fill="#fbebc4" stroke="#fbebc4" stroke-width="0.9" text-anchor="end" letter-spacing="1.6">80</text>
<text x="263" y="185" font-size="13" font-weight="bold" fill="#8ab4d1">标题<tspan x="294.6" letter-spacing="0.5" stroke="#8ab4d1" stroke-width="0.5">02</tspan></text>
<text x="263" y="223" font-size="13" font-weight="bold" fill="#8ab4d1">标题<tspan x="294.6" letter-spacing="0.5" stroke="#8ab4d1" stroke-width="0.5">01</tspan></text>
<g transform="translate(0,-189.5)" fill="#fbebc4" stroke="#fbebc4" stroke-linecap="round" stroke-linejoin="round">
<polyline points="200,374.3 195.8,375.4 192.1,372.7 190,372.3 182.9,379.6 182.5,381.3 187.5,389.2" fill="none" stroke-width="1.8"/>
<circle cx="189.6" cy="393.2" r="2.6" stroke="none"/>
<circle cx="192.9" cy="396.1" r="2.6" stroke="none"/>
<circle cx="196.3" cy="398.8" r="2.5" stroke="none"/>
<circle cx="199.7" cy="401" r="2.4" stroke="none"/>
<circle cx="202.6" cy="402.6" r="2.2" stroke="none"/>
<polygon points="193.5,382.5 194.2,381.25 200,376.25 205.4,375 211.7,373.75 216.25,372.3 218.75,374.2 223.3,378.3 223.75,380.4 220.4,387.5 215,384.2 208.3,381.7 201.7,381.25 196.25,383.5 194.2,383.5" stroke-width="0.8"/>
<polyline points="208.3,382.4 219.6,391.7 220.2,395 218.3,398.3 214.2,402.5 210,404.6 207.5,404.2" fill="none" stroke-width="1.8"/>
<polyline points="214,393.5 208.8,400.5" fill="none" stroke-width="1.6"/>
<polyline points="217.3,396 212.2,402" fill="none" stroke-width="1.6"/>
<polyline points="210.6,391.5 206.4,397.6" fill="none" stroke-width="1.6"/>
</g>

</g>
</svg>
</body></html>
